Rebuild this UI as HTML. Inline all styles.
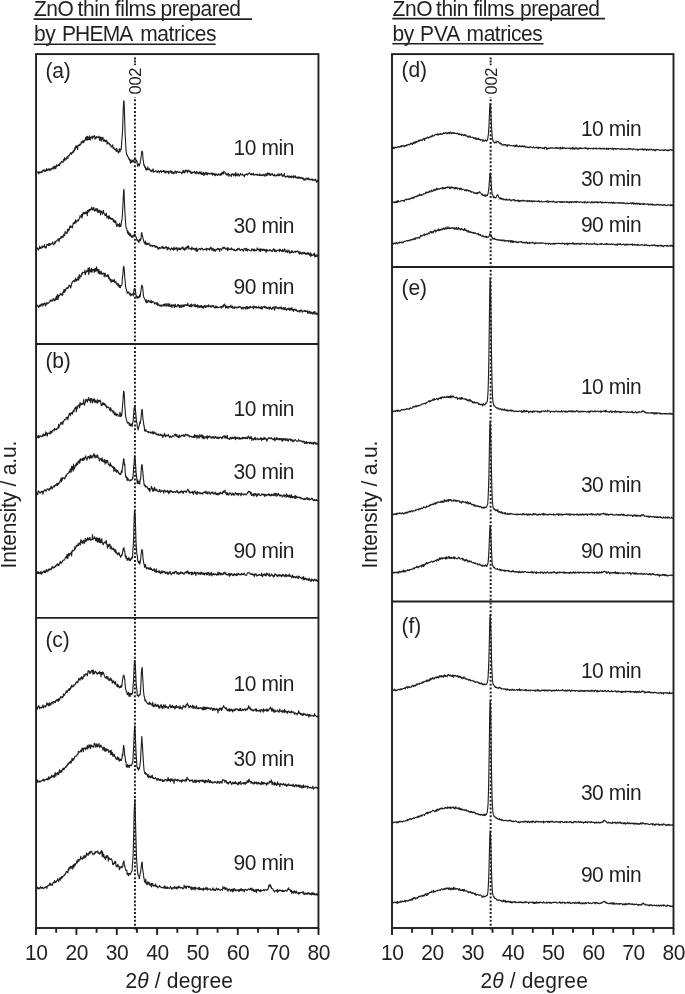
<!DOCTYPE html>
<html lang="en"><head><meta charset="utf-8"><title>XRD patterns of ZnO thin films</title>
<style>html,body{margin:0;padding:0;background:#fff}svg{display:block}</style></head>
<body>
<svg width="685" height="994" viewBox="0 0 685 994">
<rect width="685" height="994" fill="#fff"/>
<line x1="134.95" y1="57.5" x2="134.95" y2="65.6" stroke="#231f20" stroke-width="2.0" stroke-dasharray="2 1.06"/>
<line x1="134.95" y1="95.48" x2="134.95" y2="929.5" stroke="#231f20" stroke-width="2.0" stroke-dasharray="2.0 1.87"/>
<rect x="126.9" y="65.3" width="16" height="31.7" fill="#fff"/>
<line x1="490.65" y1="57.5" x2="490.65" y2="65.6" stroke="#231f20" stroke-width="2.0" stroke-dasharray="2 1.06"/>
<line x1="490.65" y1="95.48" x2="490.65" y2="929.5" stroke="#231f20" stroke-width="2.0" stroke-dasharray="2.0 1.87"/>
<rect x="482.6" y="65.3" width="16" height="31.7" fill="#fff"/>
<g fill="none" stroke="#231f20" stroke-width="1.12" stroke-linejoin="round">
<polyline points="36.0,173.0 36.5,173.2 36.9,172.6 37.3,172.0 37.7,172.4 38.1,171.8 38.5,172.7 38.9,173.8 39.3,172.1 39.7,171.9 40.1,172.8 40.5,172.6 40.9,172.3 41.3,171.3 41.7,172.1 42.1,172.6 42.5,170.7 42.9,171.4 43.3,170.0 43.7,170.4 44.1,169.8 44.5,171.2 44.9,170.1 45.3,171.4 45.7,171.2 46.1,170.8 46.5,168.5 46.9,170.2 47.3,170.5 47.8,170.5 48.2,168.8 48.6,169.7 49.0,169.0 49.4,169.0 49.8,170.7 50.2,168.7 50.6,169.3 51.0,170.0 51.4,168.4 51.8,168.7 52.2,168.7 52.6,168.4 53.0,167.0 53.4,168.0 53.8,169.1 54.2,166.0 54.6,168.2 55.0,167.2 55.4,166.2 55.8,168.6 56.2,167.1 56.6,164.8 57.0,165.9 57.4,166.1 57.8,165.1 58.2,165.7 58.6,164.6 59.0,165.1 59.5,165.6 59.9,163.1 60.3,163.7 60.7,162.7 61.1,163.0 61.5,161.2 61.9,161.6 62.3,161.7 62.7,162.5 63.1,162.5 63.5,159.4 63.9,159.6 64.3,160.8 64.7,157.5 65.1,158.8 65.5,158.9 65.9,160.1 66.3,159.0 66.7,157.5 67.1,157.0 67.5,156.8 67.9,158.5 68.3,155.7 68.7,155.5 69.1,155.9 69.5,154.9 69.9,154.4 70.3,152.8 70.8,153.8 71.2,152.8 71.6,154.4 72.0,153.3 72.4,152.1 72.8,152.5 73.2,150.8 73.6,152.2 74.0,150.4 74.4,150.8 74.8,147.9 75.2,149.6 75.6,146.5 76.0,145.7 76.4,147.5 76.8,146.3 77.2,147.3 77.6,149.7 78.0,145.2 78.4,145.1 78.8,145.8 79.2,145.8 79.6,144.5 80.0,144.1 80.4,145.0 80.8,144.4 81.2,141.9 81.6,142.9 82.0,142.7 82.5,140.9 82.9,142.4 83.3,140.5 83.7,142.8 84.1,141.4 84.5,140.9 84.9,139.7 85.3,140.1 85.7,137.2 86.1,138.1 86.5,140.0 86.9,136.3 87.3,140.3 87.7,136.4 88.1,139.8 88.5,137.3 88.9,139.5 89.3,138.4 89.7,135.8 90.1,139.7 90.5,139.9 90.9,137.6 91.3,137.2 91.7,137.3 92.1,136.1 92.5,139.0 92.9,136.6 93.3,137.3 93.8,136.2 94.2,136.4 94.6,135.5 95.0,139.2 95.4,137.2 95.8,138.8 96.2,137.5 96.6,136.5 97.0,137.1 97.4,136.9 97.8,137.8 98.2,137.4 98.6,137.6 99.0,136.1 99.4,137.1 99.8,140.8 100.2,137.6 100.6,137.2 101.0,139.4 101.4,141.1 101.8,137.2 102.2,139.1 102.6,138.7 103.0,137.3 103.4,141.1 103.8,140.3 104.2,140.6 104.6,139.7 105.0,141.7 105.5,140.5 105.9,141.3 106.3,140.3 106.7,140.4 107.1,144.2 107.5,142.0 107.9,143.4 108.3,143.2 108.7,142.9 109.1,143.2 109.5,145.0 109.9,144.1 110.3,144.6 110.7,145.1 111.1,147.0 111.5,146.7 111.9,146.6 112.3,145.6 112.7,144.9 113.1,148.3 113.5,148.7 113.9,147.5 114.3,148.7 114.7,149.4 115.1,149.7 115.5,150.2 115.9,148.7 116.3,151.5 116.7,148.2 117.2,151.2 117.6,150.9 118.0,151.6 118.4,153.1 118.8,152.7 119.2,149.4 119.6,148.7 120.0,151.8 120.4,149.1 120.8,149.7 121.2,149.5 121.6,143.6 122.0,138.2 122.4,134.1 122.8,123.2 123.2,110.6 123.6,101.8 124.0,100.8 124.4,109.7 124.8,124.6 125.2,134.7 125.6,142.0 126.0,150.2 126.4,152.7 126.8,155.2 127.2,154.9 127.6,156.3 128.0,156.7 128.5,157.5 128.9,159.3 129.3,158.7 129.7,160.4 130.1,160.8 130.5,163.1 130.9,159.6 131.3,162.4 131.7,161.5 132.1,161.8 132.5,160.2 132.9,161.1 133.3,162.0 133.7,160.3 134.1,159.5 134.5,158.3 134.9,159.9 135.3,159.6 135.7,158.5 136.1,161.6 136.5,161.2 136.9,160.6 137.3,164.0 137.7,166.3 138.1,165.1 138.5,163.9 138.9,164.0 139.3,165.9 139.7,164.2 140.2,162.7 140.6,160.4 141.0,157.3 141.4,154.5 141.8,151.4 142.2,151.1 142.6,152.7 143.0,158.6 143.4,160.8 143.8,165.3 144.2,164.5 144.6,166.7 145.0,167.5 145.4,166.7 145.8,170.0 146.2,170.0 146.6,168.4 147.0,169.8 147.4,169.6 147.8,166.8 148.2,169.7 148.6,169.6 149.0,169.8 149.4,168.8 149.8,169.7 150.2,169.9 150.6,171.3 151.0,170.6 151.5,170.3 151.9,171.9 152.3,170.0 152.7,170.2 153.1,168.9 153.5,172.2 153.9,171.7 154.3,171.7 154.7,171.5 155.1,171.0 155.5,171.2 155.9,170.8 156.3,170.9 156.7,171.2 157.1,172.6 157.5,171.7 157.9,171.2 158.3,170.8 158.7,170.7 159.1,172.9 159.5,171.9 159.9,171.5 160.3,171.1 160.7,170.5 161.1,171.5 161.5,172.4 161.9,171.2 162.3,171.4 162.7,171.4 163.2,171.8 163.6,170.2 164.0,171.5 164.4,170.9 164.8,172.6 165.2,171.1 165.6,172.3 166.0,173.2 166.4,171.5 166.8,171.3 167.2,172.1 167.6,171.9 168.0,171.0 168.4,172.3 168.8,173.8 169.2,171.7 169.6,171.8 170.0,171.0 170.4,172.3 170.8,170.9 171.2,171.0 171.6,173.2 172.0,171.2 172.4,173.0 172.8,173.5 173.2,172.3 173.6,172.6 174.0,173.9 174.5,171.9 174.9,171.6 175.3,170.9 175.7,172.2 176.1,173.5 176.5,173.0 176.9,171.3 177.3,171.4 177.7,171.7 178.1,172.5 178.5,172.0 178.9,172.4 179.3,172.5 179.7,171.9 180.1,172.2 180.5,172.4 180.9,172.2 181.3,172.7 181.7,173.9 182.1,172.8 182.5,172.3 182.9,170.7 183.3,172.6 183.7,170.4 184.1,170.9 184.5,172.9 184.9,172.6 185.3,171.7 185.7,170.0 186.2,170.9 186.6,170.2 187.0,171.2 187.4,172.6 187.8,170.8 188.2,170.2 188.6,170.2 189.0,171.6 189.4,171.7 189.8,171.0 190.2,172.3 190.6,171.2 191.0,173.4 191.4,173.3 191.8,173.4 192.2,172.0 192.6,173.0 193.0,172.4 193.4,172.2 193.8,172.3 194.2,171.4 194.6,171.3 195.0,173.4 195.4,172.5 195.8,172.9 196.2,173.7 196.6,171.2 197.0,172.1 197.4,173.0 197.9,173.2 198.3,172.6 198.7,173.9 199.1,173.2 199.5,171.9 199.9,172.2 200.3,173.8 200.7,173.6 201.1,171.5 201.5,174.4 201.9,173.8 202.3,174.5 202.7,173.0 203.1,173.1 203.5,172.4 203.9,175.7 204.3,173.3 204.7,174.9 205.1,173.0 205.5,173.8 205.9,172.2 206.3,173.4 206.7,174.6 207.1,172.7 207.5,174.8 207.9,174.2 208.3,173.0 208.7,173.5 209.2,173.6 209.6,174.0 210.0,173.6 210.4,173.4 210.8,173.9 211.2,173.3 211.6,173.1 212.0,174.2 212.4,175.1 212.8,173.0 213.2,174.4 213.6,173.8 214.0,173.6 214.4,175.2 214.8,174.1 215.2,175.8 215.6,173.9 216.0,174.9 216.4,174.4 216.8,174.0 217.2,175.2 217.6,174.5 218.0,175.2 218.4,174.7 218.8,173.8 219.2,174.6 219.6,174.8 220.0,175.5 220.4,173.9 220.9,174.6 221.3,173.1 221.7,175.0 222.1,173.3 222.5,172.3 222.9,173.5 223.3,174.0 223.7,171.3 224.1,171.5 224.5,172.0 224.9,172.1 225.3,173.9 225.7,173.2 226.1,173.6 226.5,175.0 226.9,174.0 227.3,175.1 227.7,174.0 228.1,173.8 228.5,173.3 228.9,176.5 229.3,174.6 229.7,175.1 230.1,174.9 230.5,175.1 230.9,175.0 231.3,176.6 231.7,174.1 232.2,173.7 232.6,174.1 233.0,173.9 233.4,175.6 233.8,175.7 234.2,174.2 234.6,173.8 235.0,174.7 235.4,176.2 235.8,172.6 236.2,175.5 236.6,174.1 237.0,175.9 237.4,174.1 237.8,174.8 238.2,173.8 238.6,174.2 239.0,176.2 239.4,175.7 239.8,174.7 240.2,174.3 240.6,173.4 241.0,174.7 241.4,175.0 241.8,175.0 242.2,175.0 242.6,174.1 243.0,175.0 243.4,175.0 243.9,176.1 244.3,176.6 244.7,174.9 245.1,174.3 245.5,174.9 245.9,174.4 246.3,174.2 246.7,174.7 247.1,173.7 247.5,175.0 247.9,174.1 248.3,174.1 248.7,173.5 249.1,172.9 249.5,172.9 249.9,173.7 250.3,173.7 250.7,174.7 251.1,174.6 251.5,173.6 251.9,174.9 252.3,173.8 252.7,174.4 253.1,174.7 253.5,173.2 253.9,175.1 254.3,175.2 254.7,174.9 255.2,174.7 255.6,174.7 256.0,174.2 256.4,174.8 256.8,174.6 257.2,175.2 257.6,174.0 258.0,175.3 258.4,175.2 258.8,175.0 259.2,174.7 259.6,175.6 260.0,173.7 260.4,175.5 260.8,175.3 261.2,175.3 261.6,175.4 262.0,174.5 262.4,174.9 262.8,175.6 263.2,175.5 263.6,175.3 264.0,173.8 264.4,175.5 264.8,176.1 265.2,175.9 265.6,175.2 266.0,173.7 266.4,175.8 266.9,174.9 267.3,172.8 267.7,175.2 268.1,173.4 268.5,173.4 268.9,173.7 269.3,175.1 269.7,173.4 270.1,173.9 270.5,175.3 270.9,175.4 271.3,174.2 271.7,174.3 272.1,173.6 272.5,174.3 272.9,175.3 273.3,175.4 273.7,175.2 274.1,175.9 274.5,174.4 274.9,175.1 275.3,175.8 275.7,175.6 276.1,176.1 276.5,175.5 276.9,174.9 277.3,175.5 277.7,174.4 278.1,173.9 278.6,175.8 279.0,175.2 279.4,175.6 279.8,173.9 280.2,175.0 280.6,174.9 281.0,174.7 281.4,173.5 281.8,175.2 282.2,176.3 282.6,175.9 283.0,175.1 283.4,175.6 283.8,176.3 284.2,173.4 284.6,175.6 285.0,176.2 285.4,176.4 285.8,177.3 286.2,176.8 286.6,176.2 287.0,176.2 287.4,176.7 287.8,175.6 288.2,176.1 288.6,176.9 289.0,177.8 289.4,176.1 289.9,176.3 290.3,176.5 290.7,177.5 291.1,176.4 291.5,177.7 291.9,175.8 292.3,176.5 292.7,176.5 293.1,177.4 293.5,177.7 293.9,175.6 294.3,176.2 294.7,177.3 295.1,176.5 295.5,175.9 295.9,178.0 296.3,177.6 296.7,177.7 297.1,177.0 297.5,178.3 297.9,177.3 298.3,178.4 298.7,176.9 299.1,177.0 299.5,177.9 299.9,177.3 300.3,178.4 300.7,178.2 301.1,177.3 301.6,178.1 302.0,177.9 302.4,178.9 302.8,177.8 303.2,178.0 303.6,179.4 304.0,180.2 304.4,180.1 304.8,178.7 305.2,178.9 305.6,179.9 306.0,178.7 306.4,178.1 306.8,179.0 307.2,179.4 307.6,178.5 308.0,177.9 308.4,178.1 308.8,179.8 309.2,178.8 309.6,179.3 310.0,179.6 310.4,180.0 310.8,179.4 311.2,180.0 311.6,179.1 312.0,179.5 312.4,179.1 312.9,180.8 313.3,180.0 313.7,179.5 314.1,179.8 314.5,180.0 314.9,180.7 315.3,179.1 315.7,179.6 316.1,180.1 316.5,182.3 316.9,181.2 317.3,180.5 317.7,181.1 318.1,182.1 318.5,180.5"/>
<polyline points="36.0,248.2 36.5,249.5 36.9,248.8 37.3,248.9 37.7,247.8 38.1,249.9 38.5,249.7 38.9,248.6 39.3,248.6 39.7,246.1 40.1,248.4 40.5,247.6 40.9,248.1 41.3,248.2 41.7,247.2 42.1,245.9 42.5,247.6 42.9,246.5 43.3,246.8 43.7,246.4 44.1,246.6 44.5,244.6 44.9,247.8 45.3,246.8 45.7,247.4 46.1,248.1 46.5,246.1 46.9,244.3 47.3,245.0 47.8,244.5 48.2,245.1 48.6,245.4 49.0,243.3 49.4,245.4 49.8,243.4 50.2,245.0 50.6,244.4 51.0,244.0 51.4,244.0 51.8,243.4 52.2,243.1 52.6,241.8 53.0,243.2 53.4,244.8 53.8,244.7 54.2,243.9 54.6,243.0 55.0,241.4 55.4,243.2 55.8,241.5 56.2,241.2 56.6,240.7 57.0,240.8 57.4,239.9 57.8,240.0 58.2,238.7 58.6,239.1 59.0,241.6 59.5,238.8 59.9,238.3 60.3,238.8 60.7,238.6 61.1,236.3 61.5,236.9 61.9,237.8 62.3,236.7 62.7,236.2 63.1,237.4 63.5,234.6 63.9,235.0 64.3,233.9 64.7,235.8 65.1,231.5 65.5,232.6 65.9,232.3 66.3,233.3 66.7,232.8 67.1,233.3 67.5,229.4 67.9,231.7 68.3,230.0 68.7,229.1 69.1,230.2 69.5,227.9 69.9,226.1 70.3,227.7 70.8,225.9 71.2,226.5 71.6,227.3 72.0,226.8 72.4,227.9 72.8,225.2 73.2,223.0 73.6,223.6 74.0,222.9 74.4,222.1 74.8,223.8 75.2,221.9 75.6,219.7 76.0,222.8 76.4,221.3 76.8,221.5 77.2,220.7 77.6,221.0 78.0,219.7 78.4,220.9 78.8,219.4 79.2,219.0 79.6,218.6 80.0,215.6 80.4,217.0 80.8,216.5 81.2,216.8 81.6,214.2 82.0,218.0 82.5,215.5 82.9,213.3 83.3,212.3 83.7,214.0 84.1,213.9 84.5,212.7 84.9,213.6 85.3,212.2 85.7,213.7 86.1,211.6 86.5,212.3 86.9,213.5 87.3,215.6 87.7,210.2 88.1,210.8 88.5,210.0 88.9,212.2 89.3,209.2 89.7,210.0 90.1,210.6 90.5,209.0 90.9,209.0 91.3,209.6 91.7,207.1 92.1,208.0 92.5,209.4 92.9,210.2 93.3,209.7 93.8,207.3 94.2,209.3 94.6,211.1 95.0,210.8 95.4,209.9 95.8,208.7 96.2,211.0 96.6,209.3 97.0,208.5 97.4,209.1 97.8,212.6 98.2,210.8 98.6,212.3 99.0,210.1 99.4,212.3 99.8,210.2 100.2,211.0 100.6,215.0 101.0,212.7 101.4,211.0 101.8,211.8 102.2,212.6 102.6,214.1 103.0,211.9 103.4,210.3 103.8,212.7 104.2,213.3 104.6,213.7 105.0,215.7 105.5,214.6 105.9,215.5 106.3,213.1 106.7,216.2 107.1,218.2 107.5,216.7 107.9,216.2 108.3,216.4 108.7,219.0 109.1,215.6 109.5,217.0 109.9,218.2 110.3,218.9 110.7,217.6 111.1,219.0 111.5,218.5 111.9,219.4 112.3,219.4 112.7,218.4 113.1,220.3 113.5,221.9 113.9,219.7 114.3,221.1 114.7,222.6 115.1,220.7 115.5,222.7 115.9,221.4 116.3,224.6 116.7,226.4 117.2,226.4 117.6,223.8 118.0,225.3 118.4,224.7 118.8,224.9 119.2,227.0 119.6,223.4 120.0,226.5 120.4,225.0 120.8,226.5 121.2,224.1 121.6,221.3 122.0,219.5 122.4,215.1 122.8,206.8 123.2,199.1 123.6,191.3 124.0,189.2 124.4,200.7 124.8,209.6 125.2,216.7 125.6,222.5 126.0,227.5 126.4,228.0 126.8,229.2 127.2,230.9 127.6,233.3 128.0,231.0 128.5,234.5 128.9,232.9 129.3,232.9 129.7,236.0 130.1,234.8 130.5,233.8 130.9,235.2 131.3,237.0 131.7,237.5 132.1,235.9 132.5,236.9 132.9,237.2 133.3,235.4 133.7,236.1 134.1,235.0 134.5,233.9 134.9,234.1 135.3,235.5 135.7,236.6 136.1,237.0 136.5,238.0 136.9,240.3 137.3,239.7 137.7,240.8 138.1,241.3 138.5,240.8 138.9,242.7 139.3,239.4 139.7,240.9 140.2,239.1 140.6,240.4 141.0,238.8 141.4,232.9 141.8,232.7 142.2,234.8 142.6,236.5 143.0,238.6 143.4,239.6 143.8,241.5 144.2,242.6 144.6,242.5 145.0,244.0 145.4,241.0 145.8,244.1 146.2,242.7 146.6,244.8 147.0,243.8 147.4,243.3 147.8,244.7 148.2,243.5 148.6,243.7 149.0,243.2 149.4,244.7 149.8,245.4 150.2,246.0 150.6,244.9 151.0,246.2 151.5,245.3 151.9,245.3 152.3,246.0 152.7,246.6 153.1,245.4 153.5,245.6 153.9,245.8 154.3,246.1 154.7,245.4 155.1,247.3 155.5,246.1 155.9,247.1 156.3,246.0 156.7,247.3 157.1,247.4 157.5,246.8 157.9,249.2 158.3,247.8 158.7,249.2 159.1,248.6 159.5,247.2 159.9,247.5 160.3,248.3 160.7,248.1 161.1,248.1 161.5,247.8 161.9,246.5 162.3,248.0 162.7,246.2 163.2,248.6 163.6,247.6 164.0,247.7 164.4,248.1 164.8,248.6 165.2,247.1 165.6,246.9 166.0,247.5 166.4,246.7 166.8,247.6 167.2,249.9 167.6,247.6 168.0,249.1 168.4,247.4 168.8,248.8 169.2,248.3 169.6,248.6 170.0,249.1 170.4,250.2 170.8,248.8 171.2,248.8 171.6,247.8 172.0,249.2 172.4,248.5 172.8,249.5 173.2,248.7 173.6,250.3 174.0,247.0 174.5,248.5 174.9,249.5 175.3,248.5 175.7,248.1 176.1,248.6 176.5,247.6 176.9,248.9 177.3,250.9 177.7,249.8 178.1,247.8 178.5,248.1 178.9,248.5 179.3,249.7 179.7,248.1 180.1,248.2 180.5,249.6 180.9,249.6 181.3,248.5 181.7,247.9 182.1,247.5 182.5,248.2 182.9,246.9 183.3,249.5 183.7,248.2 184.1,249.2 184.5,250.3 184.9,249.7 185.3,247.5 185.7,249.1 186.2,249.1 186.6,247.1 187.0,246.7 187.4,247.4 187.8,246.1 188.2,249.1 188.6,245.9 189.0,247.4 189.4,248.3 189.8,248.5 190.2,248.9 190.6,249.1 191.0,248.7 191.4,249.9 191.8,247.1 192.2,248.9 192.6,248.3 193.0,249.1 193.4,249.2 193.8,248.2 194.2,248.4 194.6,249.7 195.0,249.3 195.4,248.4 195.8,250.8 196.2,251.1 196.6,247.8 197.0,249.3 197.4,251.3 197.9,249.8 198.3,249.3 198.7,248.9 199.1,248.6 199.5,248.9 199.9,248.6 200.3,249.8 200.7,248.8 201.1,248.8 201.5,248.1 201.9,249.1 202.3,248.4 202.7,249.0 203.1,250.1 203.5,249.5 203.9,249.6 204.3,249.5 204.7,249.2 205.1,249.1 205.5,248.9 205.9,249.9 206.3,248.3 206.7,250.4 207.1,249.3 207.5,248.6 207.9,248.8 208.3,248.7 208.7,249.4 209.2,248.6 209.6,250.3 210.0,248.6 210.4,247.3 210.8,248.6 211.2,247.6 211.6,249.3 212.0,250.2 212.4,249.9 212.8,248.2 213.2,248.7 213.6,250.9 214.0,249.6 214.4,249.3 214.8,250.2 215.2,251.5 215.6,250.5 216.0,249.5 216.4,249.7 216.8,249.9 217.2,248.8 217.6,248.4 218.0,249.4 218.4,248.5 218.8,249.3 219.2,249.4 219.6,251.4 220.0,248.6 220.4,249.2 220.9,249.1 221.3,249.6 221.7,250.1 222.1,248.6 222.5,248.1 222.9,247.2 223.3,247.5 223.7,248.6 224.1,248.0 224.5,247.2 224.9,248.0 225.3,248.7 225.7,249.3 226.1,248.6 226.5,249.0 226.9,247.7 227.3,248.4 227.7,250.8 228.1,247.6 228.5,249.2 228.9,249.7 229.3,249.2 229.7,248.8 230.1,249.5 230.5,249.5 230.9,249.5 231.3,247.9 231.7,249.4 232.2,248.8 232.6,249.1 233.0,249.8 233.4,250.1 233.8,250.4 234.2,249.2 234.6,250.4 235.0,250.6 235.4,250.6 235.8,250.8 236.2,249.5 236.6,249.5 237.0,250.3 237.4,248.5 237.8,249.8 238.2,249.2 238.6,249.3 239.0,248.2 239.4,248.9 239.8,249.7 240.2,250.4 240.6,250.5 241.0,249.6 241.4,249.5 241.8,249.0 242.2,250.0 242.6,249.5 243.0,250.2 243.4,251.2 243.9,249.7 244.3,248.4 244.7,249.0 245.1,248.5 245.5,248.7 245.9,250.9 246.3,249.9 246.7,248.4 247.1,250.3 247.5,250.8 247.9,249.4 248.3,249.2 248.7,249.5 249.1,250.0 249.5,250.3 249.9,250.8 250.3,250.8 250.7,250.8 251.1,251.0 251.5,250.4 251.9,248.5 252.3,249.7 252.7,250.1 253.1,249.5 253.5,250.6 253.9,249.5 254.3,249.0 254.7,251.1 255.2,250.4 255.6,250.0 256.0,250.6 256.4,250.8 256.8,250.2 257.2,247.8 257.6,249.3 258.0,249.5 258.4,249.0 258.8,250.1 259.2,250.9 259.6,249.5 260.0,248.9 260.4,251.6 260.8,249.5 261.2,248.9 261.6,250.1 262.0,250.3 262.4,249.3 262.8,250.6 263.2,249.5 263.6,249.2 264.0,250.1 264.4,250.6 264.8,249.4 265.2,250.3 265.6,249.9 266.0,252.4 266.4,249.4 266.9,251.2 267.3,250.0 267.7,249.9 268.1,250.7 268.5,250.8 268.9,251.1 269.3,250.3 269.7,249.6 270.1,249.6 270.5,250.5 270.9,250.6 271.3,251.3 271.7,250.5 272.1,251.0 272.5,251.4 272.9,250.3 273.3,248.9 273.7,249.2 274.1,249.0 274.5,251.5 274.9,249.5 275.3,251.2 275.7,250.7 276.1,251.7 276.5,251.1 276.9,250.2 277.3,250.1 277.7,250.4 278.1,250.5 278.6,249.9 279.0,250.3 279.4,251.7 279.8,249.0 280.2,250.7 280.6,249.7 281.0,250.7 281.4,251.2 281.8,250.5 282.2,251.2 282.6,249.3 283.0,251.6 283.4,250.2 283.8,251.2 284.2,250.9 284.6,248.7 285.0,250.2 285.4,251.1 285.8,252.2 286.2,251.2 286.6,251.2 287.0,249.9 287.4,252.3 287.8,252.6 288.2,251.2 288.6,251.1 289.0,250.0 289.4,252.1 289.9,253.6 290.3,252.0 290.7,252.5 291.1,252.0 291.5,250.8 291.9,252.7 292.3,250.7 292.7,251.6 293.1,252.0 293.5,252.6 293.9,252.3 294.3,252.3 294.7,251.4 295.1,251.1 295.5,252.2 295.9,251.6 296.3,251.2 296.7,251.3 297.1,252.0 297.5,251.0 297.9,251.4 298.3,251.3 298.7,252.8 299.1,253.0 299.5,254.3 299.9,251.6 300.3,252.3 300.7,253.6 301.1,252.8 301.6,252.8 302.0,254.4 302.4,252.9 302.8,252.3 303.2,252.3 303.6,253.6 304.0,253.7 304.4,252.4 304.8,252.8 305.2,254.0 305.6,254.1 306.0,253.2 306.4,254.3 306.8,254.3 307.2,252.6 307.6,253.7 308.0,254.4 308.4,253.7 308.8,252.6 309.2,254.0 309.6,254.9 310.0,255.5 310.4,252.8 310.8,256.4 311.2,253.7 311.6,255.3 312.0,255.6 312.4,255.4 312.9,254.9 313.3,254.0 313.7,255.3 314.1,254.4 314.5,253.1 314.9,257.1 315.3,255.6 315.7,256.5 316.1,254.5 316.5,256.3 316.9,256.5 317.3,256.5 317.7,255.4 318.1,254.6 318.5,255.4"/>
<polyline points="36.0,304.2 36.5,304.6 36.9,306.1 37.3,305.1 37.7,305.8 38.1,305.7 38.5,307.5 38.9,306.8 39.3,305.6 39.7,306.6 40.1,304.7 40.5,305.0 40.9,306.1 41.3,304.0 41.7,304.8 42.1,303.7 42.5,304.9 42.9,306.2 43.3,303.9 43.7,304.6 44.1,303.5 44.5,303.1 44.9,302.9 45.3,305.3 45.7,306.0 46.1,304.1 46.5,302.8 46.9,304.0 47.3,302.8 47.8,303.7 48.2,303.1 48.6,302.9 49.0,303.0 49.4,301.7 49.8,301.6 50.2,300.2 50.6,301.2 51.0,300.0 51.4,301.1 51.8,300.0 52.2,300.9 52.6,301.0 53.0,298.9 53.4,299.2 53.8,298.8 54.2,300.3 54.6,301.0 55.0,299.9 55.4,298.4 55.8,300.0 56.2,296.6 56.6,299.4 57.0,296.9 57.4,294.3 57.8,299.8 58.2,298.3 58.6,295.2 59.0,296.2 59.5,295.4 59.9,295.4 60.3,293.4 60.7,293.9 61.1,294.8 61.5,294.2 61.9,294.9 62.3,293.3 62.7,295.5 63.1,291.6 63.5,292.4 63.9,289.5 64.3,289.8 64.7,292.4 65.1,289.4 65.5,290.7 65.9,289.6 66.3,288.0 66.7,288.5 67.1,287.8 67.5,287.5 67.9,288.5 68.3,288.0 68.7,286.1 69.1,285.2 69.5,286.3 69.9,285.4 70.3,286.4 70.8,288.0 71.2,285.3 71.6,283.8 72.0,283.1 72.4,281.8 72.8,281.4 73.2,280.8 73.6,281.2 74.0,280.7 74.4,281.8 74.8,279.9 75.2,279.8 75.6,278.0 76.0,281.4 76.4,279.5 76.8,280.8 77.2,279.1 77.6,279.7 78.0,276.9 78.4,277.9 78.8,280.3 79.2,274.5 79.6,277.5 80.0,277.8 80.4,275.7 80.8,275.9 81.2,276.3 81.6,273.3 82.0,274.5 82.5,272.4 82.9,272.3 83.3,272.2 83.7,272.6 84.1,272.7 84.5,273.0 84.9,270.0 85.3,274.8 85.7,273.3 86.1,272.5 86.5,270.7 86.9,270.9 87.3,271.7 87.7,271.4 88.1,268.1 88.5,271.6 88.9,274.7 89.3,267.5 89.7,271.7 90.1,270.7 90.5,269.9 90.9,272.1 91.3,268.2 91.7,270.2 92.1,272.2 92.5,269.7 92.9,269.3 93.3,270.2 93.8,269.4 94.2,272.4 94.6,268.8 95.0,271.5 95.4,268.4 95.8,271.3 96.2,270.3 96.6,266.7 97.0,270.6 97.4,269.2 97.8,270.3 98.2,273.3 98.6,269.6 99.0,269.8 99.4,273.7 99.8,271.9 100.2,274.2 100.6,272.6 101.0,271.0 101.4,272.4 101.8,274.5 102.2,274.3 102.6,273.2 103.0,273.5 103.4,273.5 103.8,273.1 104.2,277.0 104.6,274.5 105.0,273.1 105.5,274.4 105.9,276.4 106.3,276.5 106.7,275.7 107.1,275.3 107.5,276.6 107.9,274.5 108.3,275.3 108.7,278.6 109.1,277.1 109.5,278.7 109.9,280.2 110.3,279.7 110.7,279.2 111.1,282.4 111.5,280.7 111.9,279.7 112.3,281.5 112.7,281.4 113.1,280.0 113.5,281.6 113.9,281.6 114.3,279.6 114.7,282.3 115.1,282.5 115.5,282.6 115.9,281.4 116.3,283.4 116.7,284.1 117.2,284.6 117.6,283.3 118.0,285.9 118.4,283.8 118.8,285.3 119.2,287.5 119.6,285.2 120.0,285.5 120.4,287.6 120.8,285.7 121.2,285.4 121.6,285.2 122.0,284.7 122.4,277.4 122.8,275.2 123.2,270.1 123.6,266.4 124.0,267.0 124.4,271.3 124.8,278.3 125.2,281.4 125.6,286.2 126.0,288.9 126.4,289.0 126.8,291.0 127.2,293.4 127.6,292.4 128.0,291.8 128.5,292.8 128.9,292.2 129.3,293.9 129.7,294.9 130.1,293.2 130.5,294.2 130.9,295.9 131.3,294.2 131.7,295.1 132.1,293.8 132.5,293.8 132.9,293.7 133.3,295.9 133.7,291.6 134.1,289.7 134.5,288.2 134.9,288.5 135.3,290.9 135.7,292.5 136.1,296.4 136.5,295.8 136.9,298.1 137.3,297.4 137.7,298.2 138.1,296.2 138.5,297.7 138.9,297.7 139.3,297.3 139.7,294.7 140.2,296.7 140.6,293.4 141.0,290.5 141.4,287.5 141.8,285.0 142.2,286.0 142.6,286.7 143.0,290.7 143.4,295.2 143.8,297.3 144.2,298.2 144.6,298.9 145.0,299.2 145.4,300.4 145.8,301.9 146.2,299.9 146.6,302.7 147.0,302.2 147.4,301.0 147.8,302.4 148.2,300.3 148.6,300.2 149.0,300.7 149.4,301.7 149.8,301.9 150.2,301.8 150.6,302.4 151.0,300.4 151.5,303.0 151.9,301.2 152.3,302.0 152.7,302.4 153.1,301.8 153.5,301.7 153.9,302.1 154.3,303.2 154.7,303.9 155.1,304.0 155.5,302.7 155.9,303.0 156.3,303.0 156.7,304.4 157.1,302.3 157.5,305.4 157.9,303.9 158.3,303.8 158.7,304.9 159.1,305.7 159.5,305.1 159.9,305.9 160.3,305.1 160.7,306.1 161.1,306.2 161.5,305.0 161.9,306.4 162.3,305.3 162.7,305.3 163.2,304.4 163.6,305.0 164.0,306.0 164.4,304.1 164.8,305.9 165.2,305.7 165.6,305.6 166.0,303.4 166.4,305.3 166.8,306.0 167.2,304.8 167.6,305.6 168.0,303.4 168.4,306.1 168.8,304.9 169.2,306.3 169.6,303.9 170.0,306.2 170.4,305.4 170.8,306.3 171.2,304.8 171.6,305.1 172.0,307.7 172.4,304.9 172.8,305.0 173.2,305.4 173.6,304.8 174.0,306.8 174.5,307.3 174.9,305.1 175.3,304.2 175.7,306.8 176.1,306.7 176.5,306.5 176.9,306.8 177.3,305.0 177.7,305.6 178.1,304.5 178.5,304.5 178.9,306.7 179.3,305.2 179.7,307.8 180.1,305.9 180.5,305.2 180.9,306.5 181.3,307.4 181.7,306.2 182.1,304.7 182.5,306.1 182.9,307.0 183.3,305.3 183.7,305.1 184.1,306.6 184.5,305.8 184.9,304.6 185.3,305.1 185.7,304.6 186.2,305.3 186.6,304.9 187.0,305.6 187.4,305.1 187.8,303.1 188.2,305.2 188.6,305.9 189.0,305.7 189.4,306.5 189.8,305.2 190.2,304.9 190.6,306.7 191.0,304.9 191.4,304.0 191.8,306.9 192.2,305.3 192.6,305.7 193.0,304.8 193.4,304.8 193.8,305.0 194.2,305.7 194.6,306.4 195.0,304.0 195.4,306.8 195.8,305.1 196.2,305.2 196.6,306.7 197.0,306.1 197.4,304.8 197.9,307.8 198.3,305.4 198.7,306.4 199.1,306.4 199.5,307.5 199.9,305.8 200.3,307.1 200.7,305.6 201.1,307.3 201.5,305.6 201.9,306.0 202.3,308.0 202.7,306.6 203.1,306.4 203.5,308.3 203.9,306.7 204.3,305.7 204.7,307.0 205.1,305.4 205.5,307.4 205.9,307.5 206.3,305.9 206.7,305.9 207.1,306.6 207.5,306.5 207.9,305.6 208.3,307.0 208.7,304.7 209.2,306.2 209.6,306.2 210.0,306.3 210.4,306.8 210.8,305.5 211.2,307.1 211.6,306.5 212.0,306.1 212.4,305.4 212.8,305.6 213.2,307.0 213.6,305.8 214.0,306.7 214.4,307.6 214.8,307.6 215.2,308.1 215.6,306.5 216.0,305.8 216.4,307.6 216.8,307.0 217.2,307.7 217.6,306.8 218.0,307.8 218.4,307.5 218.8,307.4 219.2,307.2 219.6,307.1 220.0,307.0 220.4,306.9 220.9,307.6 221.3,306.2 221.7,308.1 222.1,306.3 222.5,307.0 222.9,305.7 223.3,305.2 223.7,307.0 224.1,304.7 224.5,304.0 224.9,304.8 225.3,305.6 225.7,308.1 226.1,306.6 226.5,307.5 226.9,305.9 227.3,307.2 227.7,307.5 228.1,308.5 228.5,306.4 228.9,307.5 229.3,307.3 229.7,306.2 230.1,307.0 230.5,306.8 230.9,305.1 231.3,307.6 231.7,307.6 232.2,306.7 232.6,306.0 233.0,308.4 233.4,307.4 233.8,308.0 234.2,308.4 234.6,306.7 235.0,307.9 235.4,307.0 235.8,307.2 236.2,307.1 236.6,307.2 237.0,308.2 237.4,307.3 237.8,307.1 238.2,307.0 238.6,307.6 239.0,306.5 239.4,306.8 239.8,307.2 240.2,306.8 240.6,307.2 241.0,306.8 241.4,309.0 241.8,308.5 242.2,307.7 242.6,307.3 243.0,309.2 243.4,307.6 243.9,307.3 244.3,307.6 244.7,307.6 245.1,308.6 245.5,307.3 245.9,309.2 246.3,306.6 246.7,308.0 247.1,306.5 247.5,309.0 247.9,307.1 248.3,307.4 248.7,308.2 249.1,308.5 249.5,306.5 249.9,307.1 250.3,306.2 250.7,307.6 251.1,307.4 251.5,307.2 251.9,306.9 252.3,307.1 252.7,306.8 253.1,307.9 253.5,308.8 253.9,305.8 254.3,307.4 254.7,307.1 255.2,307.9 255.6,306.7 256.0,307.4 256.4,306.6 256.8,308.1 257.2,307.6 257.6,307.4 258.0,307.9 258.4,307.4 258.8,306.2 259.2,308.1 259.6,307.8 260.0,307.5 260.4,308.5 260.8,308.7 261.2,306.7 261.6,307.0 262.0,309.0 262.4,308.9 262.8,307.0 263.2,306.7 263.6,307.1 264.0,307.3 264.4,306.3 264.8,307.7 265.2,306.6 265.6,306.7 266.0,308.5 266.4,307.2 266.9,307.7 267.3,308.3 267.7,308.5 268.1,307.5 268.5,307.8 268.9,307.1 269.3,309.3 269.7,308.4 270.1,306.9 270.5,307.9 270.9,308.5 271.3,308.3 271.7,309.4 272.1,309.1 272.5,307.5 272.9,307.9 273.3,306.8 273.7,308.2 274.1,308.1 274.5,310.3 274.9,308.1 275.3,306.2 275.7,307.5 276.1,308.1 276.5,307.0 276.9,307.3 277.3,307.8 277.7,308.4 278.1,308.0 278.6,307.4 279.0,308.9 279.4,307.8 279.8,307.8 280.2,307.1 280.6,307.7 281.0,308.9 281.4,307.0 281.8,308.4 282.2,309.1 282.6,308.2 283.0,308.7 283.4,307.6 283.8,309.7 284.2,309.6 284.6,308.9 285.0,307.3 285.4,307.9 285.8,309.6 286.2,310.3 286.6,309.1 287.0,310.0 287.4,308.5 287.8,308.9 288.2,309.1 288.6,309.5 289.0,307.9 289.4,310.0 289.9,310.4 290.3,308.4 290.7,308.3 291.1,309.7 291.5,309.0 291.9,307.6 292.3,310.3 292.7,309.8 293.1,309.3 293.5,311.5 293.9,309.9 294.3,309.3 294.7,310.0 295.1,309.2 295.5,309.5 295.9,310.4 296.3,309.7 296.7,309.9 297.1,311.6 297.5,311.1 297.9,311.1 298.3,310.9 298.7,310.9 299.1,311.8 299.5,310.7 299.9,312.2 300.3,310.1 300.7,310.7 301.1,309.9 301.6,310.7 302.0,311.5 302.4,312.3 302.8,310.7 303.2,311.3 303.6,311.0 304.0,310.8 304.4,310.5 304.8,311.5 305.2,310.2 305.6,311.7 306.0,311.7 306.4,311.3 306.8,311.0 307.2,310.8 307.6,313.4 308.0,311.0 308.4,313.2 308.8,312.6 309.2,311.9 309.6,311.4 310.0,313.1 310.4,313.7 310.8,311.7 311.2,312.3 311.6,313.3 312.0,312.9 312.4,314.2 312.9,312.3 313.3,313.2 313.7,311.9 314.1,314.5 314.5,312.4 314.9,311.4 315.3,313.0 315.7,313.0 316.1,314.6 316.5,313.0 316.9,313.3 317.3,313.8 317.7,314.6 318.1,313.4 318.5,314.3"/>
<polyline points="36.0,437.6 36.5,436.9 36.9,437.1 37.3,437.0 37.7,436.1 38.1,437.9 38.5,435.5 38.9,437.6 39.3,437.4 39.7,436.3 40.1,435.6 40.5,436.0 40.9,436.5 41.3,436.6 41.7,436.1 42.1,436.6 42.5,435.1 42.9,435.7 43.3,433.9 43.7,435.9 44.1,435.2 44.5,434.5 44.9,435.8 45.3,435.3 45.7,431.8 46.1,434.3 46.5,432.8 46.9,435.0 47.3,436.1 47.8,433.1 48.2,433.5 48.6,433.0 49.0,433.3 49.4,433.4 49.8,433.8 50.2,431.4 50.6,433.7 51.0,431.0 51.4,431.9 51.8,432.6 52.2,431.9 52.6,430.0 53.0,430.0 53.4,429.9 53.8,430.1 54.2,431.0 54.6,428.3 55.0,429.8 55.4,429.6 55.8,429.3 56.2,428.9 56.6,429.7 57.0,428.3 57.4,428.3 57.8,427.7 58.2,428.7 58.6,424.4 59.0,427.5 59.5,425.4 59.9,425.1 60.3,423.9 60.7,422.6 61.1,423.8 61.5,423.1 61.9,424.1 62.3,421.5 62.7,424.4 63.1,422.6 63.5,421.6 63.9,420.7 64.3,420.2 64.7,419.4 65.1,419.6 65.5,419.9 65.9,419.2 66.3,417.3 66.7,418.3 67.1,417.1 67.5,417.9 67.9,419.6 68.3,417.6 68.7,416.0 69.1,414.0 69.5,413.8 69.9,413.0 70.3,415.6 70.8,413.3 71.2,413.9 71.6,412.6 72.0,413.0 72.4,414.3 72.8,411.2 73.2,411.2 73.6,410.1 74.0,411.9 74.4,409.0 74.8,408.4 75.2,407.7 75.6,407.2 76.0,409.3 76.4,411.8 76.8,406.6 77.2,408.8 77.6,407.5 78.0,405.3 78.4,406.0 78.8,405.7 79.2,404.7 79.6,408.0 80.0,402.4 80.4,405.2 80.8,404.8 81.2,403.2 81.6,404.0 82.0,404.7 82.5,403.4 82.9,403.5 83.3,403.6 83.7,399.5 84.1,404.3 84.5,405.2 84.9,403.1 85.3,403.0 85.7,399.3 86.1,401.0 86.5,399.8 86.9,400.0 87.3,402.1 87.7,399.4 88.1,400.2 88.5,397.5 88.9,400.0 89.3,400.3 89.7,399.0 90.1,399.0 90.5,402.7 90.9,398.2 91.3,398.4 91.7,398.8 92.1,401.7 92.5,403.0 92.9,400.5 93.3,399.0 93.8,399.5 94.2,401.7 94.6,398.9 95.0,402.4 95.4,402.5 95.8,400.6 96.2,401.5 96.6,401.8 97.0,403.1 97.4,399.5 97.8,402.9 98.2,400.8 98.6,400.4 99.0,401.8 99.4,401.5 99.8,400.6 100.2,400.0 100.6,401.1 101.0,404.7 101.4,405.7 101.8,404.1 102.2,405.1 102.6,402.9 103.0,403.8 103.4,404.5 103.8,402.9 104.2,403.3 104.6,405.1 105.0,404.8 105.5,404.1 105.9,406.4 106.3,405.8 106.7,407.9 107.1,406.8 107.5,406.7 107.9,407.6 108.3,407.5 108.7,407.2 109.1,407.9 109.5,409.8 109.9,410.0 110.3,411.1 110.7,407.5 111.1,409.6 111.5,409.9 111.9,411.0 112.3,410.5 112.7,410.8 113.1,412.8 113.5,412.4 113.9,411.0 114.3,414.6 114.7,414.5 115.1,412.8 115.5,414.9 115.9,413.2 116.3,415.9 116.7,414.5 117.2,414.1 117.6,414.9 118.0,414.7 118.4,416.1 118.8,416.3 119.2,416.3 119.6,415.8 120.0,412.0 120.4,416.6 120.8,413.9 121.2,416.0 121.6,416.0 122.0,412.6 122.4,407.9 122.8,402.8 123.2,396.6 123.6,391.3 124.0,391.5 124.4,396.3 124.8,406.2 125.2,410.5 125.6,416.1 126.0,417.5 126.4,419.7 126.8,420.5 127.2,422.1 127.6,423.1 128.0,422.9 128.5,422.3 128.9,422.5 129.3,425.5 129.7,423.6 130.1,423.8 130.5,425.9 130.9,425.6 131.3,425.0 131.7,423.9 132.1,426.6 132.5,423.6 132.9,422.3 133.3,418.8 133.7,413.4 134.1,408.6 134.5,406.9 134.9,406.2 135.3,408.7 135.7,412.6 136.1,417.0 136.5,421.8 136.9,422.8 137.3,426.7 137.7,427.8 138.1,430.0 138.5,428.1 138.9,426.4 139.3,425.8 139.7,422.1 140.2,423.5 140.6,421.1 141.0,418.4 141.4,413.3 141.8,409.8 142.2,409.4 142.6,413.9 143.0,419.8 143.4,421.3 143.8,425.2 144.2,426.3 144.6,430.7 145.0,431.1 145.4,431.0 145.8,429.4 146.2,431.1 146.6,431.0 147.0,431.5 147.4,431.4 147.8,432.2 148.2,431.5 148.6,432.8 149.0,432.4 149.4,432.0 149.8,432.2 150.2,432.0 150.6,433.3 151.0,432.4 151.5,433.0 151.9,432.4 152.3,431.4 152.7,433.8 153.1,432.1 153.5,433.8 153.9,433.7 154.3,431.9 154.7,432.7 155.1,433.2 155.5,433.1 155.9,432.9 156.3,434.8 156.7,434.0 157.1,434.7 157.5,434.1 157.9,434.9 158.3,434.1 158.7,434.8 159.1,435.5 159.5,435.1 159.9,434.7 160.3,434.2 160.7,435.4 161.1,435.6 161.5,435.1 161.9,434.7 162.3,435.9 162.7,437.7 163.2,435.2 163.6,435.8 164.0,435.9 164.4,433.2 164.8,435.7 165.2,435.0 165.6,436.9 166.0,435.4 166.4,435.0 166.8,435.5 167.2,435.9 167.6,435.2 168.0,435.7 168.4,434.6 168.8,435.6 169.2,436.5 169.6,437.6 170.0,436.5 170.4,436.1 170.8,436.9 171.2,436.8 171.6,437.4 172.0,436.9 172.4,435.8 172.8,436.2 173.2,436.1 173.6,436.2 174.0,436.1 174.5,435.3 174.9,434.1 175.3,435.4 175.7,434.2 176.1,436.1 176.5,436.0 176.9,434.5 177.3,436.6 177.7,436.8 178.1,436.1 178.5,437.5 178.9,437.7 179.3,435.0 179.7,437.0 180.1,436.4 180.5,436.4 180.9,436.9 181.3,435.4 181.7,435.5 182.1,435.3 182.5,435.4 182.9,436.0 183.3,434.7 183.7,435.1 184.1,436.5 184.5,435.9 184.9,436.2 185.3,434.0 185.7,434.8 186.2,434.8 186.6,435.1 187.0,434.3 187.4,435.6 187.8,434.8 188.2,435.1 188.6,435.4 189.0,436.3 189.4,435.4 189.8,437.0 190.2,436.5 190.6,436.3 191.0,436.2 191.4,436.7 191.8,437.2 192.2,437.1 192.6,436.6 193.0,437.1 193.4,436.4 193.8,437.5 194.2,436.4 194.6,434.6 195.0,437.6 195.4,436.5 195.8,435.4 196.2,436.3 196.6,435.7 197.0,438.4 197.4,437.0 197.9,435.2 198.3,437.1 198.7,436.3 199.1,438.3 199.5,435.7 199.9,434.7 200.3,436.8 200.7,436.4 201.1,436.4 201.5,434.9 201.9,437.2 202.3,438.3 202.7,435.2 203.1,437.9 203.5,436.4 203.9,439.0 204.3,437.3 204.7,436.8 205.1,438.0 205.5,437.5 205.9,436.5 206.3,437.7 206.7,436.6 207.1,435.6 207.5,438.9 207.9,436.9 208.3,436.7 208.7,437.5 209.2,435.9 209.6,436.1 210.0,436.9 210.4,436.9 210.8,437.4 211.2,438.3 211.6,437.0 212.0,437.8 212.4,437.9 212.8,436.5 213.2,437.7 213.6,436.7 214.0,438.4 214.4,437.9 214.8,437.6 215.2,436.4 215.6,437.7 216.0,436.9 216.4,438.2 216.8,437.5 217.2,437.0 217.6,438.5 218.0,438.3 218.4,437.2 218.8,438.7 219.2,437.4 219.6,437.4 220.0,437.8 220.4,437.0 220.9,437.2 221.3,437.4 221.7,438.7 222.1,438.5 222.5,436.7 222.9,437.9 223.3,436.0 223.7,436.0 224.1,436.3 224.5,435.9 224.9,438.2 225.3,436.8 225.7,435.9 226.1,438.4 226.5,437.2 226.9,437.4 227.3,435.2 227.7,438.7 228.1,438.6 228.5,438.7 228.9,438.8 229.3,439.5 229.7,438.0 230.1,438.9 230.5,437.4 230.9,437.8 231.3,439.0 231.7,438.5 232.2,437.0 232.6,438.5 233.0,438.0 233.4,437.5 233.8,438.6 234.2,437.8 234.6,436.9 235.0,437.3 235.4,439.7 235.8,436.9 236.2,438.4 236.6,438.8 237.0,438.8 237.4,437.2 237.8,438.0 238.2,438.4 238.6,439.0 239.0,437.7 239.4,437.3 239.8,439.1 240.2,439.2 240.6,438.6 241.0,437.8 241.4,438.7 241.8,438.4 242.2,439.0 242.6,437.3 243.0,438.4 243.4,438.2 243.9,437.4 244.3,438.5 244.7,438.3 245.1,437.9 245.5,438.6 245.9,437.0 246.3,438.2 246.7,438.5 247.1,438.2 247.5,438.7 247.9,436.5 248.3,436.0 248.7,437.3 249.1,437.4 249.5,438.9 249.9,437.8 250.3,436.8 250.7,438.5 251.1,437.3 251.5,436.9 251.9,440.5 252.3,438.6 252.7,439.0 253.1,438.9 253.5,440.0 253.9,438.7 254.3,439.5 254.7,437.6 255.2,437.3 255.6,439.7 256.0,439.8 256.4,439.0 256.8,438.7 257.2,438.7 257.6,438.0 258.0,439.9 258.4,439.1 258.8,439.0 259.2,438.9 259.6,439.5 260.0,439.0 260.4,439.2 260.8,437.6 261.2,439.1 261.6,440.5 262.0,438.2 262.4,438.5 262.8,439.4 263.2,439.5 263.6,439.2 264.0,437.3 264.4,439.1 264.8,437.7 265.2,438.0 265.6,439.2 266.0,438.5 266.4,439.4 266.9,441.4 267.3,439.4 267.7,439.4 268.1,438.0 268.5,438.3 268.9,437.9 269.3,438.4 269.7,437.9 270.1,438.3 270.5,438.7 270.9,438.0 271.3,437.7 271.7,437.8 272.1,439.3 272.5,439.0 272.9,439.8 273.3,439.8 273.7,438.7 274.1,439.5 274.5,437.8 274.9,440.9 275.3,440.0 275.7,438.8 276.1,438.1 276.5,439.4 276.9,437.5 277.3,438.4 277.7,439.7 278.1,439.2 278.6,438.7 279.0,440.0 279.4,438.3 279.8,439.5 280.2,438.8 280.6,438.6 281.0,439.7 281.4,438.5 281.8,440.9 282.2,438.9 282.6,441.1 283.0,438.6 283.4,440.0 283.8,438.5 284.2,438.5 284.6,439.7 285.0,440.2 285.4,438.6 285.8,440.7 286.2,439.1 286.6,439.9 287.0,440.1 287.4,440.4 287.8,438.5 288.2,441.3 288.6,440.5 289.0,439.7 289.4,439.3 289.9,438.8 290.3,439.1 290.7,440.7 291.1,440.0 291.5,439.4 291.9,439.9 292.3,441.7 292.7,440.2 293.1,440.0 293.5,441.6 293.9,441.0 294.3,440.7 294.7,440.2 295.1,439.5 295.5,439.9 295.9,440.5 296.3,440.7 296.7,441.2 297.1,441.4 297.5,441.2 297.9,441.3 298.3,440.4 298.7,439.5 299.1,440.8 299.5,440.6 299.9,440.9 300.3,441.2 300.7,440.5 301.1,440.7 301.6,441.5 302.0,441.7 302.4,441.2 302.8,442.1 303.2,441.6 303.6,441.1 304.0,441.9 304.4,443.4 304.8,441.5 305.2,442.9 305.6,443.2 306.0,443.3 306.4,441.6 306.8,443.8 307.2,442.4 307.6,442.2 308.0,442.3 308.4,442.9 308.8,442.6 309.2,442.5 309.6,443.6 310.0,442.2 310.4,442.0 310.8,443.4 311.2,443.4 311.6,443.7 312.0,442.2 312.4,443.8 312.9,443.4 313.3,444.4 313.7,442.2 314.1,443.4 314.5,443.0 314.9,442.1 315.3,442.8 315.7,444.2 316.1,443.1 316.5,443.0 316.9,444.2 317.3,444.3 317.7,444.3 318.1,443.1 318.5,443.7"/>
<polyline points="36.0,494.4 36.5,492.8 36.9,492.7 37.3,494.0 37.7,494.6 38.1,492.1 38.5,490.7 38.9,491.6 39.3,491.9 39.7,492.6 40.1,493.2 40.5,492.4 40.9,491.8 41.3,492.4 41.7,491.3 42.1,492.0 42.5,491.3 42.9,494.3 43.3,492.4 43.7,490.7 44.1,490.5 44.5,490.8 44.9,489.5 45.3,490.2 45.7,490.1 46.1,491.4 46.5,490.0 46.9,489.5 47.3,488.8 47.8,488.8 48.2,489.6 48.6,489.3 49.0,490.4 49.4,488.5 49.8,489.9 50.2,488.9 50.6,488.4 51.0,486.2 51.4,486.7 51.8,488.5 52.2,488.9 52.6,487.4 53.0,487.7 53.4,486.3 53.8,486.1 54.2,485.5 54.6,486.9 55.0,485.9 55.4,485.1 55.8,484.7 56.2,485.3 56.6,484.7 57.0,483.2 57.4,485.6 57.8,483.7 58.2,483.1 58.6,484.3 59.0,483.5 59.5,481.9 59.9,482.3 60.3,480.1 60.7,480.2 61.1,478.0 61.5,481.6 61.9,477.7 62.3,480.2 62.7,478.1 63.1,477.5 63.5,478.0 63.9,478.1 64.3,478.1 64.7,479.1 65.1,477.0 65.5,477.2 65.9,475.0 66.3,476.2 66.7,475.1 67.1,473.9 67.5,473.9 67.9,473.5 68.3,473.4 68.7,473.2 69.1,471.6 69.5,470.9 69.9,472.4 70.3,468.8 70.8,469.7 71.2,472.1 71.6,466.2 72.0,468.3 72.4,469.7 72.8,466.2 73.2,471.3 73.6,464.1 74.0,469.0 74.4,468.7 74.8,467.5 75.2,465.5 75.6,465.9 76.0,463.8 76.4,465.7 76.8,462.7 77.2,463.5 77.6,464.8 78.0,461.5 78.4,462.2 78.8,462.6 79.2,460.1 79.6,463.3 80.0,461.8 80.4,458.9 80.8,460.6 81.2,459.3 81.6,459.1 82.0,459.9 82.5,458.5 82.9,460.6 83.3,457.9 83.7,460.1 84.1,458.4 84.5,459.5 84.9,457.2 85.3,457.1 85.7,455.9 86.1,458.3 86.5,458.6 86.9,460.2 87.3,458.9 87.7,457.2 88.1,456.4 88.5,457.2 88.9,456.5 89.3,458.6 89.7,457.8 90.1,455.1 90.5,455.3 90.9,458.3 91.3,456.7 91.7,455.9 92.1,458.0 92.5,455.7 92.9,455.9 93.3,455.7 93.8,453.5 94.2,457.7 94.6,454.8 95.0,455.8 95.4,455.6 95.8,457.9 96.2,456.8 96.6,457.1 97.0,454.7 97.4,457.2 97.8,455.3 98.2,458.1 98.6,458.3 99.0,457.9 99.4,461.1 99.8,459.1 100.2,459.4 100.6,459.0 101.0,458.7 101.4,460.6 101.8,461.0 102.2,457.8 102.6,461.4 103.0,460.9 103.4,461.8 103.8,461.4 104.2,459.3 104.6,459.7 105.0,464.1 105.5,462.2 105.9,460.2 106.3,463.0 106.7,462.3 107.1,460.6 107.5,460.3 107.9,461.6 108.3,464.5 108.7,464.4 109.1,464.4 109.5,465.5 109.9,466.2 110.3,462.9 110.7,465.7 111.1,465.4 111.5,465.2 111.9,466.4 112.3,467.3 112.7,467.5 113.1,466.3 113.5,467.9 113.9,471.5 114.3,467.9 114.7,467.4 115.1,470.3 115.5,471.0 115.9,471.2 116.3,469.5 116.7,472.5 117.2,470.6 117.6,470.5 118.0,471.4 118.4,472.3 118.8,473.6 119.2,473.8 119.6,473.2 120.0,474.5 120.4,473.6 120.8,474.6 121.2,471.5 121.6,470.7 122.0,472.4 122.4,467.4 122.8,465.6 123.2,462.1 123.6,458.8 124.0,459.2 124.4,465.1 124.8,464.1 125.2,472.4 125.6,476.9 126.0,475.9 126.4,477.1 126.8,478.7 127.2,480.6 127.6,477.5 128.0,479.4 128.5,479.4 128.9,480.5 129.3,480.3 129.7,481.0 130.1,480.0 130.5,480.6 130.9,479.8 131.3,479.8 131.7,480.1 132.1,479.6 132.5,477.3 132.9,478.4 133.3,473.0 133.7,466.3 134.1,463.5 134.5,455.7 134.9,456.6 135.3,460.0 135.7,466.8 136.1,472.6 136.5,476.1 136.9,479.6 137.3,483.6 137.7,479.8 138.1,482.9 138.5,483.5 138.9,481.9 139.3,481.2 139.7,484.2 140.2,479.6 140.6,479.4 141.0,473.3 141.4,467.8 141.8,464.6 142.2,464.9 142.6,469.7 143.0,474.1 143.4,478.4 143.8,481.8 144.2,485.2 144.6,486.0 145.0,484.9 145.4,485.8 145.8,487.2 146.2,486.5 146.6,487.0 147.0,486.7 147.4,487.6 147.8,488.4 148.2,489.1 148.6,488.3 149.0,490.4 149.4,488.4 149.8,491.8 150.2,489.7 150.6,489.3 151.0,488.4 151.5,486.2 151.9,488.9 152.3,489.3 152.7,491.1 153.1,488.0 153.5,491.3 153.9,489.3 154.3,490.3 154.7,487.3 155.1,489.9 155.5,489.6 155.9,490.7 156.3,490.2 156.7,489.1 157.1,491.2 157.5,491.1 157.9,491.1 158.3,491.5 158.7,491.7 159.1,490.7 159.5,489.5 159.9,489.6 160.3,492.2 160.7,491.6 161.1,491.1 161.5,490.6 161.9,491.1 162.3,491.1 162.7,490.8 163.2,490.5 163.6,493.2 164.0,491.4 164.4,490.7 164.8,490.1 165.2,490.6 165.6,492.0 166.0,492.1 166.4,491.2 166.8,491.4 167.2,491.1 167.6,490.4 168.0,492.7 168.4,491.8 168.8,493.8 169.2,490.8 169.6,491.4 170.0,492.4 170.4,491.3 170.8,490.3 171.2,490.7 171.6,491.7 172.0,491.9 172.4,491.5 172.8,492.5 173.2,492.5 173.6,491.9 174.0,491.7 174.5,491.4 174.9,492.2 175.3,492.5 175.7,491.7 176.1,492.1 176.5,491.4 176.9,490.4 177.3,490.8 177.7,492.4 178.1,492.1 178.5,493.2 178.9,491.8 179.3,492.5 179.7,493.0 180.1,492.7 180.5,491.2 180.9,491.6 181.3,491.9 181.7,490.8 182.1,492.2 182.5,492.7 182.9,491.3 183.3,493.5 183.7,491.4 184.1,491.5 184.5,491.4 184.9,490.9 185.3,491.8 185.7,491.3 186.2,492.6 186.6,491.3 187.0,491.0 187.4,490.2 187.8,489.2 188.2,490.7 188.6,490.3 189.0,492.2 189.4,491.5 189.8,493.2 190.2,492.4 190.6,492.6 191.0,492.1 191.4,492.1 191.8,492.5 192.2,492.8 192.6,491.4 193.0,492.5 193.4,494.4 193.8,492.0 194.2,491.9 194.6,491.5 195.0,490.8 195.4,493.3 195.8,492.2 196.2,492.5 196.6,493.9 197.0,494.5 197.4,491.5 197.9,493.3 198.3,492.9 198.7,492.7 199.1,492.8 199.5,492.4 199.9,493.9 200.3,493.0 200.7,492.8 201.1,493.7 201.5,493.4 201.9,493.0 202.3,492.9 202.7,494.2 203.1,493.1 203.5,492.6 203.9,492.0 204.3,492.5 204.7,491.8 205.1,492.9 205.5,493.1 205.9,491.0 206.3,492.9 206.7,493.5 207.1,493.1 207.5,492.1 207.9,494.2 208.3,492.4 208.7,492.0 209.2,492.1 209.6,493.1 210.0,494.0 210.4,494.2 210.8,493.4 211.2,492.2 211.6,492.7 212.0,492.5 212.4,493.2 212.8,491.8 213.2,493.5 213.6,494.0 214.0,493.3 214.4,493.9 214.8,492.7 215.2,492.2 215.6,493.0 216.0,494.6 216.4,494.5 216.8,493.2 217.2,494.7 217.6,493.3 218.0,495.0 218.4,494.1 218.8,493.2 219.2,494.3 219.6,493.0 220.0,492.8 220.4,492.3 220.9,493.8 221.3,493.4 221.7,493.2 222.1,492.7 222.5,494.0 222.9,491.8 223.3,491.0 223.7,492.3 224.1,492.3 224.5,491.5 224.9,490.1 225.3,491.7 225.7,493.3 226.1,493.2 226.5,494.8 226.9,492.4 227.3,494.4 227.7,493.3 228.1,495.1 228.5,493.9 228.9,494.9 229.3,493.4 229.7,492.8 230.1,493.1 230.5,493.5 230.9,493.2 231.3,495.2 231.7,495.3 232.2,494.4 232.6,493.2 233.0,494.1 233.4,493.6 233.8,495.4 234.2,494.5 234.6,494.6 235.0,493.9 235.4,492.5 235.8,493.6 236.2,493.3 236.6,494.6 237.0,494.3 237.4,493.6 237.8,493.9 238.2,495.6 238.6,493.4 239.0,493.5 239.4,494.1 239.8,493.7 240.2,493.9 240.6,494.8 241.0,495.8 241.4,492.8 241.8,494.3 242.2,494.3 242.6,494.2 243.0,494.1 243.4,494.0 243.9,495.2 244.3,493.9 244.7,494.1 245.1,494.2 245.5,494.3 245.9,494.0 246.3,494.9 246.7,493.9 247.1,493.8 247.5,493.3 247.9,492.1 248.3,491.8 248.7,491.2 249.1,492.1 249.5,491.5 249.9,491.6 250.3,493.2 250.7,493.9 251.1,492.2 251.5,495.5 251.9,494.2 252.3,494.1 252.7,495.2 253.1,494.4 253.5,493.9 253.9,496.3 254.3,493.5 254.7,494.4 255.2,495.2 255.6,493.6 256.0,494.4 256.4,494.8 256.8,496.6 257.2,493.8 257.6,494.5 258.0,495.1 258.4,494.6 258.8,493.5 259.2,494.9 259.6,494.7 260.0,495.0 260.4,495.6 260.8,495.5 261.2,495.0 261.6,494.9 262.0,493.7 262.4,494.5 262.8,494.8 263.2,494.3 263.6,494.8 264.0,494.0 264.4,496.0 264.8,496.5 265.2,494.4 265.6,495.1 266.0,494.5 266.4,495.8 266.9,495.1 267.3,494.8 267.7,494.6 268.1,494.9 268.5,493.9 268.9,495.4 269.3,494.2 269.7,495.3 270.1,494.9 270.5,495.8 270.9,494.8 271.3,495.7 271.7,494.1 272.1,495.4 272.5,494.7 272.9,495.1 273.3,495.0 273.7,495.7 274.1,493.2 274.5,495.2 274.9,493.7 275.3,496.0 275.7,493.3 276.1,494.2 276.5,493.6 276.9,496.5 277.3,494.0 277.7,495.2 278.1,494.7 278.6,493.6 279.0,494.9 279.4,495.8 279.8,495.1 280.2,496.1 280.6,495.0 281.0,495.4 281.4,495.1 281.8,495.7 282.2,497.0 282.6,495.8 283.0,495.7 283.4,495.0 283.8,495.0 284.2,496.9 284.6,494.8 285.0,495.0 285.4,495.7 285.8,495.5 286.2,497.5 286.6,493.9 287.0,496.3 287.4,496.6 287.8,495.1 288.2,495.6 288.6,496.5 289.0,497.5 289.4,495.5 289.9,495.0 290.3,497.2 290.7,497.7 291.1,496.2 291.5,494.7 291.9,497.8 292.3,496.5 292.7,497.6 293.1,496.7 293.5,496.5 293.9,496.5 294.3,498.1 294.7,498.1 295.1,495.3 295.5,496.3 295.9,498.6 296.3,496.9 296.7,496.2 297.1,497.4 297.5,497.3 297.9,497.4 298.3,497.2 298.7,497.4 299.1,497.3 299.5,498.0 299.9,497.1 300.3,497.6 300.7,497.8 301.1,499.0 301.6,498.3 302.0,498.0 302.4,498.6 302.8,498.6 303.2,499.1 303.6,498.8 304.0,499.8 304.4,499.5 304.8,498.5 305.2,498.3 305.6,499.4 306.0,499.2 306.4,498.7 306.8,497.8 307.2,497.6 307.6,499.3 308.0,499.7 308.4,499.7 308.8,498.2 309.2,500.0 309.6,498.9 310.0,499.7 310.4,499.8 310.8,498.9 311.2,499.1 311.6,498.1 312.0,499.0 312.4,498.4 312.9,500.1 313.3,499.9 313.7,500.6 314.1,500.3 314.5,499.6 314.9,500.4 315.3,499.9 315.7,500.7 316.1,500.5 316.5,499.6 316.9,500.4 317.3,500.5 317.7,500.3 318.1,501.2 318.5,501.8"/>
<polyline points="36.0,573.5 36.5,573.4 36.9,571.7 37.3,573.5 37.7,573.1 38.1,571.5 38.5,573.6 38.9,573.8 39.3,572.5 39.7,572.8 40.1,572.1 40.5,573.6 40.9,571.5 41.3,572.4 41.7,574.4 42.1,572.6 42.5,572.8 42.9,572.2 43.3,571.1 43.7,572.0 44.1,572.3 44.5,570.8 44.9,572.0 45.3,572.7 45.7,572.4 46.1,569.8 46.5,570.2 46.9,569.4 47.3,571.8 47.8,571.2 48.2,571.1 48.6,569.4 49.0,569.0 49.4,570.0 49.8,569.8 50.2,568.7 50.6,569.4 51.0,569.7 51.4,569.1 51.8,567.6 52.2,566.4 52.6,568.0 53.0,568.2 53.4,567.5 53.8,567.1 54.2,566.6 54.6,567.7 55.0,566.7 55.4,566.6 55.8,565.2 56.2,565.3 56.6,565.8 57.0,564.3 57.4,563.7 57.8,564.4 58.2,565.7 58.6,564.3 59.0,565.4 59.5,563.4 59.9,562.8 60.3,561.3 60.7,561.9 61.1,563.7 61.5,562.2 61.9,562.3 62.3,561.9 62.7,560.7 63.1,560.2 63.5,560.1 63.9,560.4 64.3,559.8 64.7,559.4 65.1,558.7 65.5,557.2 65.9,557.4 66.3,556.2 66.7,558.1 67.1,554.0 67.5,555.9 67.9,558.6 68.3,554.9 68.7,553.5 69.1,554.5 69.5,555.7 69.9,553.5 70.3,554.0 70.8,553.0 71.2,552.0 71.6,556.0 72.0,551.7 72.4,550.5 72.8,550.1 73.2,550.9 73.6,550.5 74.0,550.6 74.4,549.3 74.8,546.9 75.2,549.1 75.6,547.6 76.0,547.2 76.4,545.2 76.8,546.0 77.2,545.5 77.6,546.0 78.0,543.7 78.4,545.4 78.8,545.2 79.2,543.1 79.6,543.4 80.0,542.8 80.4,544.9 80.8,539.8 81.2,542.5 81.6,540.4 82.0,541.8 82.5,543.3 82.9,541.0 83.3,541.8 83.7,540.2 84.1,543.8 84.5,542.1 84.9,542.2 85.3,538.5 85.7,538.6 86.1,541.6 86.5,539.6 86.9,539.3 87.3,540.0 87.7,537.6 88.1,540.3 88.5,539.1 88.9,539.7 89.3,537.9 89.7,539.5 90.1,537.7 90.5,540.0 90.9,540.3 91.3,539.9 91.7,539.3 92.1,539.5 92.5,534.6 92.9,539.8 93.3,538.2 93.8,538.7 94.2,538.2 94.6,536.7 95.0,538.0 95.4,539.8 95.8,540.9 96.2,538.1 96.6,537.8 97.0,541.3 97.4,538.0 97.8,542.4 98.2,539.6 98.6,538.4 99.0,541.2 99.4,542.4 99.8,538.1 100.2,542.6 100.6,540.1 101.0,542.8 101.4,540.4 101.8,538.9 102.2,542.0 102.6,542.9 103.0,544.7 103.4,544.4 103.8,543.2 104.2,542.2 104.6,542.1 105.0,542.6 105.5,542.2 105.9,543.2 106.3,540.4 106.7,544.4 107.1,544.4 107.5,548.2 107.9,546.0 108.3,544.7 108.7,546.4 109.1,544.3 109.5,545.4 109.9,544.1 110.3,548.8 110.7,548.0 111.1,546.0 111.5,547.8 111.9,549.4 112.3,549.1 112.7,549.3 113.1,548.0 113.5,548.6 113.9,549.9 114.3,551.3 114.7,549.4 115.1,549.4 115.5,552.6 115.9,550.3 116.3,553.1 116.7,552.4 117.2,553.5 117.6,554.9 118.0,553.9 118.4,554.3 118.8,552.5 119.2,553.0 119.6,554.9 120.0,556.2 120.4,556.3 120.8,557.5 121.2,555.1 121.6,554.8 122.0,555.3 122.4,553.1 122.8,551.5 123.2,548.5 123.6,549.9 124.0,547.5 124.4,551.3 124.8,551.2 125.2,556.3 125.6,555.3 126.0,558.5 126.4,556.4 126.8,558.2 127.2,560.4 127.6,558.5 128.0,559.7 128.5,559.3 128.9,557.3 129.3,560.4 129.7,560.6 130.1,558.9 130.5,560.7 130.9,558.9 131.3,558.3 131.7,558.8 132.1,556.7 132.5,558.0 132.9,549.2 133.3,545.5 133.7,536.2 134.1,520.1 134.5,510.4 134.9,511.8 135.3,518.1 135.7,531.5 136.1,543.6 136.5,549.8 136.9,554.3 137.3,555.6 137.7,560.9 138.1,560.7 138.5,562.8 138.9,563.0 139.3,561.3 139.7,564.2 140.2,562.5 140.6,560.2 141.0,554.9 141.4,552.3 141.8,549.5 142.2,549.9 142.6,552.1 143.0,557.9 143.4,561.1 143.8,563.7 144.2,564.4 144.6,567.3 145.0,566.8 145.4,564.2 145.8,566.7 146.2,567.5 146.6,568.8 147.0,567.7 147.4,567.9 147.8,567.7 148.2,569.1 148.6,568.2 149.0,568.1 149.4,568.1 149.8,569.5 150.2,568.5 150.6,567.5 151.0,569.8 151.5,568.6 151.9,569.7 152.3,569.8 152.7,570.7 153.1,570.7 153.5,569.3 153.9,569.8 154.3,568.8 154.7,571.8 155.1,570.8 155.5,571.9 155.9,570.4 156.3,568.9 156.7,572.4 157.1,571.2 157.5,571.4 157.9,571.5 158.3,572.2 158.7,572.2 159.1,570.4 159.5,572.9 159.9,571.5 160.3,571.7 160.7,573.7 161.1,573.0 161.5,571.9 161.9,570.6 162.3,572.5 162.7,572.8 163.2,572.3 163.6,571.3 164.0,571.7 164.4,571.3 164.8,572.7 165.2,573.3 165.6,573.5 166.0,571.9 166.4,572.8 166.8,573.1 167.2,572.2 167.6,572.5 168.0,574.6 168.4,572.9 168.8,573.5 169.2,572.3 169.6,572.8 170.0,571.2 170.4,572.7 170.8,573.9 171.2,574.7 171.6,573.9 172.0,573.4 172.4,572.9 172.8,572.3 173.2,572.7 173.6,573.4 174.0,572.2 174.5,573.7 174.9,572.0 175.3,571.3 175.7,572.0 176.1,571.4 176.5,571.7 176.9,573.9 177.3,572.8 177.7,573.1 178.1,574.0 178.5,574.1 178.9,572.5 179.3,574.2 179.7,573.3 180.1,573.0 180.5,573.4 180.9,571.7 181.3,572.3 181.7,572.9 182.1,573.5 182.5,572.6 182.9,572.8 183.3,573.8 183.7,574.2 184.1,573.6 184.5,574.0 184.9,572.4 185.3,572.4 185.7,572.7 186.2,571.9 186.6,571.5 187.0,573.2 187.4,571.4 187.8,570.8 188.2,572.4 188.6,573.9 189.0,572.6 189.4,573.8 189.8,572.5 190.2,572.5 190.6,572.4 191.0,572.9 191.4,574.8 191.8,572.1 192.2,574.6 192.6,572.3 193.0,573.0 193.4,574.0 193.8,573.8 194.2,573.5 194.6,571.8 195.0,573.6 195.4,572.4 195.8,575.6 196.2,573.2 196.6,573.5 197.0,572.4 197.4,573.0 197.9,572.3 198.3,574.3 198.7,573.2 199.1,574.0 199.5,572.9 199.9,573.0 200.3,574.7 200.7,572.7 201.1,571.9 201.5,573.9 201.9,572.6 202.3,573.2 202.7,574.4 203.1,572.9 203.5,574.4 203.9,573.1 204.3,575.0 204.7,574.9 205.1,573.3 205.5,573.5 205.9,573.0 206.3,573.9 206.7,574.8 207.1,572.5 207.5,574.6 207.9,572.7 208.3,573.1 208.7,572.3 209.2,575.7 209.6,574.0 210.0,574.1 210.4,573.3 210.8,574.9 211.2,572.1 211.6,574.0 212.0,575.9 212.4,573.7 212.8,574.0 213.2,574.6 213.6,573.3 214.0,574.1 214.4,574.9 214.8,574.3 215.2,574.4 215.6,573.8 216.0,574.4 216.4,574.2 216.8,575.4 217.2,574.8 217.6,574.0 218.0,572.0 218.4,574.8 218.8,574.9 219.2,573.4 219.6,572.5 220.0,573.2 220.4,575.0 220.9,573.2 221.3,573.7 221.7,574.2 222.1,575.0 222.5,573.7 222.9,573.4 223.3,572.7 223.7,574.4 224.1,573.8 224.5,572.9 224.9,572.0 225.3,572.8 225.7,574.3 226.1,573.3 226.5,574.9 226.9,574.5 227.3,574.5 227.7,574.9 228.1,574.8 228.5,573.6 228.9,574.1 229.3,576.4 229.7,573.4 230.1,574.0 230.5,575.4 230.9,574.3 231.3,573.8 231.7,573.3 232.2,574.9 232.6,575.4 233.0,575.7 233.4,574.5 233.8,575.4 234.2,573.6 234.6,574.7 235.0,573.9 235.4,574.7 235.8,575.2 236.2,575.5 236.6,573.7 237.0,575.6 237.4,574.1 237.8,573.7 238.2,574.4 238.6,573.3 239.0,574.6 239.4,574.8 239.8,574.4 240.2,575.0 240.6,574.3 241.0,574.6 241.4,573.3 241.8,574.6 242.2,573.8 242.6,574.2 243.0,574.5 243.4,574.7 243.9,573.1 244.3,573.2 244.7,574.3 245.1,574.9 245.5,574.8 245.9,575.2 246.3,575.5 246.7,574.7 247.1,574.0 247.5,572.9 247.9,572.6 248.3,572.7 248.7,573.0 249.1,572.9 249.5,572.8 249.9,573.0 250.3,574.1 250.7,574.0 251.1,574.4 251.5,574.5 251.9,573.9 252.3,573.6 252.7,575.0 253.1,574.9 253.5,574.4 253.9,574.2 254.3,576.6 254.7,574.0 255.2,574.5 255.6,574.9 256.0,573.7 256.4,574.8 256.8,576.2 257.2,575.5 257.6,575.2 258.0,575.2 258.4,574.8 258.8,575.5 259.2,574.6 259.6,574.4 260.0,574.8 260.4,575.5 260.8,575.0 261.2,575.3 261.6,573.0 262.0,575.8 262.4,576.8 262.8,575.9 263.2,574.5 263.6,574.1 264.0,575.0 264.4,573.9 264.8,575.4 265.2,574.4 265.6,575.6 266.0,576.0 266.4,573.1 266.9,575.1 267.3,574.2 267.7,573.6 268.1,574.3 268.5,574.7 268.9,575.8 269.3,573.6 269.7,575.8 270.1,576.6 270.5,575.4 270.9,575.4 271.3,574.9 271.7,573.9 272.1,575.4 272.5,575.3 272.9,575.6 273.3,577.2 273.7,575.6 274.1,575.3 274.5,576.3 274.9,573.8 275.3,574.0 275.7,574.7 276.1,574.5 276.5,575.6 276.9,574.8 277.3,576.5 277.7,576.4 278.1,575.8 278.6,574.8 279.0,575.7 279.4,575.9 279.8,574.3 280.2,575.5 280.6,575.8 281.0,575.4 281.4,576.6 281.8,576.4 282.2,574.6 282.6,575.5 283.0,574.7 283.4,575.9 283.8,574.7 284.2,576.3 284.6,575.8 285.0,576.3 285.4,575.4 285.8,574.2 286.2,576.9 286.6,575.1 287.0,576.2 287.4,575.2 287.8,575.2 288.2,576.1 288.6,575.0 289.0,576.2 289.4,574.1 289.9,576.4 290.3,575.7 290.7,576.0 291.1,576.2 291.5,576.6 291.9,577.8 292.3,575.0 292.7,576.6 293.1,576.1 293.5,577.7 293.9,576.4 294.3,577.2 294.7,576.6 295.1,577.5 295.5,577.9 295.9,576.8 296.3,577.2 296.7,576.1 297.1,577.6 297.5,578.1 297.9,577.0 298.3,578.4 298.7,576.0 299.1,576.2 299.5,576.6 299.9,577.4 300.3,577.9 300.7,577.9 301.1,578.0 301.6,578.7 302.0,577.8 302.4,577.2 302.8,577.3 303.2,580.0 303.6,576.6 304.0,578.4 304.4,579.7 304.8,579.0 305.2,578.1 305.6,578.8 306.0,579.5 306.4,579.8 306.8,578.3 307.2,579.6 307.6,579.3 308.0,580.0 308.4,580.3 308.8,579.1 309.2,578.3 309.6,579.8 310.0,580.9 310.4,580.1 310.8,579.8 311.2,581.5 311.6,579.0 312.0,580.5 312.4,579.5 312.9,580.0 313.3,580.1 313.7,581.2 314.1,579.5 314.5,579.8 314.9,579.1 315.3,580.7 315.7,580.1 316.1,580.8 316.5,579.7 316.9,580.3 317.3,581.4 317.7,580.6 318.1,581.2 318.5,581.2"/>
<polyline points="36.0,707.9 36.5,706.7 36.9,709.0 37.3,708.2 37.7,708.9 38.1,706.1 38.5,706.3 38.9,705.8 39.3,706.9 39.7,708.6 40.1,708.1 40.5,707.4 40.9,707.5 41.3,708.0 41.7,706.9 42.1,707.5 42.5,707.1 42.9,704.9 43.3,706.5 43.7,708.0 44.1,706.2 44.5,706.4 44.9,705.8 45.3,705.8 45.7,707.2 46.1,705.7 46.5,704.9 46.9,702.8 47.3,705.0 47.8,703.5 48.2,703.5 48.6,705.9 49.0,705.6 49.4,702.9 49.8,705.5 50.2,704.9 50.6,703.5 51.0,704.8 51.4,702.3 51.8,702.5 52.2,702.1 52.6,702.2 53.0,703.9 53.4,701.5 53.8,701.5 54.2,701.4 54.6,702.4 55.0,701.6 55.4,702.6 55.8,700.7 56.2,699.8 56.6,700.4 57.0,700.7 57.4,699.4 57.8,700.3 58.2,701.7 58.6,698.8 59.0,699.2 59.5,700.3 59.9,697.8 60.3,697.3 60.7,696.7 61.1,698.0 61.5,697.8 61.9,696.7 62.3,696.6 62.7,697.6 63.1,696.8 63.5,693.9 63.9,695.1 64.3,694.9 64.7,695.2 65.1,693.7 65.5,692.9 65.9,692.7 66.3,690.7 66.7,692.4 67.1,691.3 67.5,692.2 67.9,690.0 68.3,690.3 68.7,689.2 69.1,688.7 69.5,690.4 69.9,688.6 70.3,689.3 70.8,686.9 71.2,688.0 71.6,685.3 72.0,686.4 72.4,686.0 72.8,686.9 73.2,686.0 73.6,685.1 74.0,686.0 74.4,684.7 74.8,684.8 75.2,684.7 75.6,683.2 76.0,682.4 76.4,682.9 76.8,681.5 77.2,682.1 77.6,682.7 78.0,682.0 78.4,679.9 78.8,678.3 79.2,679.6 79.6,679.1 80.0,680.4 80.4,678.0 80.8,677.9 81.2,678.9 81.6,676.9 82.0,677.0 82.5,679.3 82.9,678.6 83.3,677.1 83.7,676.3 84.1,674.3 84.5,676.2 84.9,675.2 85.3,675.2 85.7,673.9 86.1,674.3 86.5,673.9 86.9,674.4 87.3,675.8 87.7,674.0 88.1,670.9 88.5,671.7 88.9,670.7 89.3,671.7 89.7,673.5 90.1,673.2 90.5,671.6 90.9,672.8 91.3,671.2 91.7,670.2 92.1,670.1 92.5,670.9 92.9,674.2 93.3,670.1 93.8,673.9 94.2,674.0 94.6,671.8 95.0,672.0 95.4,671.3 95.8,672.2 96.2,673.2 96.6,672.3 97.0,673.8 97.4,674.2 97.8,673.1 98.2,673.2 98.6,672.7 99.0,673.4 99.4,671.4 99.8,673.8 100.2,673.7 100.6,672.3 101.0,676.8 101.4,672.5 101.8,672.8 102.2,674.7 102.6,671.7 103.0,673.5 103.4,672.7 103.8,673.8 104.2,675.2 104.6,676.1 105.0,677.4 105.5,677.3 105.9,678.1 106.3,677.5 106.7,676.3 107.1,678.8 107.5,676.8 107.9,676.9 108.3,680.2 108.7,679.5 109.1,679.0 109.5,680.1 109.9,680.5 110.3,677.8 110.7,679.9 111.1,678.7 111.5,680.8 111.9,680.1 112.3,683.1 112.7,682.3 113.1,680.9 113.5,682.3 113.9,681.1 114.3,683.1 114.7,684.1 115.1,684.0 115.5,681.5 115.9,683.9 116.3,685.3 116.7,685.4 117.2,686.8 117.6,684.0 118.0,686.6 118.4,685.4 118.8,686.7 119.2,687.3 119.6,687.8 120.0,686.4 120.4,687.5 120.8,685.8 121.2,685.3 121.6,687.2 122.0,685.2 122.4,680.9 122.8,678.7 123.2,676.2 123.6,675.7 124.0,675.2 124.4,678.2 124.8,679.0 125.2,685.1 125.6,688.6 126.0,690.3 126.4,691.6 126.8,691.6 127.2,694.5 127.6,694.6 128.0,693.2 128.5,692.4 128.9,696.2 129.3,693.4 129.7,695.6 130.1,696.6 130.5,693.3 130.9,694.7 131.3,693.8 131.7,694.4 132.1,693.3 132.5,693.7 132.9,689.2 133.3,683.6 133.7,678.2 134.1,667.6 134.5,660.2 134.9,662.6 135.3,663.9 135.7,673.3 136.1,682.2 136.5,686.9 136.9,689.6 137.3,695.7 137.7,694.8 138.1,695.8 138.5,696.3 138.9,695.6 139.3,694.9 139.7,694.9 140.2,695.0 140.6,688.7 141.0,682.5 141.4,672.1 141.8,668.8 142.2,667.3 142.6,676.1 143.0,682.3 143.4,689.3 143.8,694.0 144.2,696.6 144.6,697.5 145.0,700.9 145.4,699.6 145.8,700.4 146.2,701.7 146.6,701.6 147.0,702.9 147.4,703.9 147.8,703.4 148.2,703.5 148.6,703.5 149.0,704.5 149.4,702.0 149.8,704.3 150.2,703.1 150.6,703.0 151.0,704.3 151.5,704.0 151.9,705.1 152.3,705.7 152.7,702.4 153.1,704.7 153.5,706.8 153.9,705.8 154.3,706.5 154.7,705.3 155.1,703.9 155.5,704.3 155.9,706.2 156.3,706.5 156.7,705.0 157.1,705.5 157.5,706.1 157.9,704.3 158.3,705.7 158.7,707.6 159.1,708.2 159.5,706.1 159.9,708.0 160.3,705.8 160.7,705.6 161.1,704.3 161.5,707.4 161.9,706.1 162.3,708.7 162.7,706.9 163.2,706.8 163.6,704.9 164.0,708.1 164.4,706.4 164.8,706.6 165.2,704.7 165.6,707.6 166.0,707.7 166.4,706.3 166.8,706.9 167.2,707.2 167.6,707.8 168.0,707.0 168.4,708.5 168.8,706.7 169.2,706.4 169.6,706.5 170.0,704.6 170.4,706.3 170.8,707.9 171.2,707.3 171.6,706.3 172.0,707.4 172.4,705.2 172.8,706.8 173.2,707.6 173.6,707.7 174.0,706.4 174.5,708.0 174.9,708.9 175.3,706.7 175.7,707.8 176.1,705.7 176.5,705.3 176.9,707.7 177.3,707.2 177.7,707.3 178.1,706.6 178.5,706.9 178.9,707.9 179.3,708.8 179.7,707.0 180.1,705.7 180.5,708.4 180.9,707.7 181.3,707.8 181.7,707.3 182.1,709.3 182.5,707.2 182.9,707.6 183.3,705.4 183.7,706.5 184.1,706.4 184.5,706.9 184.9,707.0 185.3,705.7 185.7,707.7 186.2,704.6 186.6,704.6 187.0,704.8 187.4,703.1 187.8,705.1 188.2,705.7 188.6,705.4 189.0,707.9 189.4,706.6 189.8,707.1 190.2,706.1 190.6,705.6 191.0,706.6 191.4,707.0 191.8,706.9 192.2,708.1 192.6,705.2 193.0,706.4 193.4,705.8 193.8,708.7 194.2,707.0 194.6,707.1 195.0,706.6 195.4,708.4 195.8,707.2 196.2,707.9 196.6,705.8 197.0,708.8 197.4,708.1 197.9,708.3 198.3,708.9 198.7,707.6 199.1,707.7 199.5,708.5 199.9,708.3 200.3,707.7 200.7,708.0 201.1,707.6 201.5,708.7 201.9,708.9 202.3,708.1 202.7,709.9 203.1,706.8 203.5,708.0 203.9,709.8 204.3,707.9 204.7,706.9 205.1,709.6 205.5,708.9 205.9,707.4 206.3,709.2 206.7,707.6 207.1,707.3 207.5,708.4 207.9,708.2 208.3,707.7 208.7,708.4 209.2,707.8 209.6,708.8 210.0,708.8 210.4,709.5 210.8,708.4 211.2,707.7 211.6,707.7 212.0,708.7 212.4,710.4 212.8,709.8 213.2,708.5 213.6,709.9 214.0,708.1 214.4,710.0 214.8,708.8 215.2,709.9 215.6,709.8 216.0,709.0 216.4,709.6 216.8,708.4 217.2,709.2 217.6,710.3 218.0,713.0 218.4,710.0 218.8,709.4 219.2,708.5 219.6,710.3 220.0,707.9 220.4,708.6 220.9,709.6 221.3,708.1 221.7,710.4 222.1,709.8 222.5,707.9 222.9,707.4 223.3,706.2 223.7,705.6 224.1,707.2 224.5,707.5 224.9,707.8 225.3,708.3 225.7,708.0 226.1,709.2 226.5,707.9 226.9,709.4 227.3,710.8 227.7,710.8 228.1,709.3 228.5,709.4 228.9,710.9 229.3,711.3 229.7,708.5 230.1,709.4 230.5,710.0 230.9,710.9 231.3,709.1 231.7,710.4 232.2,709.6 232.6,712.0 233.0,710.3 233.4,709.8 233.8,709.7 234.2,710.9 234.6,710.6 235.0,709.0 235.4,710.2 235.8,708.8 236.2,709.3 236.6,708.9 237.0,708.9 237.4,709.4 237.8,709.2 238.2,710.5 238.6,710.7 239.0,709.8 239.4,709.1 239.8,710.7 240.2,708.3 240.6,708.4 241.0,710.7 241.4,710.6 241.8,710.9 242.2,709.9 242.6,709.0 243.0,709.6 243.4,710.5 243.9,709.4 244.3,709.4 244.7,708.8 245.1,709.0 245.5,710.7 245.9,710.3 246.3,708.8 246.7,708.7 247.1,709.0 247.5,709.6 247.9,707.7 248.3,708.1 248.7,705.9 249.1,706.6 249.5,708.3 249.9,709.1 250.3,707.7 250.7,708.5 251.1,710.2 251.5,709.4 251.9,709.4 252.3,710.4 252.7,710.2 253.1,711.1 253.5,710.8 253.9,709.7 254.3,710.1 254.7,710.1 255.2,709.0 255.6,709.4 256.0,711.1 256.4,708.9 256.8,711.1 257.2,710.5 257.6,710.2 258.0,710.8 258.4,710.7 258.8,711.3 259.2,710.0 259.6,710.1 260.0,710.1 260.4,712.0 260.8,711.2 261.2,709.5 261.6,710.1 262.0,709.7 262.4,710.4 262.8,710.5 263.2,712.3 263.6,708.8 264.0,711.2 264.4,710.7 264.8,709.7 265.2,710.2 265.6,709.9 266.0,710.3 266.4,711.1 266.9,708.9 267.3,711.2 267.7,709.6 268.1,711.0 268.5,709.7 268.9,709.9 269.3,708.8 269.7,708.8 270.1,707.7 270.5,707.1 270.9,708.9 271.3,709.5 271.7,711.2 272.1,708.0 272.5,709.9 272.9,711.2 273.3,709.3 273.7,710.3 274.1,712.3 274.5,711.8 274.9,709.9 275.3,711.9 275.7,711.7 276.1,711.4 276.5,711.1 276.9,711.0 277.3,710.1 277.7,710.4 278.1,711.5 278.6,711.0 279.0,712.5 279.4,710.7 279.8,709.0 280.2,710.7 280.6,711.3 281.0,711.4 281.4,711.2 281.8,710.5 282.2,712.5 282.6,710.7 283.0,711.9 283.4,711.1 283.8,710.3 284.2,712.6 284.6,709.3 285.0,710.8 285.4,711.9 285.8,711.3 286.2,712.2 286.6,711.6 287.0,711.3 287.4,713.5 287.8,711.6 288.2,711.7 288.6,711.0 289.0,711.3 289.4,712.5 289.9,712.5 290.3,712.1 290.7,711.6 291.1,712.8 291.5,710.9 291.9,712.0 292.3,712.2 292.7,711.8 293.1,712.6 293.5,712.0 293.9,712.0 294.3,714.1 294.7,713.3 295.1,713.8 295.5,712.9 295.9,713.7 296.3,713.6 296.7,714.0 297.1,715.0 297.5,713.0 297.9,713.4 298.3,713.2 298.7,710.6 299.1,712.3 299.5,713.5 299.9,714.0 300.3,713.1 300.7,714.5 301.1,714.7 301.6,713.5 302.0,715.0 302.4,715.3 302.8,714.3 303.2,713.3 303.6,715.2 304.0,714.0 304.4,713.9 304.8,714.4 305.2,713.9 305.6,715.2 306.0,715.1 306.4,715.5 306.8,715.1 307.2,714.1 307.6,714.6 308.0,715.5 308.4,714.6 308.8,717.1 309.2,714.8 309.6,714.6 310.0,716.0 310.4,715.7 310.8,715.2 311.2,715.1 311.6,715.7 312.0,716.0 312.4,716.0 312.9,715.3 313.3,715.9 313.7,716.3 314.1,716.3 314.5,713.5 314.9,715.2 315.3,715.3 315.7,715.8 316.1,716.1 316.5,716.7 316.9,716.5 317.3,716.1 317.7,716.2 318.1,717.5 318.5,715.9"/>
<polyline points="36.0,782.1 36.5,783.1 36.9,782.0 37.3,779.8 37.7,781.9 38.1,781.1 38.5,781.3 38.9,782.3 39.3,781.7 39.7,780.9 40.1,781.9 40.5,781.4 40.9,781.0 41.3,781.1 41.7,781.0 42.1,780.3 42.5,780.1 42.9,780.5 43.3,779.5 43.7,779.1 44.1,781.3 44.5,779.8 44.9,779.9 45.3,779.6 45.7,779.6 46.1,779.5 46.5,779.4 46.9,778.5 47.3,779.9 47.8,778.3 48.2,779.7 48.6,776.8 49.0,777.4 49.4,779.2 49.8,777.9 50.2,777.3 50.6,778.1 51.0,776.5 51.4,777.4 51.8,775.0 52.2,776.5 52.6,776.1 53.0,777.0 53.4,777.1 53.8,775.2 54.2,777.4 54.6,775.0 55.0,773.3 55.4,772.7 55.8,776.4 56.2,774.4 56.6,773.6 57.0,773.2 57.4,772.6 57.8,774.8 58.2,773.0 58.6,774.7 59.0,772.3 59.5,769.7 59.9,772.8 60.3,771.2 60.7,771.0 61.1,772.6 61.5,770.3 61.9,771.5 62.3,769.9 62.7,768.7 63.1,769.7 63.5,768.1 63.9,769.8 64.3,769.1 64.7,767.7 65.1,768.0 65.5,767.5 65.9,766.2 66.3,767.1 66.7,765.4 67.1,766.0 67.5,763.8 67.9,764.6 68.3,764.6 68.7,762.7 69.1,762.7 69.5,762.2 69.9,763.3 70.3,761.1 70.8,762.1 71.2,763.0 71.6,761.1 72.0,758.3 72.4,760.0 72.8,760.7 73.2,758.6 73.6,760.0 74.0,758.9 74.4,758.2 74.8,756.9 75.2,756.2 75.6,756.1 76.0,756.1 76.4,756.3 76.8,755.7 77.2,754.4 77.6,754.5 78.0,754.5 78.4,751.4 78.8,752.2 79.2,751.7 79.6,752.2 80.0,751.7 80.4,751.3 80.8,750.1 81.2,751.9 81.6,751.0 82.0,748.0 82.5,750.0 82.9,748.1 83.3,751.7 83.7,748.4 84.1,748.2 84.5,748.6 84.9,747.9 85.3,747.8 85.7,749.9 86.1,747.8 86.5,748.4 86.9,748.6 87.3,745.4 87.7,749.0 88.1,747.4 88.5,747.6 88.9,744.8 89.3,747.1 89.7,746.3 90.1,744.8 90.5,748.8 90.9,746.2 91.3,745.0 91.7,745.5 92.1,746.5 92.5,746.8 92.9,745.9 93.3,746.9 93.8,747.2 94.2,743.3 94.6,744.4 95.0,743.7 95.4,745.3 95.8,747.3 96.2,746.2 96.6,743.8 97.0,744.9 97.4,746.9 97.8,744.8 98.2,745.5 98.6,746.2 99.0,743.2 99.4,747.1 99.8,746.6 100.2,747.1 100.6,745.0 101.0,745.5 101.4,745.9 101.8,747.3 102.2,747.3 102.6,747.6 103.0,750.1 103.4,749.7 103.8,747.0 104.2,747.3 104.6,750.9 105.0,748.3 105.5,750.9 105.9,751.5 106.3,748.8 106.7,749.4 107.1,750.2 107.5,749.2 107.9,749.3 108.3,750.4 108.7,752.4 109.1,751.0 109.5,751.6 109.9,751.6 110.3,750.7 110.7,754.8 111.1,750.0 111.5,752.6 111.9,754.6 112.3,752.3 112.7,755.3 113.1,756.5 113.5,754.0 113.9,755.8 114.3,754.4 114.7,756.8 115.1,756.6 115.5,757.1 115.9,758.9 116.3,758.1 116.7,759.6 117.2,759.0 117.6,756.9 118.0,759.1 118.4,759.7 118.8,757.5 119.2,761.3 119.6,759.9 120.0,760.5 120.4,759.1 120.8,760.3 121.2,760.5 121.6,759.2 122.0,758.7 122.4,753.9 122.8,755.8 123.2,749.2 123.6,745.3 124.0,747.3 124.4,750.5 124.8,756.2 125.2,757.6 125.6,761.6 126.0,761.8 126.4,766.6 126.8,765.4 127.2,767.5 127.6,764.5 128.0,766.8 128.5,765.2 128.9,767.2 129.3,767.5 129.7,765.0 130.1,765.6 130.5,765.6 130.9,765.1 131.3,765.8 131.7,765.0 132.1,763.4 132.5,763.4 132.9,760.6 133.3,752.7 133.7,745.6 134.1,736.7 134.5,728.0 134.9,725.7 135.3,734.5 135.7,744.6 136.1,753.5 136.5,759.1 136.9,766.2 137.3,768.4 137.7,767.4 138.1,768.5 138.5,770.3 138.9,768.0 139.3,768.8 139.7,766.9 140.2,763.2 140.6,759.1 141.0,750.6 141.4,744.2 141.8,736.2 142.2,742.7 142.6,747.8 143.0,755.5 143.4,761.4 143.8,767.3 144.2,770.9 144.6,772.6 145.0,773.7 145.4,772.6 145.8,774.5 146.2,774.0 146.6,773.7 147.0,774.1 147.4,775.9 147.8,776.7 148.2,774.5 148.6,777.8 149.0,777.7 149.4,776.0 149.8,776.1 150.2,776.6 150.6,777.8 151.0,776.5 151.5,775.9 151.9,777.5 152.3,775.2 152.7,777.5 153.1,778.6 153.5,777.9 153.9,778.5 154.3,778.3 154.7,778.7 155.1,778.3 155.5,777.5 155.9,778.2 156.3,778.5 156.7,779.9 157.1,780.3 157.5,779.4 157.9,778.4 158.3,778.5 158.7,779.1 159.1,780.7 159.5,779.8 159.9,779.5 160.3,779.0 160.7,780.5 161.1,780.0 161.5,779.8 161.9,779.9 162.3,781.4 162.7,779.8 163.2,781.5 163.6,781.1 164.0,780.1 164.4,780.9 164.8,780.0 165.2,779.4 165.6,779.9 166.0,779.3 166.4,780.6 166.8,780.2 167.2,780.7 167.6,781.0 168.0,777.4 168.4,780.6 168.8,778.7 169.2,780.5 169.6,779.5 170.0,780.4 170.4,781.6 170.8,778.8 171.2,780.6 171.6,780.3 172.0,778.7 172.4,781.0 172.8,780.5 173.2,780.0 173.6,779.8 174.0,783.4 174.5,780.1 174.9,778.9 175.3,779.7 175.7,780.2 176.1,780.2 176.5,780.4 176.9,779.6 177.3,781.0 177.7,780.1 178.1,779.3 178.5,779.8 178.9,780.2 179.3,781.3 179.7,781.0 180.1,780.2 180.5,780.6 180.9,780.7 181.3,782.4 181.7,780.0 182.1,780.9 182.5,781.2 182.9,779.6 183.3,780.7 183.7,780.6 184.1,780.0 184.5,780.8 184.9,781.1 185.3,781.0 185.7,779.5 186.2,779.4 186.6,781.0 187.0,777.3 187.4,778.4 187.8,779.2 188.2,778.9 188.6,779.9 189.0,779.8 189.4,780.7 189.8,781.4 190.2,780.2 190.6,780.7 191.0,780.5 191.4,780.3 191.8,780.7 192.2,779.7 192.6,781.4 193.0,782.3 193.4,782.3 193.8,782.0 194.2,780.0 194.6,782.2 195.0,780.3 195.4,780.9 195.8,782.6 196.2,780.0 196.6,781.7 197.0,781.3 197.4,780.9 197.9,780.3 198.3,781.5 198.7,780.7 199.1,782.1 199.5,782.3 199.9,780.0 200.3,780.8 200.7,781.0 201.1,780.2 201.5,780.3 201.9,781.4 202.3,781.2 202.7,779.9 203.1,780.9 203.5,781.9 203.9,780.4 204.3,780.7 204.7,782.9 205.1,782.7 205.5,780.2 205.9,780.4 206.3,782.0 206.7,780.6 207.1,781.5 207.5,781.4 207.9,782.3 208.3,779.6 208.7,779.9 209.2,780.8 209.6,782.8 210.0,781.8 210.4,780.5 210.8,782.4 211.2,782.6 211.6,781.8 212.0,781.8 212.4,782.5 212.8,783.2 213.2,782.3 213.6,782.6 214.0,782.2 214.4,781.9 214.8,781.5 215.2,782.5 215.6,782.0 216.0,782.1 216.4,783.1 216.8,782.8 217.2,783.1 217.6,781.0 218.0,782.9 218.4,781.9 218.8,781.7 219.2,781.7 219.6,783.5 220.0,783.1 220.4,781.8 220.9,781.3 221.3,782.2 221.7,781.7 222.1,783.3 222.5,780.2 222.9,779.4 223.3,780.2 223.7,780.0 224.1,779.9 224.5,780.7 224.9,782.4 225.3,780.8 225.7,781.1 226.1,780.4 226.5,782.5 226.9,783.2 227.3,782.3 227.7,783.7 228.1,782.7 228.5,784.0 228.9,783.1 229.3,781.9 229.7,782.3 230.1,781.6 230.5,781.4 230.9,783.1 231.3,783.7 231.7,784.6 232.2,782.9 232.6,782.8 233.0,782.1 233.4,783.8 233.8,783.3 234.2,782.5 234.6,783.6 235.0,783.5 235.4,781.5 235.8,783.7 236.2,783.2 236.6,782.8 237.0,782.7 237.4,784.6 237.8,784.4 238.2,784.7 238.6,782.2 239.0,782.6 239.4,783.9 239.8,782.1 240.2,782.5 240.6,781.6 241.0,784.7 241.4,784.1 241.8,783.5 242.2,783.3 242.6,782.8 243.0,782.8 243.4,783.7 243.9,782.6 244.3,784.2 244.7,782.7 245.1,782.4 245.5,784.2 245.9,782.9 246.3,783.4 246.7,782.4 247.1,780.7 247.5,782.7 247.9,780.7 248.3,782.4 248.7,779.6 249.1,779.2 249.5,781.3 249.9,781.8 250.3,782.0 250.7,781.3 251.1,783.4 251.5,781.6 251.9,782.6 252.3,782.5 252.7,782.9 253.1,784.0 253.5,782.8 253.9,783.8 254.3,783.9 254.7,781.9 255.2,782.4 255.6,783.1 256.0,782.9 256.4,783.7 256.8,781.8 257.2,784.0 257.6,784.1 258.0,783.3 258.4,782.3 258.8,783.5 259.2,783.0 259.6,784.0 260.0,783.4 260.4,784.1 260.8,783.2 261.2,784.7 261.6,781.6 262.0,782.7 262.4,784.0 262.8,782.3 263.2,784.2 263.6,782.5 264.0,783.6 264.4,782.8 264.8,783.2 265.2,783.7 265.6,783.5 266.0,783.2 266.4,785.3 266.9,783.5 267.3,782.6 267.7,784.0 268.1,783.7 268.5,783.8 268.9,783.8 269.3,781.0 269.7,782.4 270.1,782.3 270.5,781.5 270.9,782.1 271.3,779.8 271.7,782.3 272.1,784.7 272.5,781.9 272.9,783.1 273.3,783.9 273.7,784.2 274.1,785.1 274.5,782.4 274.9,783.9 275.3,784.6 275.7,782.8 276.1,783.9 276.5,785.5 276.9,785.1 277.3,784.5 277.7,781.9 278.1,784.0 278.6,784.4 279.0,783.9 279.4,784.1 279.8,786.7 280.2,784.1 280.6,783.5 281.0,784.5 281.4,784.1 281.8,784.1 282.2,784.3 282.6,785.0 283.0,784.6 283.4,783.5 283.8,784.4 284.2,784.9 284.6,784.2 285.0,785.5 285.4,785.3 285.8,783.9 286.2,785.0 286.6,786.4 287.0,786.1 287.4,784.8 287.8,785.6 288.2,784.4 288.6,783.8 289.0,785.4 289.4,785.2 289.9,785.5 290.3,785.1 290.7,785.4 291.1,784.8 291.5,785.6 291.9,785.9 292.3,785.3 292.7,786.0 293.1,784.0 293.5,784.8 293.9,786.6 294.3,786.9 294.7,785.8 295.1,785.5 295.5,784.7 295.9,786.0 296.3,786.4 296.7,784.7 297.1,786.3 297.5,786.3 297.9,786.3 298.3,785.1 298.7,786.5 299.1,784.9 299.5,787.3 299.9,786.3 300.3,785.3 300.7,787.3 301.1,787.2 301.6,785.9 302.0,788.1 302.4,785.7 302.8,786.8 303.2,787.5 303.6,784.9 304.0,787.4 304.4,786.7 304.8,786.8 305.2,786.0 305.6,787.1 306.0,786.1 306.4,786.2 306.8,786.7 307.2,786.1 307.6,788.3 308.0,786.2 308.4,786.6 308.8,787.0 309.2,787.3 309.6,787.9 310.0,788.0 310.4,787.2 310.8,787.2 311.2,787.6 311.6,788.2 312.0,788.1 312.4,787.3 312.9,786.2 313.3,789.3 313.7,788.5 314.1,788.0 314.5,788.1 314.9,787.5 315.3,787.2 315.7,787.8 316.1,787.9 316.5,787.6 316.9,787.1 317.3,788.0 317.7,788.6 318.1,787.9 318.5,788.3"/>
<polyline points="36.0,887.0 36.5,888.6 36.9,888.6 37.3,887.6 37.7,887.1 38.1,888.8 38.5,887.7 38.9,888.8 39.3,887.9 39.7,888.7 40.1,887.8 40.5,886.7 40.9,887.9 41.3,887.6 41.7,888.3 42.1,887.3 42.5,887.2 42.9,888.2 43.3,888.4 43.7,887.9 44.1,888.1 44.5,887.4 44.9,887.6 45.3,887.6 45.7,887.0 46.1,886.6 46.5,886.5 46.9,888.4 47.3,886.1 47.8,885.7 48.2,885.4 48.6,885.6 49.0,885.7 49.4,884.2 49.8,883.3 50.2,885.2 50.6,883.2 51.0,884.8 51.4,884.5 51.8,885.3 52.2,885.5 52.6,884.1 53.0,883.0 53.4,882.2 53.8,882.3 54.2,882.9 54.6,880.6 55.0,882.4 55.4,882.1 55.8,882.5 56.2,881.2 56.6,881.4 57.0,880.3 57.4,880.3 57.8,878.6 58.2,880.3 58.6,881.5 59.0,879.7 59.5,879.6 59.9,877.9 60.3,880.1 60.7,877.5 61.1,878.8 61.5,877.7 61.9,876.2 62.3,878.0 62.7,876.6 63.1,876.4 63.5,876.3 63.9,875.4 64.3,874.7 64.7,875.2 65.1,873.9 65.5,874.0 65.9,872.8 66.3,871.4 66.7,872.0 67.1,871.7 67.5,871.9 67.9,872.9 68.3,869.1 68.7,870.8 69.1,867.6 69.5,868.6 69.9,868.8 70.3,866.2 70.8,866.3 71.2,868.3 71.6,867.8 72.0,867.1 72.4,865.8 72.8,869.1 73.2,865.8 73.6,864.5 74.0,867.2 74.4,865.5 74.8,863.8 75.2,865.4 75.6,863.6 76.0,863.8 76.4,862.9 76.8,860.8 77.2,863.0 77.6,861.6 78.0,859.6 78.4,859.5 78.8,861.5 79.2,859.3 79.6,859.5 80.0,859.9 80.4,858.8 80.8,856.2 81.2,858.8 81.6,858.9 82.0,858.5 82.5,859.2 82.9,857.1 83.3,857.4 83.7,858.2 84.1,855.3 84.5,857.9 84.9,857.6 85.3,856.0 85.7,857.2 86.1,855.6 86.5,852.9 86.9,855.6 87.3,854.2 87.7,854.1 88.1,853.6 88.5,855.1 88.9,853.8 89.3,851.8 89.7,853.4 90.1,853.6 90.5,851.4 90.9,851.7 91.3,851.7 91.7,851.3 92.1,852.7 92.5,853.6 92.9,854.8 93.3,853.8 93.8,853.5 94.2,853.7 94.6,854.0 95.0,851.5 95.4,853.1 95.8,852.6 96.2,852.0 96.6,851.6 97.0,851.6 97.4,852.0 97.8,850.7 98.2,853.4 98.6,852.7 99.0,853.0 99.4,853.5 99.8,854.2 100.2,852.4 100.6,853.3 101.0,851.3 101.4,850.6 101.8,851.2 102.2,856.4 102.6,851.8 103.0,855.3 103.4,856.9 103.8,854.4 104.2,857.6 104.6,858.1 105.0,857.1 105.5,859.4 105.9,857.2 106.3,855.6 106.7,857.6 107.1,856.6 107.5,855.7 107.9,856.0 108.3,861.2 108.7,857.6 109.1,858.6 109.5,858.1 109.9,859.5 110.3,859.3 110.7,859.4 111.1,858.7 111.5,858.7 111.9,860.0 112.3,861.7 112.7,864.4 113.1,863.4 113.5,864.7 113.9,863.3 114.3,862.9 114.7,861.6 115.1,863.7 115.5,861.3 115.9,864.0 116.3,866.8 116.7,865.5 117.2,866.8 117.6,865.3 118.0,864.3 118.4,865.8 118.8,866.2 119.2,868.5 119.6,869.7 120.0,866.6 120.4,867.4 120.8,867.8 121.2,867.6 121.6,866.4 122.0,867.6 122.4,867.1 122.8,865.9 123.2,862.3 123.6,862.5 124.0,860.7 124.4,865.9 124.8,865.6 125.2,868.4 125.6,869.6 126.0,870.4 126.4,870.6 126.8,870.2 127.2,874.6 127.6,873.2 128.0,873.4 128.5,875.7 128.9,873.3 129.3,874.1 129.7,873.5 130.1,874.7 130.5,873.7 130.9,873.1 131.3,871.8 131.7,871.4 132.1,870.6 132.5,863.1 132.9,859.5 133.3,849.2 133.7,835.2 134.1,815.4 134.5,804.7 134.9,799.4 135.3,811.8 135.7,829.0 136.1,843.5 136.5,857.3 136.9,863.4 137.3,869.2 137.7,872.7 138.1,874.7 138.5,875.7 138.9,876.1 139.3,878.8 139.7,876.5 140.2,873.6 140.6,872.1 141.0,868.8 141.4,865.6 141.8,862.2 142.2,862.1 142.6,868.7 143.0,871.1 143.4,874.5 143.8,877.3 144.2,879.2 144.6,882.0 145.0,881.8 145.4,882.9 145.8,879.1 146.2,882.8 146.6,883.8 147.0,884.9 147.4,883.2 147.8,881.7 148.2,884.1 148.6,883.1 149.0,882.1 149.4,883.4 149.8,885.1 150.2,885.3 150.6,885.0 151.0,883.4 151.5,886.9 151.9,883.5 152.3,884.6 152.7,883.5 153.1,886.2 153.5,885.5 153.9,886.0 154.3,885.4 154.7,885.4 155.1,885.7 155.5,884.0 155.9,886.8 156.3,886.8 156.7,885.7 157.1,886.2 157.5,886.6 157.9,887.9 158.3,887.0 158.7,886.7 159.1,886.3 159.5,885.5 159.9,886.4 160.3,887.1 160.7,886.8 161.1,887.2 161.5,887.8 161.9,887.6 162.3,887.5 162.7,887.8 163.2,887.5 163.6,887.3 164.0,887.8 164.4,885.9 164.8,888.5 165.2,886.3 165.6,888.2 166.0,887.5 166.4,888.5 166.8,887.6 167.2,886.7 167.6,888.5 168.0,887.8 168.4,887.7 168.8,887.7 169.2,888.6 169.6,888.4 170.0,887.9 170.4,886.3 170.8,887.4 171.2,887.8 171.6,889.3 172.0,888.1 172.4,887.7 172.8,888.8 173.2,887.7 173.6,887.8 174.0,888.0 174.5,886.5 174.9,888.7 175.3,888.2 175.7,887.6 176.1,886.9 176.5,888.1 176.9,889.1 177.3,887.3 177.7,887.0 178.1,888.3 178.5,886.5 178.9,886.0 179.3,887.5 179.7,887.3 180.1,887.7 180.5,887.4 180.9,888.2 181.3,887.7 181.7,887.4 182.1,887.5 182.5,888.5 182.9,888.8 183.3,888.7 183.7,888.5 184.1,885.0 184.5,886.9 184.9,887.4 185.3,887.8 185.7,886.0 186.2,888.4 186.6,887.2 187.0,886.1 187.4,886.7 187.8,886.4 188.2,886.2 188.6,887.7 189.0,887.1 189.4,886.4 189.8,887.2 190.2,887.8 190.6,887.0 191.0,889.1 191.4,887.1 191.8,889.6 192.2,888.9 192.6,887.3 193.0,888.3 193.4,889.2 193.8,888.0 194.2,887.2 194.6,888.3 195.0,890.0 195.4,887.0 195.8,888.8 196.2,888.3 196.6,888.2 197.0,888.0 197.4,888.1 197.9,889.3 198.3,888.9 198.7,887.6 199.1,889.8 199.5,887.4 199.9,889.1 200.3,888.7 200.7,889.6 201.1,888.9 201.5,889.5 201.9,888.6 202.3,889.5 202.7,889.0 203.1,890.6 203.5,888.1 203.9,889.8 204.3,889.2 204.7,889.0 205.1,888.3 205.5,889.2 205.9,887.6 206.3,887.7 206.7,889.5 207.1,887.6 207.5,890.2 207.9,888.8 208.3,889.2 208.7,889.1 209.2,889.4 209.6,888.9 210.0,888.8 210.4,889.0 210.8,890.1 211.2,890.2 211.6,890.3 212.0,889.6 212.4,889.1 212.8,887.9 213.2,889.9 213.6,890.1 214.0,889.0 214.4,890.1 214.8,890.5 215.2,889.5 215.6,890.3 216.0,889.7 216.4,888.0 216.8,889.1 217.2,889.2 217.6,890.0 218.0,888.8 218.4,889.2 218.8,888.8 219.2,889.5 219.6,889.6 220.0,890.4 220.4,890.2 220.9,889.7 221.3,889.7 221.7,889.5 222.1,889.3 222.5,890.3 222.9,886.5 223.3,888.1 223.7,888.2 224.1,888.8 224.5,887.0 224.9,888.6 225.3,889.5 225.7,888.7 226.1,887.7 226.5,889.2 226.9,888.6 227.3,890.3 227.7,889.1 228.1,891.3 228.5,890.0 228.9,889.2 229.3,889.5 229.7,889.0 230.1,890.3 230.5,891.2 230.9,889.8 231.3,890.8 231.7,889.2 232.2,890.3 232.6,891.9 233.0,888.9 233.4,891.1 233.8,891.0 234.2,888.5 234.6,888.9 235.0,889.3 235.4,890.9 235.8,889.7 236.2,890.0 236.6,890.7 237.0,890.2 237.4,890.3 237.8,889.9 238.2,891.1 238.6,889.5 239.0,891.5 239.4,889.9 239.8,889.5 240.2,890.7 240.6,890.5 241.0,888.5 241.4,890.4 241.8,889.1 242.2,889.5 242.6,890.8 243.0,889.5 243.4,890.5 243.9,889.9 244.3,891.8 244.7,890.1 245.1,889.2 245.5,889.2 245.9,889.3 246.3,890.2 246.7,890.0 247.1,890.6 247.5,889.8 247.9,889.5 248.3,889.4 248.7,888.8 249.1,889.1 249.5,889.6 249.9,889.8 250.3,889.0 250.7,888.2 251.1,889.2 251.5,890.3 251.9,888.0 252.3,889.8 252.7,890.6 253.1,889.8 253.5,889.3 253.9,891.7 254.3,891.4 254.7,890.1 255.2,891.4 255.6,891.4 256.0,889.4 256.4,892.6 256.8,889.6 257.2,890.1 257.6,889.5 258.0,890.4 258.4,889.3 258.8,890.4 259.2,891.3 259.6,890.6 260.0,890.2 260.4,891.7 260.8,889.7 261.2,891.2 261.6,890.2 262.0,890.6 262.4,890.4 262.8,890.5 263.2,890.4 263.6,889.7 264.0,889.9 264.4,890.7 264.8,890.3 265.2,889.4 265.6,889.7 266.0,889.7 266.4,890.1 266.9,890.2 267.3,890.0 267.7,889.0 268.1,889.2 268.5,887.3 268.9,885.2 269.3,886.7 269.7,884.5 270.1,884.8 270.5,884.9 270.9,887.4 271.3,886.7 271.7,888.8 272.1,888.8 272.5,888.7 272.9,888.7 273.3,890.6 273.7,890.7 274.1,891.1 274.5,892.0 274.9,890.8 275.3,890.8 275.7,890.5 276.1,890.8 276.5,890.4 276.9,890.0 277.3,892.4 277.7,889.3 278.1,891.0 278.6,891.2 279.0,891.0 279.4,890.1 279.8,890.8 280.2,890.6 280.6,890.1 281.0,891.0 281.4,890.7 281.8,890.6 282.2,891.6 282.6,890.2 283.0,891.5 283.4,890.6 283.8,891.5 284.2,891.2 284.6,891.3 285.0,890.3 285.4,890.4 285.8,890.3 286.2,891.0 286.6,891.2 287.0,891.2 287.4,889.6 287.8,889.8 288.2,888.2 288.6,887.9 289.0,889.4 289.4,890.0 289.9,889.6 290.3,889.8 290.7,891.8 291.1,890.9 291.5,890.3 291.9,893.6 292.3,892.0 292.7,891.6 293.1,892.5 293.5,891.4 293.9,893.3 294.3,890.9 294.7,891.1 295.1,892.1 295.5,891.6 295.9,893.4 296.3,891.1 296.7,891.8 297.1,892.6 297.5,892.9 297.9,893.3 298.3,892.8 298.7,894.3 299.1,892.3 299.5,892.8 299.9,893.4 300.3,892.5 300.7,892.6 301.1,892.5 301.6,892.4 302.0,892.1 302.4,892.6 302.8,891.9 303.2,893.4 303.6,891.9 304.0,894.7 304.4,894.5 304.8,894.1 305.2,893.1 305.6,892.9 306.0,894.3 306.4,893.6 306.8,893.9 307.2,893.0 307.6,894.4 308.0,893.0 308.4,893.7 308.8,892.4 309.2,893.3 309.6,894.2 310.0,893.5 310.4,893.5 310.8,894.5 311.2,893.9 311.6,894.9 312.0,892.3 312.4,894.5 312.9,894.5 313.3,893.0 313.7,893.3 314.1,894.9 314.5,893.5 314.9,893.9 315.3,894.8 315.7,894.2 316.1,894.8 316.5,893.8 316.9,894.7 317.3,895.3 317.7,894.8 318.1,893.1 318.5,895.1"/>
<polyline points="392.0,148.0 392.4,147.6 392.8,148.4 393.2,147.1 393.6,148.5 394.0,147.5 394.4,148.3 394.8,147.6 395.2,147.0 395.6,147.5 396.0,147.6 396.4,147.6 396.8,147.7 397.2,146.8 397.6,147.4 398.0,147.4 398.4,146.9 398.8,146.5 399.2,146.5 399.6,147.1 400.0,147.0 400.4,146.3 400.8,146.0 401.2,147.0 401.7,145.7 402.1,146.4 402.5,145.8 402.9,145.3 403.3,146.1 403.7,145.8 404.1,146.4 404.5,146.7 404.9,145.5 405.3,146.0 405.7,145.9 406.1,145.1 406.5,144.8 406.9,145.8 407.3,144.8 407.7,144.9 408.1,144.6 408.5,144.6 408.9,144.3 409.3,144.7 409.7,144.9 410.1,144.0 410.5,143.4 410.9,143.9 411.3,143.1 411.7,143.4 412.1,144.1 412.5,144.5 412.9,143.4 413.3,142.6 413.7,143.4 414.1,141.8 414.5,142.4 414.9,143.3 415.3,142.8 415.7,141.6 416.1,141.3 416.5,142.4 416.9,141.8 417.3,141.4 417.7,141.7 418.1,141.1 418.5,140.3 418.9,141.5 419.3,140.6 419.7,140.3 420.1,140.0 420.6,140.6 421.0,139.9 421.4,140.5 421.8,139.9 422.2,140.4 422.6,139.5 423.0,139.2 423.4,138.4 423.8,138.7 424.2,139.4 424.6,140.5 425.0,138.1 425.4,138.1 425.8,138.6 426.2,138.5 426.6,137.8 427.0,138.0 427.4,137.0 427.8,137.5 428.2,138.0 428.6,138.2 429.0,137.1 429.4,136.9 429.8,137.2 430.2,137.4 430.6,136.9 431.0,136.1 431.4,136.5 431.8,136.7 432.2,135.7 432.6,135.2 433.0,136.1 433.4,135.9 433.8,136.1 434.2,135.5 434.6,134.9 435.0,134.9 435.4,134.5 435.8,134.4 436.2,134.5 436.6,134.4 437.0,135.2 437.4,133.8 437.8,134.4 438.2,134.0 438.6,135.0 439.1,134.2 439.5,133.8 439.9,134.4 440.3,133.9 440.7,133.5 441.1,134.5 441.5,134.0 441.9,134.5 442.3,134.1 442.7,133.8 443.1,133.4 443.5,132.7 443.9,133.6 444.3,133.2 444.7,133.5 445.1,133.1 445.5,132.7 445.9,132.5 446.3,133.4 446.7,133.7 447.1,132.8 447.5,133.2 447.9,133.7 448.3,132.5 448.7,132.7 449.1,132.3 449.5,133.6 449.9,133.1 450.3,132.7 450.7,132.0 451.1,132.9 451.5,133.6 451.9,132.9 452.3,132.8 452.7,133.4 453.1,132.4 453.5,133.2 453.9,133.5 454.3,132.8 454.7,132.8 455.1,133.5 455.5,133.3 455.9,133.3 456.3,133.6 456.7,133.7 457.1,133.1 457.5,133.3 458.0,134.0 458.4,134.4 458.8,134.6 459.2,133.5 459.6,134.6 460.0,134.5 460.4,134.2 460.8,134.6 461.2,134.8 461.6,135.5 462.0,134.0 462.4,135.0 462.8,134.7 463.2,134.7 463.6,135.6 464.0,135.5 464.4,134.6 464.8,135.1 465.2,135.5 465.6,134.7 466.0,136.1 466.4,135.7 466.8,135.9 467.2,136.1 467.6,137.0 468.0,136.2 468.4,136.1 468.8,137.3 469.2,136.3 469.6,136.4 470.0,136.0 470.4,137.4 470.8,137.1 471.2,137.4 471.6,137.3 472.0,137.3 472.4,137.1 472.8,137.2 473.2,138.0 473.6,137.9 474.0,138.8 474.4,137.7 474.8,138.0 475.2,137.8 475.6,139.2 476.0,137.9 476.4,139.1 476.9,139.5 477.3,138.9 477.7,139.4 478.1,138.1 478.5,139.1 478.9,138.6 479.3,139.6 479.7,139.6 480.1,139.3 480.5,140.3 480.9,140.1 481.3,139.8 481.7,139.9 482.1,139.5 482.5,140.2 482.9,141.4 483.3,140.1 483.7,140.8 484.1,140.3 484.5,141.1 484.9,140.9 485.3,140.6 485.7,139.9 486.1,140.4 486.5,141.2 486.9,140.3 487.3,140.4 487.7,138.9 488.1,136.1 488.5,133.4 488.9,126.9 489.3,117.5 489.7,108.5 490.1,103.5 490.5,104.5 490.9,112.8 491.3,121.9 491.7,128.9 492.1,135.8 492.5,138.8 492.9,140.3 493.3,141.8 493.7,141.8 494.1,142.6 494.5,143.0 494.9,142.7 495.4,142.0 495.8,142.3 496.2,143.0 496.6,142.1 497.0,141.4 497.4,141.4 497.8,141.6 498.2,141.8 498.6,142.5 499.0,142.4 499.4,143.1 499.8,143.5 500.2,143.9 500.6,143.1 501.0,144.0 501.4,143.6 501.8,144.9 502.2,145.1 502.6,145.2 503.0,144.8 503.4,144.3 503.8,145.0 504.2,144.6 504.6,145.0 505.0,144.4 505.4,144.6 505.8,145.1 506.2,145.7 506.6,145.0 507.0,146.0 507.4,146.3 507.8,144.6 508.2,145.2 508.6,144.8 509.0,145.2 509.4,145.1 509.8,145.3 510.2,145.8 510.6,145.8 511.0,145.6 511.4,145.5 511.8,145.6 512.2,145.7 512.6,145.9 513.0,145.7 513.4,146.0 513.8,145.2 514.3,146.2 514.7,146.6 515.1,146.0 515.5,145.3 515.9,146.6 516.3,145.9 516.7,144.8 517.1,146.0 517.5,146.4 517.9,146.4 518.3,146.8 518.7,146.5 519.1,146.4 519.5,145.5 519.9,145.9 520.3,146.5 520.7,146.7 521.1,146.1 521.5,146.3 521.9,146.8 522.3,145.8 522.7,145.8 523.1,146.6 523.5,146.8 523.9,146.5 524.3,145.8 524.7,146.8 525.1,146.3 525.5,147.2 525.9,146.9 526.3,147.1 526.7,147.2 527.1,146.8 527.5,147.4 527.9,147.6 528.3,147.3 528.7,147.7 529.1,146.9 529.5,147.6 529.9,147.3 530.3,146.9 530.7,147.3 531.1,147.1 531.5,147.1 531.9,147.4 532.3,147.8 532.7,147.3 533.2,147.5 533.6,146.9 534.0,147.6 534.4,148.0 534.8,147.9 535.2,147.8 535.6,147.4 536.0,147.2 536.4,147.6 536.8,147.1 537.2,147.2 537.6,148.1 538.0,147.4 538.4,148.5 538.8,147.2 539.2,148.0 539.6,147.3 540.0,147.9 540.4,147.4 540.8,147.9 541.2,147.8 541.6,147.7 542.0,148.1 542.4,148.5 542.8,147.7 543.2,148.3 543.6,148.0 544.0,148.0 544.4,148.9 544.8,147.1 545.2,147.7 545.6,147.3 546.0,147.9 546.4,147.9 546.8,149.6 547.2,148.2 547.6,148.8 548.0,148.6 548.4,147.9 548.8,148.3 549.2,148.7 549.6,148.1 550.0,148.2 550.4,148.3 550.8,147.5 551.2,147.8 551.7,148.2 552.1,148.3 552.5,147.7 552.9,148.0 553.3,148.1 553.7,148.1 554.1,148.4 554.5,148.2 554.9,148.2 555.3,147.6 555.7,147.7 556.1,148.3 556.5,147.5 556.9,148.3 557.3,147.9 557.7,147.9 558.1,148.4 558.5,147.9 558.9,147.8 559.3,147.9 559.7,148.2 560.1,149.3 560.5,147.4 560.9,148.2 561.3,148.1 561.7,148.6 562.1,148.1 562.5,147.2 562.9,148.8 563.3,147.8 563.7,148.2 564.1,147.7 564.5,147.8 564.9,148.1 565.3,148.6 565.7,148.6 566.1,148.0 566.5,148.5 566.9,148.1 567.3,148.3 567.7,148.3 568.1,148.5 568.5,148.0 568.9,148.2 569.3,148.4 569.7,148.3 570.1,148.0 570.6,149.0 571.0,148.1 571.4,148.6 571.8,148.4 572.2,148.8 572.6,147.4 573.0,149.1 573.4,148.2 573.8,147.8 574.2,148.4 574.6,149.2 575.0,148.5 575.4,147.8 575.8,148.2 576.2,148.9 576.6,147.8 577.0,148.3 577.4,148.2 577.8,149.2 578.2,148.2 578.6,148.9 579.0,148.1 579.4,148.0 579.8,148.8 580.2,148.6 580.6,147.7 581.0,148.6 581.4,148.6 581.8,148.1 582.2,148.5 582.6,148.5 583.0,148.2 583.4,148.2 583.8,148.1 584.2,148.3 584.6,147.9 585.0,148.4 585.4,147.8 585.8,148.5 586.2,148.4 586.6,148.0 587.0,148.8 587.4,149.2 587.8,149.0 588.2,147.9 588.6,149.0 589.0,148.5 589.5,148.4 589.9,148.2 590.3,148.5 590.7,149.0 591.1,148.7 591.5,148.3 591.9,148.2 592.3,148.3 592.7,148.7 593.1,149.2 593.5,148.1 593.9,148.5 594.3,148.4 594.7,148.2 595.1,148.7 595.5,148.7 595.9,148.0 596.3,148.1 596.7,149.0 597.1,148.7 597.5,148.8 597.9,148.4 598.3,148.4 598.7,148.7 599.1,148.4 599.5,148.1 599.9,148.6 600.3,149.0 600.7,148.2 601.1,149.0 601.5,148.9 601.9,148.3 602.3,148.6 602.7,148.6 603.1,148.9 603.5,148.9 603.9,148.1 604.3,148.1 604.7,149.1 605.1,148.7 605.5,148.8 605.9,148.8 606.3,149.3 606.7,148.2 607.1,149.1 607.5,148.4 608.0,149.0 608.4,149.3 608.8,148.2 609.2,148.9 609.6,148.6 610.0,148.6 610.4,148.8 610.8,148.3 611.2,148.4 611.6,149.0 612.0,149.1 612.4,148.6 612.8,148.2 613.2,149.7 613.6,149.3 614.0,149.0 614.4,148.4 614.8,148.6 615.2,148.9 615.6,148.5 616.0,149.5 616.4,148.9 616.8,149.0 617.2,148.5 617.6,148.5 618.0,148.6 618.4,149.0 618.8,148.8 619.2,148.8 619.6,149.1 620.0,149.0 620.4,149.5 620.8,148.9 621.2,148.6 621.6,149.0 622.0,149.6 622.4,148.8 622.8,149.0 623.2,148.9 623.6,149.2 624.0,149.1 624.4,148.7 624.8,149.0 625.2,149.4 625.6,149.5 626.0,149.5 626.4,149.4 626.9,149.0 627.3,149.0 627.7,149.5 628.1,148.7 628.5,149.1 628.9,148.4 629.3,149.0 629.7,148.9 630.1,148.7 630.5,149.4 630.9,148.9 631.3,149.1 631.7,149.1 632.1,149.0 632.5,149.8 632.9,149.1 633.3,149.3 633.7,148.8 634.1,149.1 634.5,149.2 634.9,149.2 635.3,149.1 635.7,149.4 636.1,149.9 636.5,149.3 636.9,149.3 637.3,149.2 637.7,150.4 638.1,150.0 638.5,149.6 638.9,149.7 639.3,149.2 639.7,149.4 640.1,149.5 640.5,149.5 640.9,149.1 641.3,149.2 641.7,149.7 642.1,149.6 642.5,148.7 642.9,149.6 643.3,150.0 643.7,149.3 644.1,149.6 644.5,149.0 644.9,149.9 645.3,149.2 645.8,149.1 646.2,149.5 646.6,150.5 647.0,149.4 647.4,149.2 647.8,149.8 648.2,149.7 648.6,150.3 649.0,149.2 649.4,149.1 649.8,149.6 650.2,149.8 650.6,149.9 651.0,150.1 651.4,149.2 651.8,149.4 652.2,149.7 652.6,150.1 653.0,150.0 653.4,149.6 653.8,149.4 654.2,150.1 654.6,150.2 655.0,150.9 655.4,149.8 655.8,150.5 656.2,149.4 656.6,149.7 657.0,149.6 657.4,149.7 657.8,149.6 658.2,149.7 658.6,149.9 659.0,149.8 659.4,150.2 659.8,149.9 660.2,150.0 660.6,150.5 661.0,150.1 661.4,150.1 661.8,150.0 662.2,150.0 662.6,150.2 663.0,149.7 663.4,150.5 663.8,150.6 664.3,150.5 664.7,149.9 665.1,149.5 665.5,149.9 665.9,150.2 666.3,150.4 666.7,150.1 667.1,150.0 667.5,150.7 667.9,149.9 668.3,150.6 668.7,150.5 669.1,149.7 669.5,150.3 669.9,150.0 670.3,149.9 670.7,149.5 671.1,149.6 671.5,150.4 671.9,150.1 672.3,150.4 672.7,149.9 673.1,150.2 673.5,150.2"/>
<polyline points="392.0,201.8 392.4,201.7 392.8,202.5 393.2,202.3 393.6,201.8 394.0,202.1 394.4,202.3 394.8,202.8 395.2,201.6 395.6,202.2 396.0,202.7 396.4,201.8 396.8,202.3 397.2,200.6 397.6,202.2 398.0,201.5 398.4,200.7 398.8,201.7 399.2,201.7 399.6,201.7 400.0,201.7 400.4,201.1 400.8,200.7 401.2,200.7 401.7,200.8 402.1,200.9 402.5,200.4 402.9,200.6 403.3,200.9 403.7,200.5 404.1,201.3 404.5,201.1 404.9,199.6 405.3,199.7 405.7,199.3 406.1,199.3 406.5,199.9 406.9,199.1 407.3,199.0 407.7,199.2 408.1,199.6 408.5,199.0 408.9,198.9 409.3,199.3 409.7,199.0 410.1,198.9 410.5,199.0 410.9,198.0 411.3,198.4 411.7,197.9 412.1,198.5 412.5,198.3 412.9,197.3 413.3,198.3 413.7,197.0 414.1,197.9 414.5,197.3 414.9,196.7 415.3,196.4 415.7,196.7 416.1,196.7 416.5,196.2 416.9,196.7 417.3,195.6 417.7,196.1 418.1,195.9 418.5,194.9 418.9,195.8 419.3,194.9 419.7,194.1 420.1,194.9 420.6,194.9 421.0,195.3 421.4,194.5 421.8,195.3 422.2,195.1 422.6,194.8 423.0,194.8 423.4,194.1 423.8,193.5 424.2,194.0 424.6,194.0 425.0,193.5 425.4,193.1 425.8,192.2 426.2,193.2 426.6,192.9 427.0,191.9 427.4,192.5 427.8,192.7 428.2,192.1 428.6,192.4 429.0,192.2 429.4,190.9 429.8,191.4 430.2,191.7 430.6,191.7 431.0,191.9 431.4,190.0 431.8,190.8 432.2,191.1 432.6,191.2 433.0,191.4 433.4,189.8 433.8,190.0 434.2,189.5 434.6,190.4 435.0,189.1 435.4,190.4 435.8,190.1 436.2,189.7 436.6,188.2 437.0,188.9 437.4,189.6 437.8,188.3 438.2,188.8 438.6,188.8 439.1,189.3 439.5,188.8 439.9,188.8 440.3,188.3 440.7,188.4 441.1,188.3 441.5,188.7 441.9,188.1 442.3,188.7 442.7,187.2 443.1,188.7 443.5,187.9 443.9,188.6 444.3,187.9 444.7,188.3 445.1,188.7 445.5,187.5 445.9,187.8 446.3,187.6 446.7,187.8 447.1,186.8 447.5,187.6 447.9,187.5 448.3,187.2 448.7,187.5 449.1,186.8 449.5,188.4 449.9,187.9 450.3,188.7 450.7,187.2 451.1,187.0 451.5,187.9 451.9,186.8 452.3,187.9 452.7,187.4 453.1,187.6 453.5,188.0 453.9,187.9 454.3,189.0 454.7,188.4 455.1,187.3 455.5,188.6 455.9,187.4 456.3,188.3 456.7,187.6 457.1,187.9 457.5,189.1 458.0,188.2 458.4,188.2 458.8,188.3 459.2,188.5 459.6,189.6 460.0,188.2 460.4,188.3 460.8,189.3 461.2,188.2 461.6,189.0 462.0,189.9 462.4,189.4 462.8,189.2 463.2,189.2 463.6,189.2 464.0,189.5 464.4,190.0 464.8,190.7 465.2,190.6 465.6,189.9 466.0,189.9 466.4,190.8 466.8,189.6 467.2,190.4 467.6,190.6 468.0,190.3 468.4,190.5 468.8,191.3 469.2,190.4 469.6,190.9 470.0,191.1 470.4,191.6 470.8,191.0 471.2,192.4 471.6,191.8 472.0,191.9 472.4,192.0 472.8,192.0 473.2,191.9 473.6,193.2 474.0,192.8 474.4,192.7 474.8,193.4 475.2,192.7 475.6,193.5 476.0,193.2 476.4,192.9 476.9,193.8 477.3,192.6 477.7,193.6 478.1,192.6 478.5,192.8 478.9,192.9 479.3,192.2 479.7,191.7 480.1,192.5 480.5,193.0 480.9,193.2 481.3,193.8 481.7,194.7 482.1,195.1 482.5,194.1 482.9,195.1 483.3,195.5 483.7,195.4 484.1,194.9 484.5,196.0 484.9,195.0 485.3,195.9 485.7,196.4 486.1,194.7 486.5,195.8 486.9,195.8 487.3,195.5 487.7,194.5 488.1,193.5 488.5,190.6 488.9,187.5 489.3,182.4 489.7,176.2 490.1,172.7 490.5,174.0 490.9,179.0 491.3,184.9 491.7,189.8 492.1,193.3 492.5,194.6 492.9,195.0 493.3,197.1 493.7,197.8 494.1,196.6 494.5,197.1 494.9,197.6 495.4,197.9 495.8,197.5 496.2,197.3 496.6,196.0 497.0,195.4 497.4,194.9 497.8,194.6 498.2,196.1 498.6,196.7 499.0,197.8 499.4,197.8 499.8,198.8 500.2,198.1 500.6,198.9 501.0,197.7 501.4,198.5 501.8,199.3 502.2,198.8 502.6,199.2 503.0,198.4 503.4,199.9 503.8,199.5 504.2,199.3 504.6,199.6 505.0,199.6 505.4,200.1 505.8,199.6 506.2,198.9 506.6,199.5 507.0,200.2 507.4,199.9 507.8,199.6 508.2,200.0 508.6,199.9 509.0,200.1 509.4,199.2 509.8,199.5 510.2,200.3 510.6,199.9 511.0,200.2 511.4,200.9 511.8,200.0 512.2,200.2 512.6,199.9 513.0,199.9 513.4,200.2 513.8,199.6 514.3,199.4 514.7,200.9 515.1,200.3 515.5,200.9 515.9,200.5 516.3,200.5 516.7,200.8 517.1,200.8 517.5,200.0 517.9,201.1 518.3,200.2 518.7,200.7 519.1,201.7 519.5,200.7 519.9,201.4 520.3,200.5 520.7,201.0 521.1,200.8 521.5,200.9 521.9,200.4 522.3,200.4 522.7,201.0 523.1,200.2 523.5,200.5 523.9,201.2 524.3,200.7 524.7,200.6 525.1,200.5 525.5,201.0 525.9,200.8 526.3,201.1 526.7,201.0 527.1,201.8 527.5,200.9 527.9,200.3 528.3,201.2 528.7,201.1 529.1,201.2 529.5,200.5 529.9,201.7 530.3,201.2 530.7,201.2 531.1,200.6 531.5,201.4 531.9,201.2 532.3,201.9 532.7,201.1 533.2,200.8 533.6,201.4 534.0,201.0 534.4,201.5 534.8,200.9 535.2,201.3 535.6,201.3 536.0,201.4 536.4,201.2 536.8,201.1 537.2,201.4 537.6,201.2 538.0,201.5 538.4,201.4 538.8,200.6 539.2,201.5 539.6,202.1 540.0,201.7 540.4,201.8 540.8,201.7 541.2,201.4 541.6,201.0 542.0,201.9 542.4,202.0 542.8,201.8 543.2,201.8 543.6,201.8 544.0,201.6 544.4,201.8 544.8,201.7 545.2,201.8 545.6,201.3 546.0,201.4 546.4,201.9 546.8,201.5 547.2,200.7 547.6,201.8 548.0,200.8 548.4,202.5 548.8,202.0 549.2,202.0 549.6,201.5 550.0,201.3 550.4,201.7 550.8,201.8 551.2,201.4 551.7,201.8 552.1,202.1 552.5,202.0 552.9,201.4 553.3,200.9 553.7,201.8 554.1,201.5 554.5,202.0 554.9,202.5 555.3,202.5 555.7,201.9 556.1,202.3 556.5,202.5 556.9,201.9 557.3,202.0 557.7,202.2 558.1,201.8 558.5,201.7 558.9,201.6 559.3,201.9 559.7,201.6 560.1,202.2 560.5,201.7 560.9,202.5 561.3,202.4 561.7,201.4 562.1,202.3 562.5,201.7 562.9,202.5 563.3,202.1 563.7,201.9 564.1,202.2 564.5,201.7 564.9,202.1 565.3,202.1 565.7,201.9 566.1,202.1 566.5,201.5 566.9,202.2 567.3,201.5 567.7,202.2 568.1,202.2 568.5,202.3 568.9,201.7 569.3,203.2 569.7,201.9 570.1,202.0 570.6,201.7 571.0,202.6 571.4,201.8 571.8,202.4 572.2,201.6 572.6,202.1 573.0,201.9 573.4,202.4 573.8,201.9 574.2,201.7 574.6,202.2 575.0,201.6 575.4,201.7 575.8,202.4 576.2,201.3 576.6,202.4 577.0,201.9 577.4,201.7 577.8,202.2 578.2,202.3 578.6,201.8 579.0,202.0 579.4,202.4 579.8,202.4 580.2,202.1 580.6,201.8 581.0,201.7 581.4,201.9 581.8,202.4 582.2,202.4 582.6,202.2 583.0,202.7 583.4,202.0 583.8,202.0 584.2,202.0 584.6,202.9 585.0,201.3 585.4,202.3 585.8,202.3 586.2,202.2 586.6,203.1 587.0,202.7 587.4,202.5 587.8,201.8 588.2,202.4 588.6,202.1 589.0,202.2 589.5,202.3 589.9,202.0 590.3,202.5 590.7,202.9 591.1,202.7 591.5,202.3 591.9,201.5 592.3,202.7 592.7,202.7 593.1,202.2 593.5,202.1 593.9,202.5 594.3,202.0 594.7,202.6 595.1,201.9 595.5,201.9 595.9,202.3 596.3,201.8 596.7,202.3 597.1,202.6 597.5,201.8 597.9,202.7 598.3,202.1 598.7,202.6 599.1,202.5 599.5,202.2 599.9,202.2 600.3,201.7 600.7,202.1 601.1,202.1 601.5,203.1 601.9,202.8 602.3,201.9 602.7,202.8 603.1,202.5 603.5,202.3 603.9,202.7 604.3,202.8 604.7,202.3 605.1,202.4 605.5,202.6 605.9,202.1 606.3,202.6 606.7,202.5 607.1,202.3 607.5,202.2 608.0,202.7 608.4,202.9 608.8,202.7 609.2,202.3 609.6,202.9 610.0,202.7 610.4,202.9 610.8,203.1 611.2,202.3 611.6,202.6 612.0,202.5 612.4,202.4 612.8,203.5 613.2,203.1 613.6,202.1 614.0,202.9 614.4,202.6 614.8,203.2 615.2,202.8 615.6,202.8 616.0,202.9 616.4,203.0 616.8,202.9 617.2,202.8 617.6,202.8 618.0,203.1 618.4,202.5 618.8,202.9 619.2,202.9 619.6,202.8 620.0,203.3 620.4,202.5 620.8,202.9 621.2,202.7 621.6,203.3 622.0,202.9 622.4,203.1 622.8,203.2 623.2,202.5 623.6,203.3 624.0,202.9 624.4,203.1 624.8,203.1 625.2,203.5 625.6,203.5 626.0,203.9 626.4,203.3 626.9,203.1 627.3,203.1 627.7,203.5 628.1,203.9 628.5,203.5 628.9,203.1 629.3,203.5 629.7,203.5 630.1,203.4 630.5,203.1 630.9,202.5 631.3,203.2 631.7,203.9 632.1,203.6 632.5,202.7 632.9,203.5 633.3,202.8 633.7,204.3 634.1,203.6 634.5,203.1 634.9,203.9 635.3,203.3 635.7,203.9 636.1,203.7 636.5,203.2 636.9,204.0 637.3,203.2 637.7,204.2 638.1,203.8 638.5,203.4 638.9,203.1 639.3,204.4 639.7,204.4 640.1,203.4 640.5,204.5 640.9,204.0 641.3,203.8 641.7,203.9 642.1,203.9 642.5,204.5 642.9,204.0 643.3,203.3 643.7,204.8 644.1,204.4 644.5,203.7 644.9,204.0 645.3,203.8 645.8,204.1 646.2,204.3 646.6,204.3 647.0,204.0 647.4,203.9 647.8,204.5 648.2,204.2 648.6,205.1 649.0,204.0 649.4,204.6 649.8,204.3 650.2,204.1 650.6,204.9 651.0,204.4 651.4,204.1 651.8,204.3 652.2,204.8 652.6,204.0 653.0,205.0 653.4,204.7 653.8,204.4 654.2,205.0 654.6,205.2 655.0,204.8 655.4,204.7 655.8,205.3 656.2,205.2 656.6,204.3 657.0,204.6 657.4,204.6 657.8,204.6 658.2,204.2 658.6,205.1 659.0,204.8 659.4,204.8 659.8,205.3 660.2,204.6 660.6,204.8 661.0,205.0 661.4,204.7 661.8,204.9 662.2,205.2 662.6,204.9 663.0,205.4 663.4,204.7 663.8,205.1 664.3,204.5 664.7,205.0 665.1,204.8 665.5,205.5 665.9,205.3 666.3,205.3 666.7,205.8 667.1,205.7 667.5,205.4 667.9,204.9 668.3,204.7 668.7,205.2 669.1,205.1 669.5,205.0 669.9,205.1 670.3,204.7 670.7,205.8 671.1,204.9 671.5,205.1 671.9,205.5 672.3,204.8 672.7,205.7 673.1,205.7 673.5,205.3"/>
<polyline points="392.0,243.3 392.4,243.5 392.8,242.9 393.2,244.1 393.6,243.5 394.0,243.2 394.4,243.1 394.8,243.6 395.2,243.9 395.6,242.8 396.0,243.0 396.4,242.5 396.8,243.4 397.2,243.1 397.6,243.9 398.0,242.9 398.4,242.7 398.8,242.5 399.2,243.0 399.6,242.0 400.0,242.9 400.4,242.6 400.8,242.2 401.2,242.0 401.7,242.7 402.1,242.9 402.5,241.9 402.9,242.2 403.3,242.6 403.7,241.6 404.1,241.6 404.5,241.2 404.9,241.5 405.3,241.4 405.7,241.2 406.1,241.0 406.5,240.5 406.9,240.5 407.3,240.6 407.7,241.1 408.1,240.5 408.5,240.3 408.9,240.8 409.3,240.7 409.7,240.0 410.1,239.9 410.5,240.4 410.9,240.1 411.3,239.5 411.7,239.8 412.1,239.6 412.5,239.9 412.9,238.9 413.3,239.6 413.7,239.3 414.1,238.5 414.5,239.3 414.9,239.1 415.3,237.9 415.7,239.3 416.1,237.7 416.5,237.7 416.9,237.8 417.3,238.1 417.7,237.9 418.1,237.5 418.5,238.0 418.9,237.4 419.3,237.7 419.7,238.2 420.1,236.8 420.6,235.4 421.0,236.2 421.4,235.7 421.8,236.1 422.2,236.0 422.6,235.2 423.0,235.1 423.4,235.3 423.8,235.2 424.2,233.9 424.6,235.4 425.0,234.8 425.4,234.6 425.8,234.6 426.2,233.8 426.6,234.1 427.0,234.5 427.4,234.4 427.8,233.9 428.2,233.4 428.6,232.9 429.0,233.9 429.4,233.3 429.8,232.7 430.2,231.6 430.6,232.1 431.0,231.4 431.4,232.9 431.8,232.2 432.2,231.6 432.6,231.7 433.0,233.0 433.4,232.2 433.8,230.7 434.2,231.2 434.6,230.4 435.0,230.0 435.4,230.9 435.8,232.0 436.2,231.4 436.6,230.5 437.0,230.1 437.4,230.3 437.8,230.6 438.2,229.2 438.6,228.8 439.1,230.8 439.5,229.8 439.9,230.4 440.3,229.5 440.7,230.1 441.1,228.9 441.5,229.4 441.9,229.9 442.3,229.5 442.7,228.6 443.1,229.3 443.5,228.4 443.9,227.9 444.3,228.9 444.7,229.3 445.1,228.9 445.5,227.7 445.9,228.9 446.3,228.7 446.7,228.0 447.1,226.8 447.5,228.8 447.9,228.7 448.3,228.4 448.7,227.1 449.1,227.3 449.5,228.7 449.9,228.5 450.3,228.4 450.7,227.9 451.1,228.3 451.5,227.8 451.9,227.9 452.3,227.6 452.7,228.3 453.1,227.9 453.5,228.7 453.9,228.6 454.3,227.8 454.7,229.3 455.1,227.7 455.5,228.6 455.9,229.0 456.3,229.2 456.7,227.2 457.1,229.1 457.5,229.3 458.0,229.5 458.4,227.5 458.8,228.4 459.2,228.8 459.6,228.7 460.0,229.8 460.4,228.7 460.8,229.9 461.2,229.6 461.6,228.5 462.0,228.9 462.4,229.3 462.8,229.7 463.2,230.3 463.6,229.7 464.0,230.4 464.4,229.1 464.8,228.4 465.2,230.0 465.6,230.6 466.0,230.3 466.4,230.0 466.8,230.9 467.2,231.9 467.6,230.9 468.0,230.6 468.4,230.7 468.8,232.4 469.2,231.4 469.6,231.9 470.0,232.3 470.4,232.4 470.8,231.4 471.2,232.6 471.6,232.6 472.0,232.6 472.4,233.0 472.8,232.3 473.2,232.7 473.6,232.6 474.0,233.4 474.4,232.8 474.8,233.4 475.2,232.8 475.6,233.4 476.0,233.4 476.4,233.7 476.9,234.0 477.3,233.9 477.7,234.1 478.1,233.2 478.5,235.0 478.9,234.2 479.3,234.6 479.7,234.4 480.1,235.5 480.5,234.6 480.9,235.5 481.3,235.9 481.7,236.3 482.1,236.2 482.5,236.0 482.9,235.2 483.3,236.6 483.7,236.7 484.1,236.6 484.5,236.7 484.9,236.5 485.3,236.3 485.7,237.2 486.1,237.4 486.5,236.3 486.9,237.4 487.3,237.1 487.7,237.4 488.1,237.0 488.5,237.1 488.9,236.5 489.3,235.7 489.7,233.7 490.1,234.3 490.5,234.2 490.9,234.5 491.3,236.5 491.7,236.4 492.1,238.1 492.5,238.9 492.9,238.1 493.3,239.0 493.7,238.9 494.1,239.1 494.5,238.3 494.9,239.3 495.4,239.1 495.8,239.5 496.2,239.3 496.6,239.8 497.0,239.6 497.4,239.8 497.8,240.2 498.2,239.7 498.6,240.2 499.0,239.9 499.4,240.1 499.8,239.7 500.2,240.4 500.6,240.6 501.0,240.1 501.4,240.6 501.8,240.5 502.2,239.8 502.6,240.5 503.0,241.0 503.4,240.3 503.8,239.8 504.2,240.7 504.6,240.4 505.0,241.6 505.4,240.8 505.8,240.8 506.2,240.6 506.6,241.0 507.0,240.7 507.4,240.6 507.8,241.0 508.2,240.8 508.6,241.7 509.0,240.7 509.4,241.2 509.8,241.0 510.2,240.7 510.6,242.1 511.0,240.5 511.4,242.1 511.8,240.9 512.2,241.6 512.6,242.5 513.0,240.7 513.4,241.1 513.8,242.3 514.3,241.8 514.7,241.5 515.1,241.8 515.5,241.4 515.9,241.9 516.3,242.5 516.7,241.8 517.1,242.0 517.5,242.5 517.9,242.9 518.3,241.8 518.7,242.2 519.1,241.9 519.5,241.9 519.9,242.0 520.3,241.9 520.7,241.5 521.1,241.4 521.5,242.0 521.9,242.4 522.3,242.9 522.7,242.1 523.1,242.3 523.5,242.7 523.9,242.8 524.3,242.4 524.7,242.5 525.1,243.3 525.5,242.4 525.9,242.4 526.3,241.9 526.7,242.8 527.1,242.5 527.5,243.4 527.9,242.5 528.3,243.0 528.7,243.1 529.1,243.4 529.5,242.2 529.9,243.4 530.3,242.8 530.7,242.8 531.1,242.7 531.5,242.7 531.9,242.7 532.3,241.9 532.7,243.1 533.2,243.0 533.6,242.6 534.0,242.9 534.4,243.9 534.8,243.2 535.2,242.9 535.6,243.7 536.0,242.7 536.4,243.0 536.8,242.9 537.2,243.0 537.6,243.4 538.0,243.4 538.4,242.8 538.8,243.1 539.2,243.2 539.6,243.0 540.0,243.2 540.4,242.9 540.8,242.9 541.2,243.2 541.6,242.8 542.0,243.4 542.4,243.2 542.8,242.9 543.2,243.0 543.6,243.1 544.0,243.2 544.4,243.3 544.8,243.2 545.2,243.0 545.6,243.9 546.0,243.7 546.4,243.4 546.8,243.7 547.2,243.5 547.6,243.3 548.0,243.4 548.4,244.4 548.8,243.8 549.2,243.8 549.6,243.2 550.0,243.6 550.4,244.3 550.8,243.6 551.2,243.9 551.7,243.9 552.1,243.7 552.5,244.1 552.9,243.5 553.3,243.6 553.7,243.2 554.1,244.5 554.5,243.6 554.9,243.5 555.3,244.0 555.7,243.3 556.1,243.5 556.5,243.2 556.9,243.5 557.3,243.3 557.7,243.7 558.1,243.5 558.5,243.3 558.9,243.4 559.3,243.5 559.7,243.3 560.1,243.9 560.5,243.8 560.9,243.6 561.3,243.1 561.7,243.8 562.1,243.1 562.5,243.6 562.9,243.6 563.3,243.3 563.7,243.2 564.1,243.3 564.5,244.4 564.9,243.5 565.3,243.5 565.7,244.0 566.1,243.8 566.5,244.0 566.9,243.1 567.3,243.2 567.7,244.9 568.1,243.6 568.5,243.5 568.9,243.7 569.3,244.0 569.7,243.2 570.1,243.8 570.6,243.6 571.0,243.9 571.4,243.7 571.8,243.5 572.2,243.3 572.6,242.7 573.0,244.1 573.4,243.1 573.8,243.5 574.2,244.3 574.6,243.5 575.0,243.9 575.4,243.6 575.8,244.0 576.2,243.7 576.6,243.5 577.0,244.3 577.4,243.6 577.8,243.2 578.2,243.6 578.6,243.9 579.0,243.3 579.4,244.1 579.8,244.0 580.2,244.6 580.6,243.5 581.0,244.0 581.4,243.1 581.8,243.6 582.2,243.8 582.6,243.9 583.0,243.8 583.4,243.7 583.8,243.5 584.2,243.6 584.6,243.9 585.0,244.0 585.4,244.1 585.8,244.2 586.2,244.3 586.6,243.1 587.0,243.6 587.4,243.8 587.8,243.6 588.2,244.3 588.6,244.1 589.0,243.8 589.5,243.9 589.9,244.4 590.3,243.7 590.7,243.7 591.1,244.2 591.5,244.1 591.9,244.4 592.3,244.0 592.7,244.2 593.1,243.7 593.5,243.5 593.9,243.9 594.3,242.9 594.7,244.1 595.1,244.3 595.5,244.0 595.9,243.9 596.3,244.4 596.7,243.9 597.1,244.3 597.5,244.8 597.9,244.3 598.3,244.3 598.7,244.2 599.1,244.1 599.5,244.1 599.9,244.0 600.3,244.4 600.7,243.4 601.1,243.9 601.5,244.3 601.9,243.7 602.3,244.0 602.7,243.8 603.1,244.2 603.5,244.4 603.9,244.6 604.3,244.3 604.7,243.8 605.1,244.2 605.5,244.3 605.9,244.7 606.3,243.3 606.7,244.3 607.1,243.4 607.5,244.4 608.0,244.3 608.4,244.4 608.8,244.5 609.2,244.3 609.6,243.9 610.0,244.3 610.4,244.7 610.8,244.2 611.2,244.2 611.6,243.8 612.0,244.7 612.4,244.1 612.8,244.0 613.2,244.1 613.6,244.0 614.0,244.2 614.4,244.8 614.8,244.6 615.2,244.9 615.6,244.9 616.0,244.0 616.4,244.5 616.8,244.9 617.2,245.3 617.6,243.8 618.0,243.8 618.4,244.6 618.8,244.3 619.2,244.0 619.6,244.6 620.0,244.1 620.4,243.6 620.8,244.5 621.2,244.5 621.6,244.7 622.0,244.9 622.4,244.6 622.8,244.4 623.2,244.3 623.6,243.9 624.0,244.4 624.4,244.9 624.8,244.8 625.2,245.4 625.6,244.5 626.0,243.9 626.4,244.9 626.9,245.0 627.3,244.2 627.7,244.0 628.1,244.7 628.5,244.9 628.9,244.3 629.3,244.6 629.7,244.4 630.1,244.3 630.5,244.2 630.9,244.8 631.3,244.6 631.7,244.5 632.1,243.8 632.5,245.4 632.9,244.4 633.3,244.8 633.7,244.4 634.1,245.0 634.5,244.3 634.9,244.9 635.3,244.8 635.7,245.2 636.1,244.5 636.5,244.7 636.9,244.8 637.3,245.7 637.7,244.4 638.1,245.1 638.5,244.7 638.9,245.1 639.3,245.2 639.7,245.1 640.1,245.1 640.5,245.1 640.9,244.8 641.3,245.0 641.7,244.4 642.1,244.9 642.5,244.8 642.9,245.0 643.3,245.4 643.7,245.3 644.1,245.3 644.5,245.6 644.9,244.3 645.3,245.3 645.8,245.2 646.2,245.2 646.6,244.7 647.0,245.4 647.4,245.7 647.8,245.6 648.2,245.2 648.6,245.5 649.0,245.6 649.4,246.0 649.8,245.8 650.2,245.4 650.6,245.4 651.0,245.4 651.4,245.4 651.8,245.2 652.2,245.7 652.6,245.1 653.0,245.1 653.4,245.5 653.8,245.2 654.2,245.3 654.6,244.7 655.0,245.8 655.4,245.5 655.8,245.4 656.2,245.7 656.6,245.6 657.0,245.3 657.4,246.3 657.8,245.4 658.2,245.9 658.6,246.2 659.0,245.4 659.4,245.6 659.8,245.3 660.2,246.0 660.6,245.5 661.0,245.2 661.4,246.1 661.8,246.0 662.2,245.4 662.6,246.1 663.0,245.8 663.4,246.7 663.8,246.4 664.3,245.5 664.7,245.7 665.1,245.4 665.5,245.8 665.9,245.8 666.3,246.1 666.7,245.8 667.1,245.3 667.5,245.5 667.9,246.4 668.3,246.3 668.7,245.8 669.1,245.8 669.5,245.8 669.9,245.9 670.3,245.3 670.7,246.3 671.1,245.7 671.5,246.0 671.9,245.0 672.3,246.1 672.7,246.5 673.1,245.2 673.5,246.6"/>
<polyline points="392.0,411.7 392.4,411.2 392.8,410.8 393.2,411.8 393.6,411.4 394.0,411.5 394.4,411.1 394.8,410.9 395.2,411.5 395.6,410.7 396.0,411.4 396.4,410.3 396.8,410.6 397.2,410.3 397.6,411.4 398.0,410.1 398.4,410.3 398.8,410.9 399.2,410.7 399.6,411.4 400.0,411.2 400.4,410.7 400.8,410.6 401.2,409.5 401.7,409.9 402.1,410.0 402.5,410.0 402.9,409.4 403.3,409.5 403.7,409.5 404.1,410.2 404.5,409.8 404.9,409.4 405.3,409.4 405.7,409.5 406.1,409.0 406.5,409.1 406.9,408.4 407.3,409.3 407.7,409.3 408.1,409.0 408.5,408.9 408.9,408.8 409.3,409.4 409.7,408.5 410.1,407.7 410.5,407.7 410.9,408.4 411.3,408.4 411.7,408.2 412.1,408.1 412.5,407.7 412.9,406.8 413.3,407.1 413.7,406.4 414.1,406.9 414.5,406.4 414.9,406.9 415.3,406.6 415.7,405.7 416.1,406.8 416.5,406.7 416.9,405.5 417.3,406.1 417.7,406.2 418.1,405.6 418.5,406.0 418.9,405.6 419.3,405.8 419.7,405.3 420.1,404.9 420.6,405.1 421.0,405.1 421.4,404.7 421.8,404.2 422.2,403.9 422.6,403.9 423.0,403.7 423.4,403.9 423.8,403.7 424.2,403.5 424.6,403.3 425.0,403.3 425.4,403.8 425.8,403.5 426.2,402.4 426.6,402.8 427.0,402.3 427.4,402.2 427.8,402.0 428.2,401.6 428.6,401.1 429.0,400.4 429.4,401.6 429.8,402.0 430.2,400.7 430.6,401.3 431.0,400.7 431.4,400.9 431.8,400.2 432.2,400.4 432.6,400.3 433.0,399.0 433.4,400.2 433.8,399.9 434.2,398.5 434.6,400.0 435.0,399.5 435.4,399.5 435.8,399.5 436.2,398.9 436.6,398.5 437.0,398.7 437.4,398.6 437.8,399.9 438.2,399.6 438.6,398.2 439.1,398.1 439.5,398.4 439.9,398.5 440.3,397.7 440.7,397.4 441.1,398.9 441.5,398.4 441.9,396.9 442.3,396.7 442.7,397.1 443.1,397.6 443.5,397.8 443.9,397.2 444.3,396.5 444.7,397.4 445.1,397.6 445.5,397.2 445.9,396.9 446.3,397.4 446.7,397.0 447.1,396.4 447.5,397.1 447.9,396.3 448.3,397.5 448.7,397.2 449.1,396.4 449.5,397.1 449.9,397.6 450.3,395.8 450.7,396.9 451.1,397.9 451.5,396.1 451.9,396.9 452.3,396.2 452.7,397.0 453.1,395.8 453.5,396.2 453.9,396.9 454.3,397.3 454.7,397.4 455.1,397.5 455.5,398.0 455.9,397.8 456.3,397.8 456.7,397.0 457.1,397.5 457.5,399.4 458.0,398.9 458.4,398.2 458.8,398.2 459.2,398.5 459.6,397.8 460.0,399.1 460.4,398.0 460.8,398.2 461.2,399.5 461.6,397.3 462.0,398.7 462.4,397.7 462.8,398.4 463.2,398.8 463.6,398.8 464.0,399.2 464.4,398.8 464.8,399.2 465.2,398.8 465.6,399.3 466.0,398.9 466.4,400.1 466.8,399.2 467.2,400.4 467.6,399.9 468.0,400.1 468.4,401.0 468.8,400.6 469.2,399.6 469.6,401.0 470.0,399.4 470.4,401.2 470.8,401.0 471.2,400.6 471.6,401.5 472.0,401.4 472.4,402.7 472.8,401.6 473.2,402.9 473.6,402.8 474.0,401.9 474.4,401.9 474.8,403.2 475.2,402.5 475.6,402.8 476.0,402.7 476.4,402.4 476.9,402.9 477.3,402.8 477.7,402.6 478.1,403.3 478.5,404.5 478.9,404.5 479.3,403.8 479.7,404.0 480.1,404.3 480.5,404.8 480.9,404.4 481.3,404.1 481.7,404.2 482.1,405.0 482.5,405.8 482.9,404.2 483.3,403.6 483.7,405.0 484.1,404.5 484.5,404.6 484.9,405.0 485.3,404.3 485.7,403.4 486.1,402.8 486.5,403.2 486.9,401.9 487.3,401.1 487.7,396.9 488.1,390.5 488.5,376.3 488.9,355.2 489.3,325.7 489.7,296.0 490.1,278.1 490.5,282.0 490.9,306.8 491.3,340.5 491.7,366.4 492.1,385.1 492.5,395.6 492.9,401.4 493.3,403.8 493.7,405.0 494.1,405.9 494.5,405.7 494.9,406.3 495.4,406.9 495.8,407.4 496.2,407.6 496.6,408.0 497.0,408.1 497.4,408.1 497.8,407.7 498.2,409.0 498.6,409.0 499.0,408.5 499.4,409.2 499.8,409.3 500.2,409.2 500.6,408.5 501.0,408.9 501.4,409.2 501.8,410.3 502.2,409.3 502.6,409.6 503.0,409.3 503.4,409.7 503.8,410.1 504.2,409.1 504.6,408.9 505.0,410.4 505.4,410.2 505.8,410.0 506.2,410.7 506.6,410.8 507.0,409.5 507.4,410.4 507.8,411.0 508.2,410.3 508.6,410.5 509.0,411.0 509.4,410.6 509.8,410.2 510.2,410.5 510.6,410.2 511.0,411.1 511.4,410.1 511.8,411.3 512.2,410.2 512.6,411.0 513.0,410.4 513.4,410.9 513.8,411.4 514.3,411.5 514.7,411.6 515.1,411.1 515.5,411.2 515.9,411.2 516.3,411.4 516.7,411.0 517.1,411.6 517.5,411.3 517.9,411.7 518.3,411.4 518.7,411.5 519.1,411.0 519.5,411.1 519.9,410.8 520.3,411.2 520.7,411.2 521.1,411.7 521.5,410.8 521.9,412.7 522.3,411.3 522.7,411.9 523.1,411.8 523.5,410.3 523.9,411.3 524.3,412.0 524.7,410.4 525.1,411.7 525.5,411.0 525.9,411.2 526.3,411.5 526.7,410.6 527.1,411.5 527.5,411.2 527.9,411.1 528.3,411.7 528.7,412.9 529.1,411.6 529.5,411.7 529.9,411.4 530.3,411.1 530.7,411.6 531.1,412.1 531.5,411.5 531.9,411.8 532.3,411.4 532.7,412.5 533.2,410.8 533.6,411.7 534.0,411.7 534.4,411.6 534.8,411.0 535.2,411.0 535.6,411.4 536.0,411.5 536.4,411.0 536.8,411.0 537.2,411.7 537.6,411.9 538.0,411.2 538.4,411.2 538.8,411.2 539.2,412.5 539.6,411.7 540.0,411.4 540.4,411.9 540.8,412.4 541.2,411.9 541.6,410.9 542.0,411.4 542.4,411.3 542.8,411.3 543.2,411.0 543.6,411.3 544.0,411.0 544.4,411.6 544.8,411.5 545.2,410.9 545.6,410.8 546.0,411.3 546.4,411.7 546.8,411.7 547.2,411.4 547.6,410.1 548.0,411.3 548.4,411.2 548.8,411.3 549.2,411.0 549.6,411.3 550.0,411.2 550.4,412.6 550.8,411.8 551.2,411.4 551.7,411.5 552.1,411.4 552.5,411.6 552.9,411.3 553.3,411.5 553.7,411.9 554.1,411.8 554.5,411.6 554.9,412.0 555.3,411.6 555.7,411.1 556.1,410.8 556.5,411.2 556.9,411.5 557.3,411.6 557.7,411.9 558.1,411.2 558.5,411.1 558.9,411.8 559.3,412.0 559.7,411.3 560.1,411.6 560.5,412.0 560.9,411.6 561.3,411.5 561.7,410.6 562.1,412.0 562.5,411.7 562.9,411.5 563.3,411.3 563.7,411.0 564.1,411.4 564.5,411.4 564.9,411.9 565.3,411.0 565.7,412.1 566.1,411.5 566.5,412.0 566.9,411.1 567.3,411.6 567.7,412.0 568.1,411.5 568.5,410.9 568.9,411.3 569.3,411.7 569.7,410.9 570.1,410.9 570.6,411.6 571.0,411.1 571.4,411.8 571.8,411.0 572.2,410.7 572.6,411.2 573.0,412.1 573.4,411.1 573.8,411.5 574.2,411.6 574.6,411.1 575.0,411.9 575.4,411.6 575.8,411.7 576.2,410.8 576.6,410.8 577.0,410.3 577.4,411.4 577.8,411.4 578.2,411.8 578.6,412.1 579.0,411.4 579.4,411.4 579.8,411.7 580.2,412.1 580.6,411.1 581.0,411.7 581.4,411.4 581.8,411.3 582.2,411.8 582.6,411.2 583.0,411.0 583.4,411.8 583.8,411.5 584.2,411.4 584.6,411.4 585.0,411.7 585.4,411.3 585.8,411.8 586.2,411.7 586.6,412.1 587.0,412.0 587.4,411.8 587.8,411.4 588.2,411.5 588.6,411.2 589.0,412.7 589.5,411.4 589.9,411.7 590.3,412.0 590.7,410.9 591.1,411.1 591.5,411.3 591.9,411.1 592.3,411.0 592.7,411.3 593.1,412.0 593.5,411.8 593.9,411.5 594.3,411.5 594.7,410.8 595.1,411.8 595.5,411.7 595.9,411.0 596.3,411.6 596.7,411.4 597.1,411.3 597.5,411.1 597.9,411.2 598.3,411.1 598.7,411.7 599.1,411.6 599.5,411.6 599.9,411.4 600.3,411.3 600.7,412.3 601.1,410.7 601.5,412.0 601.9,411.6 602.3,411.5 602.7,411.3 603.1,411.4 603.5,411.0 603.9,410.9 604.3,411.5 604.7,410.8 605.1,411.9 605.5,412.0 605.9,410.1 606.3,410.9 606.7,411.6 607.1,411.6 607.5,411.6 608.0,411.7 608.4,411.9 608.8,411.9 609.2,412.3 609.6,411.6 610.0,411.9 610.4,410.9 610.8,411.5 611.2,411.1 611.6,412.2 612.0,412.6 612.4,411.8 612.8,411.1 613.2,411.6 613.6,411.7 614.0,411.7 614.4,412.1 614.8,412.1 615.2,410.6 615.6,412.2 616.0,411.5 616.4,411.5 616.8,412.3 617.2,411.6 617.6,411.2 618.0,411.2 618.4,411.8 618.8,412.1 619.2,412.4 619.6,411.7 620.0,411.6 620.4,412.5 620.8,411.6 621.2,412.4 621.6,411.9 622.0,412.0 622.4,411.8 622.8,412.0 623.2,411.7 623.6,411.6 624.0,411.9 624.4,411.7 624.8,412.1 625.2,412.0 625.6,411.9 626.0,411.9 626.4,411.9 626.9,412.7 627.3,412.0 627.7,411.8 628.1,412.0 628.5,412.4 628.9,412.0 629.3,412.1 629.7,412.0 630.1,412.2 630.5,412.3 630.9,412.4 631.3,411.5 631.7,411.8 632.1,411.2 632.5,412.6 632.9,412.7 633.3,412.8 633.7,412.3 634.1,412.8 634.5,412.3 634.9,412.3 635.3,411.7 635.7,412.0 636.1,412.1 636.5,412.7 636.9,413.1 637.3,412.2 637.7,412.6 638.1,412.5 638.5,412.1 638.9,411.7 639.3,412.1 639.7,411.8 640.1,412.2 640.5,412.2 640.9,412.1 641.3,411.9 641.7,412.0 642.1,411.1 642.5,411.6 642.9,410.5 643.3,411.3 643.7,411.7 644.1,411.6 644.5,411.5 644.9,412.6 645.3,412.2 645.8,412.9 646.2,413.0 646.6,412.7 647.0,412.8 647.4,413.2 647.8,413.0 648.2,412.5 648.6,413.0 649.0,413.1 649.4,413.0 649.8,413.0 650.2,412.9 650.6,413.0 651.0,412.7 651.4,412.5 651.8,413.5 652.2,412.8 652.6,413.2 653.0,412.6 653.4,413.2 653.8,412.9 654.2,414.3 654.6,412.8 655.0,412.9 655.4,413.6 655.8,413.7 656.2,412.5 656.6,413.4 657.0,413.7 657.4,412.9 657.8,413.6 658.2,413.2 658.6,413.0 659.0,413.3 659.4,413.3 659.8,412.9 660.2,414.3 660.6,413.3 661.0,413.2 661.4,413.8 661.8,413.5 662.2,414.1 662.6,413.5 663.0,413.7 663.4,413.6 663.8,413.7 664.3,413.6 664.7,413.6 665.1,414.3 665.5,413.4 665.9,413.5 666.3,413.6 666.7,414.0 667.1,413.9 667.5,414.1 667.9,413.3 668.3,413.9 668.7,413.7 669.1,413.7 669.5,413.9 669.9,413.1 670.3,414.0 670.7,413.9 671.1,413.4 671.5,413.9 671.9,414.5 672.3,413.8 672.7,414.2 673.1,413.9 673.5,413.7"/>
<polyline points="392.0,514.0 392.4,514.2 392.8,514.9 393.2,514.6 393.6,514.0 394.0,514.7 394.4,514.1 394.8,513.9 395.2,514.3 395.6,513.7 396.0,513.4 396.4,514.6 396.8,513.2 397.2,514.1 397.6,513.2 398.0,513.8 398.4,513.7 398.8,513.5 399.2,512.7 399.6,513.6 400.0,513.6 400.4,513.1 400.8,513.4 401.2,513.8 401.7,513.0 402.1,513.4 402.5,512.7 402.9,513.3 403.3,513.4 403.7,514.1 404.1,513.4 404.5,513.1 404.9,513.4 405.3,512.3 405.7,513.1 406.1,512.4 406.5,512.2 406.9,512.9 407.3,512.5 407.7,512.9 408.1,511.5 408.5,512.2 408.9,511.8 409.3,511.8 409.7,511.0 410.1,512.1 410.5,511.7 410.9,511.1 411.3,510.8 411.7,510.9 412.1,511.9 412.5,511.1 412.9,510.8 413.3,511.1 413.7,510.8 414.1,510.8 414.5,510.9 414.9,510.6 415.3,510.7 415.7,509.6 416.1,510.1 416.5,509.8 416.9,509.9 417.3,509.7 417.7,509.3 418.1,509.3 418.5,509.8 418.9,508.9 419.3,508.5 419.7,509.2 420.1,509.2 420.6,508.5 421.0,508.6 421.4,508.0 421.8,508.1 422.2,508.6 422.6,508.3 423.0,507.9 423.4,507.5 423.8,506.7 424.2,507.5 424.6,507.4 425.0,507.6 425.4,507.9 425.8,507.0 426.2,507.1 426.6,505.9 427.0,506.9 427.4,506.6 427.8,506.7 428.2,506.2 428.6,506.0 429.0,506.3 429.4,505.1 429.8,505.6 430.2,505.7 430.6,504.6 431.0,504.3 431.4,504.9 431.8,504.6 432.2,504.7 432.6,504.6 433.0,503.7 433.4,504.2 433.8,504.5 434.2,503.5 434.6,503.4 435.0,502.9 435.4,503.8 435.8,504.2 436.2,502.3 436.6,503.3 437.0,503.3 437.4,502.4 437.8,502.4 438.2,501.9 438.6,501.9 439.1,502.3 439.5,502.5 439.9,502.1 440.3,502.4 440.7,501.9 441.1,501.1 441.5,502.4 441.9,502.2 442.3,501.0 442.7,502.3 443.1,501.5 443.5,501.3 443.9,502.2 444.3,499.7 444.7,500.1 445.1,501.3 445.5,500.7 445.9,500.3 446.3,501.6 446.7,501.0 447.1,499.9 447.5,500.2 447.9,501.0 448.3,501.5 448.7,499.4 449.1,500.6 449.5,500.2 449.9,499.5 450.3,500.3 450.7,499.5 451.1,500.1 451.5,501.3 451.9,500.7 452.3,500.8 452.7,500.7 453.1,500.6 453.5,501.0 453.9,499.8 454.3,500.3 454.7,501.0 455.1,500.1 455.5,500.3 455.9,501.3 456.3,501.5 456.7,500.4 457.1,500.3 457.5,501.1 458.0,501.0 458.4,500.5 458.8,501.3 459.2,501.3 459.6,501.1 460.0,502.8 460.4,502.0 460.8,501.8 461.2,501.9 461.6,503.1 462.0,502.2 462.4,501.2 462.8,501.9 463.2,501.9 463.6,501.6 464.0,502.2 464.4,502.2 464.8,502.2 465.2,502.1 465.6,502.9 466.0,501.7 466.4,503.1 466.8,502.8 467.2,503.0 467.6,501.7 468.0,504.0 468.4,502.3 468.8,502.9 469.2,503.8 469.6,503.3 470.0,503.5 470.4,502.6 470.8,503.7 471.2,504.2 471.6,504.6 472.0,504.2 472.4,504.6 472.8,504.8 473.2,504.4 473.6,504.5 474.0,506.0 474.4,504.7 474.8,505.9 475.2,505.4 475.6,506.3 476.0,505.3 476.4,506.0 476.9,506.1 477.3,505.9 477.7,506.3 478.1,505.9 478.5,506.4 478.9,506.3 479.3,507.0 479.7,506.7 480.1,506.2 480.5,506.8 480.9,507.0 481.3,506.8 481.7,508.0 482.1,507.6 482.5,507.9 482.9,507.2 483.3,507.4 483.7,508.1 484.1,507.0 484.5,507.9 484.9,507.7 485.3,507.4 485.7,507.6 486.1,506.8 486.5,507.2 486.9,505.9 487.3,504.9 487.7,504.1 488.1,498.3 488.5,488.2 488.9,475.4 489.3,454.0 489.7,431.1 490.1,421.2 490.5,425.5 490.9,442.4 491.3,465.0 491.7,482.1 492.1,495.3 492.5,501.7 492.9,506.0 493.3,508.5 493.7,508.9 494.1,509.4 494.5,508.8 494.9,509.9 495.4,509.7 495.8,510.8 496.2,510.1 496.6,510.6 497.0,509.8 497.4,511.1 497.8,509.8 498.2,510.8 498.6,512.3 499.0,511.7 499.4,511.5 499.8,512.4 500.2,512.7 500.6,512.8 501.0,511.6 501.4,512.7 501.8,511.8 502.2,513.6 502.6,512.9 503.0,512.8 503.4,513.3 503.8,513.3 504.2,512.7 504.6,513.9 505.0,513.2 505.4,512.6 505.8,514.0 506.2,514.1 506.6,514.1 507.0,513.8 507.4,513.2 507.8,514.1 508.2,514.5 508.6,514.1 509.0,514.5 509.4,513.5 509.8,514.3 510.2,514.3 510.6,513.3 511.0,513.3 511.4,513.7 511.8,514.1 512.2,514.3 512.6,514.0 513.0,514.1 513.4,514.1 513.8,514.2 514.3,514.5 514.7,514.4 515.1,514.2 515.5,514.4 515.9,514.1 516.3,514.7 516.7,514.1 517.1,515.0 517.5,514.4 517.9,514.5 518.3,514.1 518.7,514.3 519.1,514.5 519.5,514.4 519.9,514.2 520.3,513.9 520.7,514.5 521.1,514.5 521.5,514.7 521.9,515.0 522.3,514.3 522.7,513.6 523.1,514.4 523.5,513.7 523.9,513.9 524.3,514.9 524.7,514.7 525.1,514.2 525.5,514.2 525.9,514.5 526.3,513.8 526.7,514.7 527.1,514.4 527.5,515.3 527.9,514.1 528.3,514.9 528.7,514.2 529.1,514.9 529.5,514.1 529.9,514.8 530.3,514.3 530.7,514.1 531.1,514.4 531.5,514.7 531.9,514.6 532.3,515.1 532.7,514.8 533.2,513.4 533.6,514.3 534.0,513.6 534.4,514.3 534.8,514.7 535.2,513.9 535.6,513.9 536.0,514.5 536.4,514.3 536.8,515.1 537.2,514.6 537.6,514.7 538.0,515.2 538.4,514.2 538.8,514.4 539.2,514.0 539.6,514.5 540.0,514.9 540.4,515.0 540.8,514.4 541.2,514.1 541.6,514.1 542.0,513.8 542.4,514.5 542.8,515.0 543.2,513.4 543.6,513.5 544.0,515.0 544.4,513.7 544.8,514.6 545.2,513.9 545.6,514.7 546.0,514.7 546.4,514.5 546.8,514.8 547.2,514.4 547.6,514.7 548.0,515.2 548.4,514.9 548.8,514.1 549.2,514.1 549.6,514.3 550.0,514.3 550.4,514.5 550.8,514.2 551.2,514.7 551.7,514.4 552.1,514.6 552.5,514.4 552.9,514.7 553.3,513.9 553.7,515.1 554.1,514.6 554.5,514.6 554.9,514.7 555.3,514.9 555.7,514.7 556.1,514.5 556.5,514.4 556.9,513.7 557.3,514.5 557.7,514.3 558.1,514.3 558.5,515.5 558.9,513.6 559.3,514.5 559.7,514.9 560.1,514.8 560.5,515.0 560.9,513.9 561.3,514.0 561.7,514.7 562.1,514.3 562.5,515.2 562.9,514.5 563.3,514.5 563.7,514.6 564.1,514.3 564.5,514.5 564.9,514.1 565.3,514.4 565.7,514.2 566.1,514.5 566.5,513.8 566.9,513.8 567.3,514.6 567.7,514.5 568.1,514.0 568.5,514.3 568.9,514.0 569.3,515.3 569.7,513.8 570.1,515.2 570.6,514.1 571.0,514.6 571.4,514.3 571.8,514.3 572.2,514.8 572.6,514.8 573.0,514.3 573.4,514.0 573.8,515.3 574.2,515.0 574.6,514.5 575.0,514.3 575.4,514.6 575.8,514.5 576.2,514.9 576.6,514.0 577.0,514.4 577.4,514.1 577.8,515.0 578.2,515.2 578.6,514.4 579.0,514.7 579.4,515.0 579.8,514.3 580.2,514.0 580.6,514.9 581.0,514.6 581.4,514.3 581.8,515.1 582.2,514.5 582.6,513.7 583.0,514.6 583.4,514.4 583.8,515.2 584.2,514.4 584.6,514.3 585.0,514.6 585.4,514.5 585.8,513.8 586.2,514.5 586.6,514.3 587.0,515.0 587.4,515.5 587.8,514.0 588.2,514.0 588.6,514.1 589.0,514.2 589.5,514.1 589.9,514.5 590.3,514.9 590.7,513.9 591.1,513.8 591.5,513.6 591.9,514.9 592.3,515.0 592.7,513.8 593.1,513.7 593.5,514.5 593.9,514.9 594.3,514.9 594.7,514.5 595.1,514.7 595.5,514.6 595.9,514.2 596.3,515.2 596.7,514.4 597.1,513.9 597.5,514.2 597.9,513.8 598.3,514.4 598.7,514.9 599.1,513.9 599.5,514.9 599.9,515.3 600.3,514.5 600.7,513.9 601.1,514.0 601.5,514.2 601.9,513.7 602.3,513.6 602.7,513.9 603.1,513.8 603.5,513.9 603.9,513.0 604.3,514.3 604.7,514.0 605.1,514.1 605.5,513.6 605.9,514.8 606.3,514.0 606.7,515.1 607.1,514.8 607.5,514.0 608.0,514.2 608.4,515.3 608.8,514.9 609.2,514.4 609.6,514.6 610.0,514.6 610.4,514.2 610.8,514.5 611.2,514.3 611.6,514.4 612.0,514.8 612.4,514.2 612.8,514.9 613.2,514.7 613.6,515.0 614.0,515.0 614.4,515.2 614.8,515.0 615.2,515.0 615.6,514.6 616.0,515.0 616.4,514.4 616.8,514.7 617.2,515.1 617.6,514.8 618.0,515.0 618.4,514.4 618.8,515.4 619.2,514.6 619.6,515.0 620.0,514.9 620.4,515.3 620.8,514.8 621.2,514.5 621.6,514.2 622.0,514.9 622.4,514.5 622.8,515.2 623.2,515.6 623.6,514.1 624.0,514.5 624.4,515.2 624.8,515.6 625.2,515.3 625.6,515.3 626.0,515.4 626.4,515.4 626.9,515.9 627.3,515.5 627.7,514.7 628.1,515.1 628.5,515.4 628.9,515.0 629.3,515.2 629.7,515.1 630.1,515.1 630.5,515.7 630.9,515.3 631.3,515.0 631.7,515.2 632.1,515.5 632.5,516.4 632.9,515.7 633.3,516.2 633.7,515.8 634.1,514.7 634.5,515.8 634.9,515.3 635.3,515.1 635.7,515.3 636.1,516.5 636.5,515.1 636.9,515.5 637.3,516.3 637.7,516.1 638.1,515.1 638.5,515.8 638.9,515.6 639.3,515.8 639.7,516.2 640.1,515.6 640.5,515.7 640.9,516.4 641.3,514.9 641.7,515.4 642.1,515.6 642.5,514.7 642.9,514.9 643.3,514.7 643.7,515.5 644.1,515.4 644.5,516.2 644.9,516.4 645.3,516.1 645.8,516.1 646.2,516.4 646.6,516.4 647.0,515.9 647.4,516.8 647.8,516.5 648.2,516.8 648.6,516.0 649.0,516.9 649.4,517.4 649.8,516.8 650.2,516.0 650.6,516.7 651.0,516.7 651.4,516.8 651.8,516.6 652.2,517.0 652.6,516.6 653.0,516.9 653.4,516.6 653.8,516.9 654.2,517.3 654.6,516.7 655.0,517.2 655.4,516.6 655.8,516.9 656.2,516.9 656.6,517.6 657.0,516.8 657.4,517.6 657.8,516.6 658.2,517.1 658.6,517.5 659.0,517.5 659.4,516.8 659.8,516.8 660.2,517.6 660.6,516.8 661.0,517.6 661.4,517.2 661.8,517.4 662.2,518.3 662.6,518.0 663.0,517.8 663.4,516.9 663.8,517.6 664.3,517.6 664.7,517.5 665.1,518.1 665.5,516.9 665.9,517.7 666.3,517.7 666.7,517.4 667.1,518.4 667.5,517.2 667.9,517.7 668.3,517.8 668.7,516.9 669.1,517.3 669.5,517.5 669.9,518.2 670.3,518.2 670.7,518.1 671.1,518.0 671.5,517.1 671.9,518.0 672.3,517.8 672.7,518.4 673.1,518.5 673.5,518.9"/>
<polyline points="392.0,573.3 392.4,573.3 392.8,572.5 393.2,572.9 393.6,572.3 394.0,573.2 394.4,572.3 394.8,572.6 395.2,572.3 395.6,572.4 396.0,572.8 396.4,572.3 396.8,572.5 397.2,572.0 397.6,572.9 398.0,572.0 398.4,572.6 398.8,573.1 399.2,571.0 399.6,571.6 400.0,571.9 400.4,572.4 400.8,571.6 401.2,571.9 401.7,571.3 402.1,571.8 402.5,571.0 402.9,571.8 403.3,570.0 403.7,570.4 404.1,572.0 404.5,571.1 404.9,570.6 405.3,571.9 405.7,571.3 406.1,571.2 406.5,570.4 406.9,570.8 407.3,570.6 407.7,569.6 408.1,570.5 408.5,570.0 408.9,570.6 409.3,570.5 409.7,569.5 410.1,569.4 410.5,569.6 410.9,569.7 411.3,569.1 411.7,569.1 412.1,569.3 412.5,569.1 412.9,569.3 413.3,568.8 413.7,568.1 414.1,567.6 414.5,568.7 414.9,568.0 415.3,567.8 415.7,567.7 416.1,567.0 416.5,567.4 416.9,566.2 417.3,567.1 417.7,566.7 418.1,567.9 418.5,567.1 418.9,566.6 419.3,566.6 419.7,566.8 420.1,565.9 420.6,566.0 421.0,565.8 421.4,567.0 421.8,565.7 422.2,564.5 422.6,565.7 423.0,566.5 423.4,564.5 423.8,566.6 424.2,564.6 424.6,565.0 425.0,564.1 425.4,564.1 425.8,563.4 426.2,563.3 426.6,562.6 427.0,564.2 427.4,562.8 427.8,563.4 428.2,563.3 428.6,562.6 429.0,562.8 429.4,562.6 429.8,562.2 430.2,562.3 430.6,562.2 431.0,561.5 431.4,561.1 431.8,561.2 432.2,561.6 432.6,562.2 433.0,562.1 433.4,561.3 433.8,561.5 434.2,560.9 434.6,561.3 435.0,560.7 435.4,560.7 435.8,560.2 436.2,560.2 436.6,561.1 437.0,559.3 437.4,559.8 437.8,559.4 438.2,560.1 438.6,560.5 439.1,559.2 439.5,557.7 439.9,559.5 440.3,559.4 440.7,558.0 441.1,558.7 441.5,558.8 441.9,557.4 442.3,559.0 442.7,558.8 443.1,558.6 443.5,557.8 443.9,557.9 444.3,557.9 444.7,558.5 445.1,557.6 445.5,559.0 445.9,558.3 446.3,556.7 446.7,559.0 447.1,558.0 447.5,557.6 447.9,557.9 448.3,556.8 448.7,558.0 449.1,556.4 449.5,557.2 449.9,558.6 450.3,558.6 450.7,557.6 451.1,557.2 451.5,558.4 451.9,557.8 452.3,558.0 452.7,558.2 453.1,557.3 453.5,558.4 453.9,556.7 454.3,558.9 454.7,557.1 455.1,557.7 455.5,557.7 455.9,558.6 456.3,558.6 456.7,558.5 457.1,558.6 457.5,558.7 458.0,558.4 458.4,557.4 458.8,557.2 459.2,557.3 459.6,558.7 460.0,558.7 460.4,558.8 460.8,559.1 461.2,558.9 461.6,558.6 462.0,558.4 462.4,558.2 462.8,560.1 463.2,560.1 463.6,558.8 464.0,559.6 464.4,560.1 464.8,560.9 465.2,559.7 465.6,560.3 466.0,560.9 466.4,559.4 466.8,560.1 467.2,560.6 467.6,560.3 468.0,562.1 468.4,561.5 468.8,561.2 469.2,560.7 469.6,561.9 470.0,561.9 470.4,561.3 470.8,561.5 471.2,561.1 471.6,562.0 472.0,562.6 472.4,562.8 472.8,562.7 473.2,563.0 473.6,562.4 474.0,562.6 474.4,563.6 474.8,563.3 475.2,562.8 475.6,563.6 476.0,563.9 476.4,564.0 476.9,563.8 477.3,563.6 477.7,564.2 478.1,565.0 478.5,564.3 478.9,564.0 479.3,564.7 479.7,564.0 480.1,564.9 480.5,564.7 480.9,565.5 481.3,565.2 481.7,565.8 482.1,566.5 482.5,565.3 482.9,565.1 483.3,565.9 483.7,565.7 484.1,565.9 484.5,565.5 484.9,566.2 485.3,566.0 485.7,564.8 486.1,565.8 486.5,566.0 486.9,566.3 487.3,564.9 487.7,563.8 488.1,562.7 488.5,557.4 488.9,550.8 489.3,541.5 489.7,531.9 490.1,525.4 490.5,526.2 490.9,536.2 491.3,545.5 491.7,554.3 492.1,561.9 492.5,564.8 492.9,565.6 493.3,566.8 493.7,567.4 494.1,567.5 494.5,567.2 494.9,568.7 495.4,568.9 495.8,568.8 496.2,568.7 496.6,569.1 497.0,569.4 497.4,568.7 497.8,569.2 498.2,569.2 498.6,569.8 499.0,569.7 499.4,569.1 499.8,569.5 500.2,570.7 500.6,569.5 501.0,570.1 501.4,569.8 501.8,570.7 502.2,570.2 502.6,570.1 503.0,569.8 503.4,570.3 503.8,570.9 504.2,570.8 504.6,570.0 505.0,571.4 505.4,570.6 505.8,570.3 506.2,570.9 506.6,570.6 507.0,570.6 507.4,570.7 507.8,571.0 508.2,570.8 508.6,570.3 509.0,571.4 509.4,570.9 509.8,571.7 510.2,571.5 510.6,571.6 511.0,571.4 511.4,571.9 511.8,571.3 512.2,571.0 512.6,571.6 513.0,570.3 513.4,571.4 513.8,571.7 514.3,571.4 514.7,572.2 515.1,572.0 515.5,571.7 515.9,571.5 516.3,572.2 516.7,571.5 517.1,571.6 517.5,572.2 517.9,572.1 518.3,572.8 518.7,571.8 519.1,571.1 519.5,572.2 519.9,572.5 520.3,571.9 520.7,572.7 521.1,572.8 521.5,571.8 521.9,571.9 522.3,571.5 522.7,572.3 523.1,572.4 523.5,572.4 523.9,571.6 524.3,571.8 524.7,571.6 525.1,571.5 525.5,571.6 525.9,571.5 526.3,572.2 526.7,572.4 527.1,572.6 527.5,572.3 527.9,572.0 528.3,572.3 528.7,572.6 529.1,572.2 529.5,572.4 529.9,572.2 530.3,572.2 530.7,572.4 531.1,571.9 531.5,572.9 531.9,571.7 532.3,572.6 532.7,571.9 533.2,573.1 533.6,572.8 534.0,572.1 534.4,572.3 534.8,572.0 535.2,572.5 535.6,572.7 536.0,573.6 536.4,571.9 536.8,573.1 537.2,572.3 537.6,572.6 538.0,572.9 538.4,572.8 538.8,572.7 539.2,572.5 539.6,572.6 540.0,572.6 540.4,573.1 540.8,571.9 541.2,572.4 541.6,572.0 542.0,572.2 542.4,572.2 542.8,573.1 543.2,573.5 543.6,573.2 544.0,572.1 544.4,572.6 544.8,572.1 545.2,572.8 545.6,573.1 546.0,572.8 546.4,573.0 546.8,572.5 547.2,571.8 547.6,571.8 548.0,572.6 548.4,572.8 548.8,573.1 549.2,572.5 549.6,572.6 550.0,572.7 550.4,573.1 550.8,572.6 551.2,572.1 551.7,573.1 552.1,572.8 552.5,572.8 552.9,572.1 553.3,572.6 553.7,571.9 554.1,571.7 554.5,572.5 554.9,572.4 555.3,572.8 555.7,573.2 556.1,572.6 556.5,573.4 556.9,572.4 557.3,572.9 557.7,572.1 558.1,572.7 558.5,572.5 558.9,572.5 559.3,572.9 559.7,571.8 560.1,572.7 560.5,572.3 560.9,572.7 561.3,572.8 561.7,572.4 562.1,572.4 562.5,572.1 562.9,572.8 563.3,572.3 563.7,572.8 564.1,572.0 564.5,573.2 564.9,572.2 565.3,573.1 565.7,572.4 566.1,572.8 566.5,572.5 566.9,572.9 567.3,572.6 567.7,573.1 568.1,572.9 568.5,572.9 568.9,573.3 569.3,572.3 569.7,573.2 570.1,572.6 570.6,572.0 571.0,572.8 571.4,572.5 571.8,573.3 572.2,572.4 572.6,572.6 573.0,572.7 573.4,571.8 573.8,572.8 574.2,572.2 574.6,573.2 575.0,573.3 575.4,572.6 575.8,571.9 576.2,572.7 576.6,572.7 577.0,572.9 577.4,572.5 577.8,572.1 578.2,572.5 578.6,572.2 579.0,573.4 579.4,572.3 579.8,572.3 580.2,572.6 580.6,572.1 581.0,572.4 581.4,572.5 581.8,572.4 582.2,572.5 582.6,573.1 583.0,572.8 583.4,572.0 583.8,572.4 584.2,572.9 584.6,572.3 585.0,572.6 585.4,572.6 585.8,572.8 586.2,572.5 586.6,572.5 587.0,572.2 587.4,572.7 587.8,572.2 588.2,573.3 588.6,572.6 589.0,572.5 589.5,572.9 589.9,572.6 590.3,572.6 590.7,572.6 591.1,572.3 591.5,572.2 591.9,572.3 592.3,573.1 592.7,572.3 593.1,572.4 593.5,572.4 593.9,572.9 594.3,573.4 594.7,572.2 595.1,572.8 595.5,572.6 595.9,572.5 596.3,572.8 596.7,572.0 597.1,572.9 597.5,572.7 597.9,572.1 598.3,573.2 598.7,572.9 599.1,573.1 599.5,571.9 599.9,572.4 600.3,572.3 600.7,572.8 601.1,573.1 601.5,571.6 601.9,572.4 602.3,572.3 602.7,572.6 603.1,572.0 603.5,571.3 603.9,571.6 604.3,571.2 604.7,571.3 605.1,571.9 605.5,571.8 605.9,572.3 606.3,571.7 606.7,573.4 607.1,573.0 607.5,572.9 608.0,572.0 608.4,571.7 608.8,572.3 609.2,572.5 609.6,573.6 610.0,573.2 610.4,572.4 610.8,573.2 611.2,573.2 611.6,572.7 612.0,573.2 612.4,572.9 612.8,572.5 613.2,572.3 613.6,572.7 614.0,573.2 614.4,572.2 614.8,572.1 615.2,573.0 615.6,571.7 616.0,573.6 616.4,572.7 616.8,573.2 617.2,573.6 617.6,572.3 618.0,572.4 618.4,573.8 618.8,572.8 619.2,572.9 619.6,573.0 620.0,573.4 620.4,573.5 620.8,573.0 621.2,572.9 621.6,573.0 622.0,573.2 622.4,573.6 622.8,573.1 623.2,573.8 623.6,572.7 624.0,573.3 624.4,573.8 624.8,573.7 625.2,573.3 625.6,572.8 626.0,572.9 626.4,573.1 626.9,573.3 627.3,573.1 627.7,572.6 628.1,573.0 628.5,573.5 628.9,573.6 629.3,572.7 629.7,573.2 630.1,572.6 630.5,573.1 630.9,574.9 631.3,573.4 631.7,573.3 632.1,573.2 632.5,572.9 632.9,572.7 633.3,573.5 633.7,573.4 634.1,574.1 634.5,572.9 634.9,573.7 635.3,574.1 635.7,572.8 636.1,573.9 636.5,573.0 636.9,573.9 637.3,574.3 637.7,573.7 638.1,573.8 638.5,573.5 638.9,573.9 639.3,574.2 639.7,573.7 640.1,573.8 640.5,574.0 640.9,574.2 641.3,573.2 641.7,573.9 642.1,573.6 642.5,574.1 642.9,574.4 643.3,574.1 643.7,574.5 644.1,573.6 644.5,573.9 644.9,573.7 645.3,574.1 645.8,574.1 646.2,574.0 646.6,573.6 647.0,574.1 647.4,574.0 647.8,574.4 648.2,574.1 648.6,574.7 649.0,574.4 649.4,573.5 649.8,574.2 650.2,573.7 650.6,574.7 651.0,574.9 651.4,574.4 651.8,574.6 652.2,573.8 652.6,573.5 653.0,574.2 653.4,574.4 653.8,573.9 654.2,574.6 654.6,574.7 655.0,574.8 655.4,575.2 655.8,574.9 656.2,574.5 656.6,574.7 657.0,574.9 657.4,574.3 657.8,575.2 658.2,575.1 658.6,574.7 659.0,574.5 659.4,576.3 659.8,575.1 660.2,575.2 660.6,575.6 661.0,575.3 661.4,575.0 661.8,575.2 662.2,574.6 662.6,575.2 663.0,574.3 663.4,575.1 663.8,575.2 664.3,574.4 664.7,575.8 665.1,574.6 665.5,575.5 665.9,574.9 666.3,575.2 666.7,574.9 667.1,576.1 667.5,575.6 667.9,575.9 668.3,575.5 668.7,575.5 669.1,575.3 669.5,575.2 669.9,575.5 670.3,575.3 670.7,575.2 671.1,574.8 671.5,575.2 671.9,575.6 672.3,575.2 672.7,575.5 673.1,575.3 673.5,575.0"/>
<polyline points="392.0,690.0 392.4,690.0 392.8,690.2 393.2,690.2 393.6,690.7 394.0,689.7 394.4,689.2 394.8,690.4 395.2,689.8 395.6,689.9 396.0,691.0 396.4,690.5 396.8,690.1 397.2,690.2 397.6,689.7 398.0,690.0 398.4,689.3 398.8,689.2 399.2,689.2 399.6,690.0 400.0,690.0 400.4,688.9 400.8,689.6 401.2,689.0 401.7,689.5 402.1,688.8 402.5,689.2 402.9,688.7 403.3,688.5 403.7,688.5 404.1,688.5 404.5,688.1 404.9,687.7 405.3,689.0 405.7,687.9 406.1,687.2 406.5,686.8 406.9,686.5 407.3,687.4 407.7,688.2 408.1,686.7 408.5,687.2 408.9,686.4 409.3,687.6 409.7,687.2 410.1,687.1 410.5,687.4 410.9,687.4 411.3,687.0 411.7,686.1 412.1,685.6 412.5,685.7 412.9,685.2 413.3,686.8 413.7,685.7 414.1,685.7 414.5,685.6 414.9,686.3 415.3,684.9 415.7,685.6 416.1,685.1 416.5,684.7 416.9,683.7 417.3,684.9 417.7,684.0 418.1,684.0 418.5,684.2 418.9,683.9 419.3,684.3 419.7,683.2 420.1,683.5 420.6,683.4 421.0,683.1 421.4,683.3 421.8,682.7 422.2,683.3 422.6,682.1 423.0,681.6 423.4,682.1 423.8,682.6 424.2,681.6 424.6,681.4 425.0,681.4 425.4,681.5 425.8,681.1 426.2,681.2 426.6,680.0 427.0,681.6 427.4,680.9 427.8,680.0 428.2,681.0 428.6,680.4 429.0,680.8 429.4,679.2 429.8,680.6 430.2,679.5 430.6,678.2 431.0,679.6 431.4,678.9 431.8,678.4 432.2,678.7 432.6,677.6 433.0,678.9 433.4,678.3 433.8,678.1 434.2,678.9 434.6,678.0 435.0,677.5 435.4,677.2 435.8,677.6 436.2,678.1 436.6,677.1 437.0,676.7 437.4,677.7 437.8,677.1 438.2,677.0 438.6,678.1 439.1,676.1 439.5,676.8 439.9,675.6 440.3,676.3 440.7,676.8 441.1,677.0 441.5,675.5 441.9,676.7 442.3,676.6 442.7,676.0 443.1,677.4 443.5,676.0 443.9,675.4 444.3,676.1 444.7,674.7 445.1,676.7 445.5,676.3 445.9,675.5 446.3,676.0 446.7,676.0 447.1,676.8 447.5,675.3 447.9,674.9 448.3,674.4 448.7,675.4 449.1,674.7 449.5,675.5 449.9,675.9 450.3,675.4 450.7,675.1 451.1,676.4 451.5,675.6 451.9,675.9 452.3,676.3 452.7,675.0 453.1,675.3 453.5,677.3 453.9,675.8 454.3,675.4 454.7,675.9 455.1,675.8 455.5,675.4 455.9,676.0 456.3,676.3 456.7,676.3 457.1,676.7 457.5,675.5 458.0,675.7 458.4,677.1 458.8,676.5 459.2,677.5 459.6,677.1 460.0,676.2 460.4,677.4 460.8,676.6 461.2,677.5 461.6,678.1 462.0,678.7 462.4,677.6 462.8,678.1 463.2,678.0 463.6,678.4 464.0,676.6 464.4,678.0 464.8,678.5 465.2,678.7 465.6,678.1 466.0,679.2 466.4,679.4 466.8,679.0 467.2,679.0 467.6,679.0 468.0,679.4 468.4,680.1 468.8,680.4 469.2,679.5 469.6,679.4 470.0,679.6 470.4,680.7 470.8,680.4 471.2,680.6 471.6,680.8 472.0,680.9 472.4,680.8 472.8,680.4 473.2,680.8 473.6,681.3 474.0,681.6 474.4,681.3 474.8,681.5 475.2,682.5 475.6,681.7 476.0,682.2 476.4,682.1 476.9,681.9 477.3,681.7 477.7,682.3 478.1,682.3 478.5,683.3 478.9,682.4 479.3,682.9 479.7,683.6 480.1,683.3 480.5,683.7 480.9,684.0 481.3,682.8 481.7,683.6 482.1,683.4 482.5,684.6 482.9,684.0 483.3,684.4 483.7,685.0 484.1,684.0 484.5,684.3 484.9,684.5 485.3,684.1 485.7,684.8 486.1,684.4 486.5,684.3 486.9,683.5 487.3,682.5 487.7,680.7 488.1,677.0 488.5,668.9 488.9,658.3 489.3,642.6 489.7,625.4 490.1,615.0 490.5,618.2 490.9,632.2 491.3,649.6 491.7,665.4 492.1,673.8 492.5,680.4 492.9,683.5 493.3,684.6 493.7,685.3 494.1,685.4 494.5,686.0 494.9,686.9 495.4,687.5 495.8,686.7 496.2,687.4 496.6,687.6 497.0,688.0 497.4,687.8 497.8,688.0 498.2,688.3 498.6,687.5 499.0,688.1 499.4,687.4 499.8,687.4 500.2,688.0 500.6,687.8 501.0,688.8 501.4,689.1 501.8,688.5 502.2,688.7 502.6,688.7 503.0,688.8 503.4,689.0 503.8,689.2 504.2,688.9 504.6,688.8 505.0,688.9 505.4,689.6 505.8,689.1 506.2,689.9 506.6,689.2 507.0,690.0 507.4,688.9 507.8,689.2 508.2,689.7 508.6,689.8 509.0,689.5 509.4,690.5 509.8,689.7 510.2,689.8 510.6,689.5 511.0,690.5 511.4,690.1 511.8,690.0 512.2,689.1 512.6,690.0 513.0,689.7 513.4,690.1 513.8,690.3 514.3,689.6 514.7,690.1 515.1,690.4 515.5,690.1 515.9,689.9 516.3,689.6 516.7,689.8 517.1,689.5 517.5,690.5 517.9,690.2 518.3,689.6 518.7,690.1 519.1,689.6 519.5,688.8 519.9,690.7 520.3,690.7 520.7,689.6 521.1,689.9 521.5,690.3 521.9,690.1 522.3,689.9 522.7,690.0 523.1,690.2 523.5,690.0 523.9,690.4 524.3,690.2 524.7,690.0 525.1,690.3 525.5,689.6 525.9,690.9 526.3,689.6 526.7,690.3 527.1,690.5 527.5,690.5 527.9,690.4 528.3,690.9 528.7,689.9 529.1,690.3 529.5,690.4 529.9,690.1 530.3,690.1 530.7,690.9 531.1,690.1 531.5,690.2 531.9,690.3 532.3,690.3 532.7,690.4 533.2,690.3 533.6,690.5 534.0,690.4 534.4,690.6 534.8,691.0 535.2,690.0 535.6,691.1 536.0,690.2 536.4,690.7 536.8,690.5 537.2,690.3 537.6,689.6 538.0,691.1 538.4,690.1 538.8,690.1 539.2,690.8 539.6,690.4 540.0,691.2 540.4,691.1 540.8,690.7 541.2,690.5 541.6,690.7 542.0,689.8 542.4,690.5 542.8,690.5 543.2,690.2 543.6,690.5 544.0,689.8 544.4,690.8 544.8,690.9 545.2,689.9 545.6,690.5 546.0,691.0 546.4,690.6 546.8,690.0 547.2,690.0 547.6,690.8 548.0,691.2 548.4,690.0 548.8,690.4 549.2,690.1 549.6,690.3 550.0,690.5 550.4,690.4 550.8,690.1 551.2,691.3 551.7,690.4 552.1,690.4 552.5,690.9 552.9,690.4 553.3,690.4 553.7,690.8 554.1,690.0 554.5,690.8 554.9,690.9 555.3,690.7 555.7,690.4 556.1,690.5 556.5,689.7 556.9,690.4 557.3,690.6 557.7,690.8 558.1,690.5 558.5,690.3 558.9,690.1 559.3,690.5 559.7,690.5 560.1,691.0 560.5,690.5 560.9,690.3 561.3,690.5 561.7,690.3 562.1,690.4 562.5,689.6 562.9,689.9 563.3,690.0 563.7,690.7 564.1,690.5 564.5,690.6 564.9,691.0 565.3,690.1 565.7,691.0 566.1,690.7 566.5,690.3 566.9,691.2 567.3,690.0 567.7,690.1 568.1,690.5 568.5,690.8 568.9,690.5 569.3,689.7 569.7,690.5 570.1,690.6 570.6,691.7 571.0,691.2 571.4,690.7 571.8,690.2 572.2,690.8 572.6,690.2 573.0,690.7 573.4,690.8 573.8,690.5 574.2,690.8 574.6,690.5 575.0,690.4 575.4,691.3 575.8,690.9 576.2,690.6 576.6,690.4 577.0,690.8 577.4,690.9 577.8,691.1 578.2,691.3 578.6,690.9 579.0,690.3 579.4,691.6 579.8,691.2 580.2,691.1 580.6,691.3 581.0,690.2 581.4,690.6 581.8,690.6 582.2,691.3 582.6,690.3 583.0,690.7 583.4,691.4 583.8,691.1 584.2,690.7 584.6,691.6 585.0,690.3 585.4,691.0 585.8,690.8 586.2,691.1 586.6,690.8 587.0,690.5 587.4,691.0 587.8,690.4 588.2,691.1 588.6,690.8 589.0,691.3 589.5,690.7 589.9,690.7 590.3,691.1 590.7,691.4 591.1,690.1 591.5,691.0 591.9,691.2 592.3,690.4 592.7,690.6 593.1,691.2 593.5,690.7 593.9,690.7 594.3,691.7 594.7,690.6 595.1,690.7 595.5,690.1 595.9,690.6 596.3,690.5 596.7,691.7 597.1,691.5 597.5,690.5 597.9,691.9 598.3,691.4 598.7,691.0 599.1,691.4 599.5,691.2 599.9,690.8 600.3,690.4 600.7,690.7 601.1,691.1 601.5,691.0 601.9,690.8 602.3,691.5 602.7,690.7 603.1,691.5 603.5,691.0 603.9,691.2 604.3,690.7 604.7,691.2 605.1,690.9 605.5,690.5 605.9,691.2 606.3,691.2 606.7,691.6 607.1,691.4 607.5,690.8 608.0,691.0 608.4,690.3 608.8,690.8 609.2,691.8 609.6,691.9 610.0,691.6 610.4,691.4 610.8,691.6 611.2,691.5 611.6,690.6 612.0,691.0 612.4,691.8 612.8,691.8 613.2,691.5 613.6,691.3 614.0,691.2 614.4,691.2 614.8,691.1 615.2,690.7 615.6,691.5 616.0,691.3 616.4,691.4 616.8,692.2 617.2,691.7 617.6,691.2 618.0,691.7 618.4,690.9 618.8,691.9 619.2,691.6 619.6,691.5 620.0,691.8 620.4,692.2 620.8,691.4 621.2,691.2 621.6,692.5 622.0,691.6 622.4,692.2 622.8,691.4 623.2,691.8 623.6,691.4 624.0,691.9 624.4,691.6 624.8,691.4 625.2,692.3 625.6,691.9 626.0,690.9 626.4,691.7 626.9,691.4 627.3,691.3 627.7,691.6 628.1,691.6 628.5,691.8 628.9,691.5 629.3,691.1 629.7,691.6 630.1,692.2 630.5,691.3 630.9,692.1 631.3,692.1 631.7,691.7 632.1,692.0 632.5,691.6 632.9,691.8 633.3,691.6 633.7,692.2 634.1,692.5 634.5,691.7 634.9,692.5 635.3,691.2 635.7,691.7 636.1,691.6 636.5,692.7 636.9,691.8 637.3,692.4 637.7,691.3 638.1,692.1 638.5,692.3 638.9,692.1 639.3,691.0 639.7,692.1 640.1,692.4 640.5,692.5 640.9,692.1 641.3,691.1 641.7,691.6 642.1,691.9 642.5,691.0 642.9,691.5 643.3,691.2 643.7,691.6 644.1,692.0 644.5,691.6 644.9,693.2 645.3,692.2 645.8,692.4 646.2,692.0 646.6,692.4 647.0,692.3 647.4,691.8 647.8,691.8 648.2,692.5 648.6,692.4 649.0,691.4 649.4,691.6 649.8,692.4 650.2,692.5 650.6,692.8 651.0,692.1 651.4,692.8 651.8,692.5 652.2,692.4 652.6,692.6 653.0,693.0 653.4,692.9 653.8,693.0 654.2,692.4 654.6,692.6 655.0,692.2 655.4,692.5 655.8,692.6 656.2,692.6 656.6,693.0 657.0,692.9 657.4,693.1 657.8,692.8 658.2,693.2 658.6,692.9 659.0,693.2 659.4,693.0 659.8,693.1 660.2,692.8 660.6,692.4 661.0,692.3 661.4,693.7 661.8,693.1 662.2,693.1 662.6,692.9 663.0,692.8 663.4,694.1 663.8,692.6 664.3,693.0 664.7,693.0 665.1,692.6 665.5,692.6 665.9,692.8 666.3,692.9 666.7,692.9 667.1,693.4 667.5,692.7 667.9,693.3 668.3,693.7 668.7,693.5 669.1,692.7 669.5,692.1 669.9,693.5 670.3,693.4 670.7,693.0 671.1,693.7 671.5,693.1 671.9,693.3 672.3,692.9 672.7,693.4 673.1,693.1 673.5,693.1"/>
<polyline points="392.0,823.0 392.4,822.6 392.8,821.9 393.2,822.8 393.6,822.8 394.0,822.0 394.4,822.2 394.8,822.3 395.2,822.1 395.6,822.2 396.0,822.4 396.4,821.9 396.8,822.9 397.2,821.7 397.6,821.7 398.0,822.7 398.4,822.8 398.8,821.8 399.2,821.6 399.6,821.2 400.0,822.0 400.4,821.5 400.8,821.0 401.2,821.5 401.7,821.8 402.1,821.5 402.5,822.1 402.9,821.5 403.3,821.1 403.7,820.9 404.1,821.0 404.5,821.2 404.9,821.0 405.3,821.0 405.7,820.5 406.1,820.7 406.5,820.8 406.9,820.1 407.3,819.5 407.7,820.7 408.1,820.1 408.5,819.5 408.9,819.7 409.3,819.4 409.7,818.6 410.1,819.2 410.5,818.5 410.9,819.2 411.3,818.9 411.7,819.4 412.1,818.7 412.5,818.8 412.9,818.3 413.3,818.2 413.7,817.6 414.1,818.6 414.5,818.0 414.9,817.6 415.3,817.8 415.7,817.4 416.1,817.1 416.5,817.4 416.9,817.7 417.3,816.9 417.7,816.2 418.1,816.4 418.5,817.4 418.9,816.0 419.3,816.9 419.7,816.0 420.1,816.3 420.6,815.8 421.0,814.9 421.4,815.3 421.8,816.4 422.2,815.2 422.6,815.4 423.0,814.7 423.4,814.7 423.8,814.8 424.2,814.7 424.6,815.4 425.0,814.1 425.4,813.9 425.8,813.5 426.2,813.0 426.6,812.7 427.0,813.7 427.4,812.2 427.8,813.8 428.2,813.3 428.6,812.6 429.0,812.0 429.4,812.4 429.8,812.3 430.2,812.7 430.6,811.6 431.0,811.6 431.4,811.7 431.8,811.4 432.2,811.1 432.6,810.3 433.0,810.2 433.4,810.6 433.8,810.7 434.2,811.2 434.6,811.8 435.0,811.4 435.4,810.5 435.8,811.2 436.2,810.0 436.6,809.6 437.0,811.1 437.4,809.1 437.8,809.4 438.2,809.3 438.6,810.2 439.1,808.9 439.5,809.6 439.9,808.8 440.3,808.3 440.7,809.0 441.1,808.9 441.5,808.0 441.9,808.1 442.3,808.1 442.7,809.0 443.1,808.6 443.5,808.5 443.9,808.5 444.3,807.9 444.7,808.4 445.1,807.7 445.5,807.3 445.9,807.6 446.3,808.1 446.7,808.0 447.1,808.5 447.5,806.9 447.9,807.7 448.3,808.0 448.7,807.2 449.1,807.9 449.5,807.5 449.9,807.1 450.3,808.4 450.7,807.0 451.1,808.4 451.5,807.6 451.9,807.3 452.3,807.3 452.7,807.4 453.1,807.4 453.5,808.1 453.9,806.9 454.3,808.7 454.7,808.5 455.1,808.8 455.5,807.5 455.9,806.8 456.3,807.8 456.7,808.2 457.1,808.5 457.5,808.1 458.0,808.4 458.4,808.6 458.8,807.7 459.2,809.7 459.6,808.1 460.0,809.0 460.4,809.5 460.8,808.5 461.2,809.1 461.6,810.1 462.0,809.1 462.4,809.9 462.8,809.6 463.2,809.7 463.6,810.0 464.0,809.6 464.4,809.7 464.8,810.5 465.2,810.2 465.6,810.5 466.0,809.6 466.4,810.4 466.8,811.2 467.2,811.1 467.6,811.0 468.0,810.6 468.4,810.7 468.8,811.4 469.2,812.0 469.6,811.4 470.0,812.2 470.4,811.5 470.8,812.4 471.2,811.4 471.6,812.1 472.0,811.6 472.4,812.6 472.8,812.7 473.2,812.0 473.6,812.3 474.0,812.6 474.4,812.1 474.8,812.6 475.2,812.7 475.6,813.7 476.0,814.1 476.4,813.3 476.9,813.5 477.3,813.9 477.7,813.6 478.1,813.9 478.5,814.6 478.9,814.4 479.3,814.3 479.7,814.2 480.1,815.3 480.5,814.4 480.9,814.8 481.3,814.3 481.7,814.6 482.1,815.0 482.5,814.8 482.9,815.4 483.3,815.2 483.7,814.4 484.1,814.0 484.5,815.6 484.9,814.7 485.3,815.6 485.7,814.7 486.1,814.0 486.5,814.3 486.9,813.1 487.3,811.9 487.7,808.5 488.1,803.1 488.5,791.5 488.9,770.6 489.3,745.8 489.7,716.6 490.1,700.5 490.5,703.7 490.9,726.3 491.3,757.8 491.7,781.7 492.1,798.1 492.5,806.0 492.9,811.9 493.3,814.4 493.7,815.4 494.1,816.3 494.5,816.3 494.9,817.1 495.4,817.0 495.8,817.7 496.2,818.3 496.6,817.9 497.0,818.4 497.4,818.5 497.8,818.9 498.2,819.4 498.6,819.2 499.0,819.4 499.4,818.7 499.8,819.3 500.2,819.9 500.6,819.3 501.0,819.6 501.4,819.4 501.8,820.5 502.2,819.8 502.6,819.8 503.0,820.4 503.4,820.7 503.8,820.5 504.2,820.8 504.6,820.5 505.0,820.4 505.4,820.3 505.8,820.4 506.2,820.4 506.6,820.9 507.0,820.7 507.4,820.8 507.8,821.1 508.2,820.9 508.6,820.3 509.0,820.6 509.4,820.5 509.8,820.2 510.2,821.1 510.6,820.6 511.0,820.6 511.4,820.7 511.8,821.6 512.2,821.1 512.6,821.7 513.0,821.2 513.4,821.1 513.8,821.6 514.3,821.6 514.7,821.4 515.1,821.0 515.5,821.2 515.9,820.9 516.3,821.4 516.7,821.5 517.1,822.1 517.5,822.1 517.9,821.8 518.3,822.0 518.7,821.7 519.1,822.8 519.5,822.3 519.9,822.7 520.3,821.8 520.7,821.8 521.1,822.1 521.5,821.8 521.9,821.8 522.3,821.3 522.7,822.1 523.1,821.8 523.5,822.1 523.9,821.6 524.3,821.0 524.7,822.0 525.1,822.2 525.5,821.2 525.9,821.4 526.3,821.6 526.7,821.7 527.1,821.1 527.5,822.5 527.9,822.2 528.3,821.5 528.7,821.0 529.1,822.0 529.5,822.7 529.9,822.2 530.3,822.3 530.7,821.4 531.1,821.9 531.5,821.2 531.9,822.7 532.3,822.1 532.7,821.0 533.2,821.1 533.6,822.0 534.0,821.9 534.4,821.7 534.8,822.1 535.2,822.7 535.6,822.0 536.0,821.1 536.4,821.8 536.8,821.3 537.2,821.5 537.6,822.0 538.0,821.8 538.4,821.4 538.8,821.9 539.2,821.5 539.6,822.1 540.0,821.8 540.4,822.0 540.8,821.8 541.2,822.2 541.6,821.8 542.0,821.9 542.4,821.6 542.8,821.9 543.2,821.1 543.6,823.0 544.0,821.6 544.4,821.9 544.8,821.7 545.2,821.7 545.6,822.1 546.0,821.7 546.4,821.7 546.8,821.3 547.2,821.5 547.6,821.4 548.0,822.6 548.4,821.3 548.8,821.4 549.2,822.0 549.6,822.5 550.0,821.2 550.4,821.2 550.8,822.0 551.2,822.0 551.7,821.3 552.1,821.1 552.5,821.5 552.9,822.2 553.3,821.9 553.7,822.2 554.1,821.9 554.5,821.9 554.9,822.2 555.3,821.9 555.7,822.0 556.1,821.5 556.5,821.7 556.9,822.1 557.3,821.8 557.7,821.6 558.1,822.2 558.5,822.2 558.9,822.0 559.3,821.6 559.7,822.3 560.1,823.0 560.5,821.6 560.9,821.3 561.3,821.7 561.7,821.6 562.1,821.5 562.5,821.5 562.9,822.4 563.3,822.4 563.7,822.6 564.1,822.3 564.5,821.8 564.9,822.5 565.3,821.8 565.7,821.9 566.1,821.5 566.5,822.6 566.9,822.5 567.3,821.9 567.7,821.9 568.1,822.1 568.5,822.1 568.9,822.4 569.3,822.1 569.7,822.2 570.1,821.5 570.6,822.0 571.0,821.3 571.4,822.8 571.8,822.7 572.2,822.4 572.6,822.6 573.0,823.0 573.4,822.5 573.8,821.5 574.2,822.1 574.6,821.2 575.0,821.8 575.4,821.6 575.8,822.2 576.2,822.3 576.6,821.8 577.0,822.1 577.4,822.3 577.8,822.1 578.2,822.1 578.6,821.2 579.0,822.0 579.4,822.5 579.8,822.3 580.2,821.6 580.6,822.1 581.0,822.4 581.4,821.8 581.8,822.5 582.2,821.9 582.6,822.1 583.0,822.2 583.4,823.2 583.8,822.2 584.2,822.1 584.6,822.6 585.0,822.1 585.4,822.4 585.8,821.4 586.2,822.4 586.6,822.3 587.0,821.8 587.4,822.9 587.8,822.3 588.2,822.3 588.6,821.8 589.0,821.7 589.5,822.1 589.9,821.8 590.3,822.6 590.7,822.8 591.1,822.1 591.5,821.7 591.9,822.3 592.3,822.0 592.7,822.5 593.1,822.5 593.5,822.3 593.9,822.5 594.3,822.9 594.7,823.2 595.1,822.2 595.5,822.8 595.9,822.4 596.3,822.0 596.7,823.0 597.1,822.6 597.5,822.5 597.9,822.6 598.3,822.4 598.7,822.0 599.1,823.2 599.5,822.8 599.9,822.5 600.3,822.8 600.7,822.9 601.1,822.2 601.5,822.5 601.9,822.0 602.3,822.2 602.7,821.5 603.1,822.2 603.5,820.6 603.9,820.5 604.3,820.4 604.7,820.2 605.1,821.2 605.5,821.2 605.9,821.5 606.3,822.0 606.7,821.9 607.1,822.9 607.5,822.7 608.0,822.9 608.4,822.0 608.8,822.7 609.2,822.3 609.6,822.7 610.0,823.2 610.4,822.8 610.8,822.7 611.2,823.2 611.6,823.2 612.0,823.6 612.4,822.1 612.8,823.0 613.2,822.7 613.6,822.5 614.0,822.9 614.4,822.4 614.8,822.0 615.2,822.5 615.6,822.8 616.0,823.7 616.4,822.7 616.8,822.5 617.2,822.2 617.6,822.9 618.0,822.9 618.4,823.1 618.8,822.4 619.2,822.7 619.6,822.1 620.0,823.1 620.4,822.5 620.8,822.0 621.2,823.6 621.6,823.3 622.0,823.3 622.4,823.3 622.8,822.8 623.2,823.6 623.6,822.8 624.0,824.0 624.4,823.3 624.8,822.5 625.2,823.6 625.6,824.1 626.0,823.2 626.4,823.7 626.9,823.2 627.3,823.1 627.7,822.3 628.1,823.9 628.5,823.2 628.9,823.5 629.3,822.9 629.7,823.0 630.1,823.9 630.5,823.3 630.9,823.3 631.3,823.0 631.7,823.6 632.1,823.8 632.5,823.3 632.9,823.4 633.3,823.0 633.7,824.1 634.1,823.3 634.5,823.5 634.9,824.3 635.3,823.5 635.7,823.0 636.1,823.3 636.5,823.5 636.9,824.4 637.3,823.8 637.7,823.6 638.1,824.0 638.5,824.2 638.9,823.4 639.3,824.3 639.7,824.0 640.1,823.8 640.5,822.7 640.9,823.6 641.3,824.0 641.7,823.2 642.1,824.1 642.5,823.0 642.9,822.5 643.3,823.3 643.7,823.3 644.1,823.7 644.5,823.5 644.9,824.2 645.3,823.6 645.8,823.9 646.2,823.5 646.6,823.7 647.0,824.1 647.4,823.8 647.8,823.9 648.2,824.0 648.6,824.2 649.0,824.4 649.4,824.5 649.8,824.6 650.2,824.3 650.6,824.0 651.0,823.6 651.4,824.1 651.8,823.9 652.2,823.6 652.6,824.9 653.0,823.6 653.4,824.5 653.8,824.6 654.2,824.3 654.6,825.4 655.0,824.4 655.4,824.1 655.8,825.1 656.2,824.1 656.6,823.9 657.0,824.1 657.4,824.2 657.8,824.5 658.2,824.7 658.6,823.9 659.0,824.7 659.4,825.4 659.8,824.3 660.2,824.6 660.6,824.9 661.0,825.1 661.4,824.4 661.8,824.3 662.2,824.3 662.6,825.1 663.0,825.1 663.4,823.9 663.8,823.9 664.3,824.3 664.7,824.2 665.1,824.9 665.5,824.9 665.9,825.6 666.3,825.1 666.7,824.9 667.1,825.3 667.5,824.5 667.9,824.4 668.3,824.9 668.7,825.3 669.1,824.3 669.5,825.3 669.9,825.3 670.3,824.8 670.7,825.1 671.1,824.9 671.5,825.1 671.9,825.3 672.3,824.7 672.7,825.5 673.1,825.4 673.5,825.4"/>
<polyline points="392.0,902.1 392.4,902.2 392.8,903.2 393.2,902.6 393.6,902.5 394.0,902.5 394.4,902.2 394.8,902.6 395.2,902.3 395.6,902.3 396.0,902.8 396.4,902.0 396.8,902.9 397.2,901.4 397.6,903.4 398.0,901.7 398.4,902.5 398.8,902.6 399.2,902.1 399.6,902.4 400.0,901.9 400.4,901.1 400.8,902.0 401.2,902.3 401.7,901.4 402.1,900.9 402.5,901.3 402.9,901.6 403.3,901.5 403.7,901.8 404.1,901.5 404.5,901.4 404.9,900.2 405.3,902.0 405.7,900.9 406.1,901.2 406.5,900.5 406.9,900.5 407.3,900.5 407.7,901.1 408.1,901.0 408.5,900.5 408.9,901.0 409.3,899.8 409.7,900.1 410.1,899.6 410.5,900.3 410.9,899.6 411.3,899.9 411.7,900.1 412.1,898.2 412.5,900.1 412.9,899.1 413.3,898.7 413.7,897.8 414.1,898.4 414.5,897.4 414.9,898.4 415.3,898.1 415.7,899.0 416.1,897.8 416.5,898.3 416.9,898.2 417.3,898.5 417.7,897.3 418.1,897.6 418.5,896.3 418.9,896.4 419.3,896.7 419.7,896.7 420.1,895.9 420.6,896.2 421.0,896.6 421.4,895.8 421.8,895.8 422.2,895.3 422.6,896.3 423.0,896.4 423.4,895.4 423.8,895.1 424.2,895.9 424.6,895.1 425.0,894.4 425.4,893.8 425.8,894.1 426.2,895.4 426.6,893.8 427.0,895.5 427.4,893.8 427.8,893.5 428.2,894.2 428.6,893.2 429.0,893.4 429.4,892.5 429.8,892.2 430.2,892.3 430.6,892.7 431.0,892.1 431.4,891.2 431.8,892.4 432.2,891.9 432.6,891.7 433.0,891.4 433.4,890.3 433.8,892.4 434.2,891.1 434.6,891.5 435.0,891.9 435.4,891.6 435.8,890.9 436.2,890.7 436.6,890.8 437.0,891.0 437.4,890.7 437.8,890.0 438.2,890.4 438.6,890.2 439.1,890.3 439.5,889.9 439.9,890.5 440.3,889.7 440.7,890.1 441.1,889.5 441.5,889.0 441.9,888.7 442.3,889.1 442.7,889.4 443.1,889.8 443.5,889.0 443.9,888.6 444.3,888.6 444.7,889.6 445.1,888.8 445.5,888.4 445.9,889.1 446.3,887.9 446.7,888.7 447.1,888.6 447.5,888.5 447.9,887.9 448.3,889.1 448.7,889.5 449.1,887.7 449.5,888.6 449.9,888.9 450.3,889.8 450.7,888.2 451.1,887.9 451.5,888.5 451.9,889.7 452.3,888.6 452.7,888.7 453.1,889.6 453.5,887.4 453.9,887.4 454.3,889.2 454.7,889.2 455.1,888.0 455.5,889.1 455.9,888.9 456.3,889.1 456.7,888.5 457.1,888.8 457.5,888.6 458.0,889.2 458.4,889.1 458.8,890.3 459.2,889.7 459.6,888.6 460.0,889.8 460.4,890.4 460.8,889.9 461.2,890.4 461.6,889.9 462.0,890.4 462.4,889.5 462.8,890.6 463.2,889.5 463.6,891.1 464.0,889.6 464.4,889.4 464.8,891.0 465.2,890.7 465.6,891.0 466.0,891.3 466.4,891.1 466.8,890.8 467.2,891.5 467.6,891.7 468.0,891.9 468.4,892.9 468.8,891.5 469.2,892.1 469.6,892.4 470.0,892.0 470.4,891.7 470.8,892.2 471.2,893.2 471.6,892.6 472.0,893.2 472.4,892.7 472.8,893.4 473.2,892.9 473.6,893.0 474.0,893.6 474.4,893.7 474.8,894.6 475.2,893.1 475.6,894.4 476.0,895.1 476.4,895.1 476.9,894.3 477.3,894.3 477.7,894.5 478.1,895.0 478.5,895.1 478.9,895.3 479.3,895.5 479.7,894.8 480.1,894.9 480.5,894.9 480.9,895.0 481.3,895.7 481.7,896.0 482.1,897.3 482.5,896.3 482.9,896.2 483.3,896.9 483.7,895.9 484.1,896.5 484.5,896.9 484.9,896.8 485.3,896.6 485.7,896.1 486.1,895.6 486.5,895.9 486.9,895.3 487.3,895.3 487.7,893.2 488.1,890.1 488.5,882.0 488.9,872.6 489.3,856.2 489.7,840.1 490.1,830.9 490.5,834.2 490.9,848.5 491.3,864.3 491.7,876.9 492.1,887.2 492.5,892.6 492.9,894.6 493.3,896.3 493.7,896.6 494.1,897.6 494.5,897.1 494.9,898.3 495.4,898.5 495.8,898.8 496.2,898.9 496.6,900.0 497.0,899.5 497.4,899.9 497.8,900.2 498.2,900.4 498.6,900.4 499.0,899.9 499.4,899.8 499.8,900.0 500.2,900.3 500.6,900.6 501.0,900.6 501.4,901.2 501.8,900.7 502.2,901.7 502.6,901.4 503.0,900.8 503.4,901.4 503.8,899.8 504.2,901.8 504.6,901.4 505.0,901.4 505.4,900.6 505.8,902.5 506.2,901.3 506.6,901.4 507.0,902.0 507.4,901.5 507.8,901.2 508.2,901.9 508.6,901.2 509.0,902.0 509.4,901.8 509.8,902.3 510.2,901.3 510.6,902.4 511.0,902.0 511.4,902.8 511.8,901.6 512.2,902.8 512.6,902.3 513.0,902.4 513.4,901.7 513.8,902.3 514.3,902.4 514.7,901.7 515.1,901.6 515.5,901.8 515.9,902.8 516.3,902.3 516.7,902.6 517.1,902.4 517.5,902.3 517.9,902.4 518.3,902.1 518.7,902.8 519.1,902.4 519.5,902.4 519.9,901.7 520.3,902.5 520.7,902.1 521.1,902.2 521.5,902.8 521.9,901.9 522.3,902.3 522.7,902.7 523.1,902.9 523.5,902.2 523.9,902.6 524.3,902.6 524.7,902.0 525.1,901.5 525.5,901.6 525.9,902.7 526.3,902.5 526.7,901.9 527.1,902.2 527.5,902.3 527.9,902.4 528.3,902.5 528.7,903.5 529.1,902.2 529.5,902.6 529.9,902.2 530.3,902.3 530.7,902.2 531.1,902.4 531.5,902.3 531.9,902.7 532.3,902.6 532.7,902.2 533.2,903.4 533.6,902.0 534.0,902.7 534.4,903.5 534.8,902.3 535.2,903.1 535.6,903.2 536.0,902.7 536.4,901.8 536.8,903.2 537.2,902.6 537.6,902.3 538.0,903.1 538.4,902.3 538.8,903.0 539.2,902.3 539.6,902.8 540.0,902.1 540.4,902.4 540.8,902.2 541.2,902.3 541.6,902.7 542.0,902.5 542.4,902.7 542.8,903.1 543.2,902.5 543.6,901.8 544.0,902.5 544.4,902.6 544.8,903.0 545.2,903.0 545.6,903.0 546.0,902.5 546.4,902.9 546.8,902.0 547.2,903.2 547.6,902.8 548.0,902.8 548.4,902.4 548.8,902.6 549.2,902.3 549.6,902.9 550.0,902.0 550.4,903.0 550.8,902.8 551.2,903.5 551.7,902.6 552.1,902.6 552.5,902.7 552.9,902.6 553.3,902.6 553.7,902.1 554.1,902.2 554.5,902.4 554.9,902.5 555.3,902.1 555.7,902.1 556.1,902.5 556.5,903.0 556.9,902.6 557.3,902.9 557.7,903.1 558.1,903.0 558.5,902.5 558.9,902.5 559.3,901.9 559.7,902.4 560.1,902.9 560.5,902.2 560.9,903.3 561.3,903.3 561.7,902.5 562.1,903.1 562.5,902.1 562.9,902.3 563.3,902.5 563.7,902.7 564.1,902.6 564.5,902.4 564.9,903.6 565.3,902.9 565.7,902.9 566.1,903.0 566.5,902.8 566.9,902.7 567.3,902.5 567.7,902.1 568.1,903.4 568.5,902.4 568.9,902.1 569.3,902.4 569.7,902.1 570.1,903.7 570.6,903.0 571.0,903.4 571.4,903.4 571.8,903.1 572.2,903.1 572.6,902.5 573.0,902.8 573.4,902.6 573.8,902.9 574.2,902.5 574.6,903.4 575.0,903.2 575.4,902.8 575.8,902.2 576.2,903.2 576.6,903.3 577.0,902.9 577.4,902.4 577.8,903.1 578.2,903.4 578.6,902.1 579.0,903.2 579.4,902.1 579.8,903.0 580.2,903.7 580.6,903.0 581.0,903.2 581.4,902.8 581.8,903.0 582.2,904.0 582.6,903.6 583.0,902.9 583.4,902.8 583.8,903.0 584.2,903.9 584.6,903.1 585.0,903.5 585.4,902.9 585.8,902.5 586.2,903.6 586.6,903.0 587.0,902.7 587.4,902.8 587.8,902.8 588.2,902.8 588.6,902.4 589.0,903.6 589.5,903.3 589.9,903.5 590.3,903.0 590.7,903.3 591.1,903.2 591.5,903.6 591.9,903.5 592.3,903.3 592.7,902.9 593.1,902.6 593.5,902.8 593.9,902.9 594.3,902.9 594.7,902.6 595.1,903.9 595.5,903.3 595.9,902.3 596.3,902.7 596.7,902.6 597.1,903.3 597.5,903.7 597.9,902.8 598.3,903.5 598.7,903.1 599.1,903.7 599.5,903.8 599.9,903.3 600.3,903.5 600.7,903.1 601.1,902.9 601.5,902.5 601.9,903.1 602.3,902.7 602.7,902.3 603.1,902.2 603.5,901.7 603.9,901.1 604.3,901.2 604.7,902.0 605.1,901.8 605.5,902.8 605.9,902.1 606.3,902.3 606.7,903.1 607.1,903.5 607.5,903.0 608.0,903.6 608.4,903.7 608.8,903.8 609.2,903.4 609.6,903.4 610.0,902.8 610.4,903.5 610.8,903.6 611.2,904.1 611.6,903.0 612.0,903.2 612.4,903.1 612.8,904.0 613.2,902.5 613.6,903.2 614.0,904.5 614.4,903.9 614.8,903.1 615.2,903.6 615.6,904.0 616.0,903.9 616.4,903.6 616.8,903.4 617.2,904.1 617.6,903.8 618.0,904.1 618.4,903.9 618.8,903.6 619.2,904.4 619.6,903.6 620.0,904.0 620.4,903.6 620.8,903.8 621.2,903.8 621.6,903.6 622.0,904.0 622.4,904.5 622.8,904.7 623.2,904.6 623.6,903.9 624.0,904.6 624.4,904.2 624.8,904.8 625.2,903.5 625.6,904.7 626.0,903.8 626.4,904.6 626.9,903.9 627.3,904.5 627.7,904.0 628.1,903.4 628.5,903.8 628.9,904.1 629.3,904.2 629.7,903.3 630.1,903.7 630.5,903.9 630.9,904.2 631.3,904.4 631.7,904.0 632.1,903.7 632.5,904.4 632.9,904.2 633.3,904.7 633.7,904.2 634.1,904.6 634.5,904.0 634.9,904.5 635.3,904.5 635.7,904.6 636.1,904.1 636.5,904.4 636.9,904.1 637.3,904.4 637.7,904.8 638.1,905.7 638.5,904.6 638.9,904.8 639.3,904.6 639.7,905.0 640.1,904.7 640.5,904.9 640.9,904.5 641.3,905.3 641.7,904.7 642.1,903.3 642.5,904.0 642.9,903.8 643.3,903.0 643.7,903.7 644.1,904.1 644.5,904.1 644.9,904.6 645.3,904.0 645.8,905.1 646.2,905.1 646.6,905.0 647.0,904.8 647.4,904.9 647.8,904.8 648.2,905.4 648.6,905.2 649.0,905.8 649.4,904.9 649.8,905.6 650.2,904.9 650.6,905.0 651.0,904.7 651.4,905.4 651.8,905.1 652.2,905.4 652.6,905.8 653.0,905.2 653.4,905.4 653.8,905.6 654.2,905.3 654.6,905.1 655.0,905.5 655.4,905.5 655.8,905.7 656.2,905.7 656.6,905.1 657.0,905.6 657.4,905.9 657.8,905.3 658.2,905.6 658.6,905.2 659.0,905.6 659.4,906.2 659.8,905.6 660.2,905.2 660.6,905.7 661.0,905.7 661.4,906.0 661.8,905.1 662.2,905.3 662.6,905.6 663.0,905.1 663.4,906.1 663.8,904.9 664.3,905.4 664.7,905.2 665.1,905.5 665.5,906.1 665.9,906.0 666.3,906.2 666.7,906.1 667.1,905.1 667.5,906.0 667.9,905.2 668.3,905.7 668.7,905.8 669.1,905.7 669.5,906.1 669.9,905.7 670.3,906.6 670.7,906.2 671.1,906.5 671.5,906.3 671.9,906.4 672.3,906.0 672.7,906.8 673.1,905.7 673.5,906.3"/>
</g>
<g fill="none" stroke="#231f20" stroke-width="1.9">
<rect x="36.05" y="54.1" width="282.4" height="873.9"/>
<line x1="36.05" y1="344.0" x2="318.5" y2="344.0"/>
<line x1="36.05" y1="617.9" x2="318.5" y2="617.9"/>
<line x1="36.0" y1="928.05" x2="36.0" y2="934.9"/>
<line x1="56.2" y1="928.05" x2="56.2" y2="932.8"/>
<line x1="76.4" y1="928.05" x2="76.4" y2="934.9"/>
<line x1="96.6" y1="928.05" x2="96.6" y2="932.8"/>
<line x1="116.8" y1="928.05" x2="116.8" y2="934.9"/>
<line x1="136.9" y1="928.05" x2="136.9" y2="932.8"/>
<line x1="157.1" y1="928.05" x2="157.1" y2="934.9"/>
<line x1="177.3" y1="928.05" x2="177.3" y2="932.8"/>
<line x1="197.4" y1="928.05" x2="197.4" y2="934.9"/>
<line x1="217.6" y1="928.05" x2="217.6" y2="932.8"/>
<line x1="237.8" y1="928.05" x2="237.8" y2="934.9"/>
<line x1="258.0" y1="928.05" x2="258.0" y2="932.8"/>
<line x1="278.1" y1="928.05" x2="278.1" y2="934.9"/>
<line x1="298.3" y1="928.05" x2="298.3" y2="932.8"/>
<line x1="318.5" y1="928.05" x2="318.5" y2="934.9"/>
<rect x="392.0" y="54.1" width="281.5" height="873.9"/>
<line x1="392.0" y1="266.95" x2="673.5" y2="266.95"/>
<line x1="392.0" y1="601.5" x2="673.5" y2="601.5"/>
<line x1="392.0" y1="928.05" x2="392.0" y2="934.9"/>
<line x1="412.1" y1="928.05" x2="412.1" y2="932.8"/>
<line x1="432.2" y1="928.05" x2="432.2" y2="934.9"/>
<line x1="452.3" y1="928.05" x2="452.3" y2="932.8"/>
<line x1="472.4" y1="928.05" x2="472.4" y2="934.9"/>
<line x1="492.5" y1="928.05" x2="492.5" y2="932.8"/>
<line x1="512.6" y1="928.05" x2="512.6" y2="934.9"/>
<line x1="532.8" y1="928.05" x2="532.8" y2="932.8"/>
<line x1="552.9" y1="928.05" x2="552.9" y2="934.9"/>
<line x1="573.0" y1="928.05" x2="573.0" y2="932.8"/>
<line x1="593.1" y1="928.05" x2="593.1" y2="934.9"/>
<line x1="613.2" y1="928.05" x2="613.2" y2="932.8"/>
<line x1="633.3" y1="928.05" x2="633.3" y2="934.9"/>
<line x1="653.4" y1="928.05" x2="653.4" y2="932.8"/>
<line x1="673.5" y1="928.05" x2="673.5" y2="934.9"/>
</g>
<g font-family="Liberation Sans, Arial, Helvetica, sans-serif" fill="#231f20">
<text transform="translate(36.3,960.1) scale(1.0,1.02)" font-size="21" letter-spacing="-0.45" text-anchor="middle">10</text>
<text transform="translate(76.7,960.1) scale(1.0,1.02)" font-size="21" letter-spacing="-0.45" text-anchor="middle">20</text>
<text transform="translate(117.0,960.1) scale(1.0,1.02)" font-size="21" letter-spacing="-0.45" text-anchor="middle">30</text>
<text transform="translate(157.4,960.1) scale(1.0,1.02)" font-size="21" letter-spacing="-0.45" text-anchor="middle">40</text>
<text transform="translate(197.8,960.1) scale(1.0,1.02)" font-size="21" letter-spacing="-0.45" text-anchor="middle">50</text>
<text transform="translate(238.1,960.1) scale(1.0,1.02)" font-size="21" letter-spacing="-0.45" text-anchor="middle">60</text>
<text transform="translate(278.4,960.1) scale(1.0,1.02)" font-size="21" letter-spacing="-0.45" text-anchor="middle">70</text>
<text transform="translate(318.8,960.1) scale(1.0,1.02)" font-size="21" letter-spacing="-0.45" text-anchor="middle">80</text>
<text transform="translate(125.5,988.2) scale(1.0,1.02)" font-size="21" letter-spacing="0.15">2<tspan font-style="italic">θ</tspan> / degree</text>
<text transform="translate(392.3,960.1) scale(1.0,1.02)" font-size="21" letter-spacing="-0.45" text-anchor="middle">10</text>
<text transform="translate(432.5,960.1) scale(1.0,1.02)" font-size="21" letter-spacing="-0.45" text-anchor="middle">20</text>
<text transform="translate(472.7,960.1) scale(1.0,1.02)" font-size="21" letter-spacing="-0.45" text-anchor="middle">30</text>
<text transform="translate(512.9,960.1) scale(1.0,1.02)" font-size="21" letter-spacing="-0.45" text-anchor="middle">40</text>
<text transform="translate(553.2,960.1) scale(1.0,1.02)" font-size="21" letter-spacing="-0.45" text-anchor="middle">50</text>
<text transform="translate(593.4,960.1) scale(1.0,1.02)" font-size="21" letter-spacing="-0.45" text-anchor="middle">60</text>
<text transform="translate(633.6,960.1) scale(1.0,1.02)" font-size="21" letter-spacing="-0.45" text-anchor="middle">70</text>
<text transform="translate(673.8,960.1) scale(1.0,1.02)" font-size="21" letter-spacing="-0.45" text-anchor="middle">80</text>
<text transform="translate(480.4,988.2) scale(1.0,1.02)" font-size="21" letter-spacing="0.15">2<tspan font-style="italic">θ</tspan> / degree</text>
<text transform="translate(16.1,504.7) rotate(-90) scale(1.0,1.02)" font-size="21" letter-spacing="-0.2" text-anchor="middle">Intensity / a.u.</text>
<text transform="translate(376.8,504.7) rotate(-90) scale(1.0,1.02)" font-size="21" letter-spacing="-0.2" text-anchor="middle">Intensity / a.u.</text>
<text transform="translate(34.0,16.4) scale(1.0,1.02)" font-size="21" letter-spacing="-0.45">ZnO </text><text transform="translate(77.6,16.4) scale(1.0,1.02)" font-size="21" letter-spacing="-0.45">thin </text><text transform="translate(114.8,16.4) scale(1.0,1.02)" font-size="21" letter-spacing="-0.45">films </text><text transform="translate(160.5,16.4) scale(1.0,1.02)" font-size="21" letter-spacing="-0.5">prepared </text>
<text transform="translate(34.0,41.0) scale(1.0,1.02)" font-size="21" letter-spacing="-0.45">by </text><text transform="translate(61.9,41.0) scale(1.0,1.02)" font-size="21" letter-spacing="-0.8">PHEMA </text><text transform="translate(140.3,41.0) scale(1.0,1.02)" font-size="21" letter-spacing="-0.45">matrices</text>
<text transform="translate(392.6,15.6) scale(1.0,1.02)" font-size="21" letter-spacing="-0.45">ZnO </text><text transform="translate(436.0,15.6) scale(1.0,1.02)" font-size="21" letter-spacing="-0.45">thin </text><text transform="translate(473.2,15.6) scale(1.0,1.02)" font-size="21" letter-spacing="-0.45">films </text><text transform="translate(520.1,15.6) scale(1.0,1.02)" font-size="21" letter-spacing="-0.6">prepared </text>
<text transform="translate(392.6,40.5) scale(1.0,1.02)" font-size="21" letter-spacing="-0.45">by </text><text transform="translate(420.0,40.5) scale(1.0,1.02)" font-size="21" letter-spacing="-0.1">PVA </text><text transform="translate(466.6,40.5) scale(1.0,1.02)" font-size="21" letter-spacing="-0.45">matrices</text>
<line x1="33.6" y1="19.1" x2="252.0" y2="19.1" stroke="#231f20" stroke-width="1.6"/>
<line x1="33.6" y1="44.2" x2="215.6" y2="44.2" stroke="#231f20" stroke-width="1.6"/>
<line x1="392.3" y1="18.6" x2="605.0" y2="18.6" stroke="#231f20" stroke-width="1.6"/>
<line x1="392.3" y1="43.8" x2="543.5" y2="43.8" stroke="#231f20" stroke-width="1.6"/>
<text transform="translate(45.4,77.6) scale(1.0,1.02)" font-size="21" letter-spacing="-0.1">(a)</text>
<text transform="translate(45.4,368.0) scale(1.0,1.02)" font-size="21" letter-spacing="-0.1">(b)</text>
<text transform="translate(45.4,647.0) scale(1.0,1.02)" font-size="21" letter-spacing="-0.1">(c)</text>
<text transform="translate(401.6,77.4) scale(1.0,1.02)" font-size="21" letter-spacing="-0.1">(d)</text>
<text transform="translate(401.6,295.2) scale(1.0,1.02)" font-size="21" letter-spacing="-0.1">(e)</text>
<text transform="translate(401.6,633.0) scale(1.0,1.02)" font-size="21" letter-spacing="-0.1">(f)</text>
<text transform="translate(233.6,154.8) scale(1.0,1.02)" font-size="21" letter-spacing="-0.45">10 min</text>
<text transform="translate(233.6,232.8) scale(1.0,1.02)" font-size="21" letter-spacing="-0.45">30 min</text>
<text transform="translate(233.6,294.2) scale(1.0,1.02)" font-size="21" letter-spacing="-0.45">90 min</text>
<text transform="translate(233.6,415.8) scale(1.0,1.02)" font-size="21" letter-spacing="-0.45">10 min</text>
<text transform="translate(233.6,478.9) scale(1.0,1.02)" font-size="21" letter-spacing="-0.45">30 min</text>
<text transform="translate(233.6,558.0) scale(1.0,1.02)" font-size="21" letter-spacing="-0.45">90 min</text>
<text transform="translate(233.6,690.5) scale(1.0,1.02)" font-size="21" letter-spacing="-0.45">10 min</text>
<text transform="translate(233.6,765.6) scale(1.0,1.02)" font-size="21" letter-spacing="-0.45">30 min</text>
<text transform="translate(233.6,869.8) scale(1.0,1.02)" font-size="21" letter-spacing="-0.45">90 min</text>
<text transform="translate(580.9,135.6) scale(1.0,1.02)" font-size="21" letter-spacing="-0.45">10 min</text>
<text transform="translate(580.9,185.6) scale(1.0,1.02)" font-size="21" letter-spacing="-0.45">30 min</text>
<text transform="translate(580.9,231.8) scale(1.0,1.02)" font-size="21" letter-spacing="-0.45">90 min</text>
<text transform="translate(580.9,394.1) scale(1.0,1.02)" font-size="21" letter-spacing="-0.45">10 min</text>
<text transform="translate(580.9,491.8) scale(1.0,1.02)" font-size="21" letter-spacing="-0.45">30 min</text>
<text transform="translate(580.9,558.0) scale(1.0,1.02)" font-size="21" letter-spacing="-0.45">90 min</text>
<text transform="translate(580.9,677.6) scale(1.0,1.02)" font-size="21" letter-spacing="-0.45">10 min</text>
<text transform="translate(580.9,800.0) scale(1.0,1.02)" font-size="21" letter-spacing="-0.45">30 min</text>
<text transform="translate(580.9,882.0) scale(1.0,1.02)" font-size="21" letter-spacing="-0.45">90 min</text>
<text transform="translate(140.9,81.1) rotate(-90) scale(1.0,1.02)" font-size="16.5" letter-spacing="-0.3" text-anchor="middle">002</text>
<text transform="translate(496.6,81.1) rotate(-90) scale(1.0,1.02)" font-size="16.5" letter-spacing="-0.3" text-anchor="middle">002</text>
</g>
</svg>
</body></html>
